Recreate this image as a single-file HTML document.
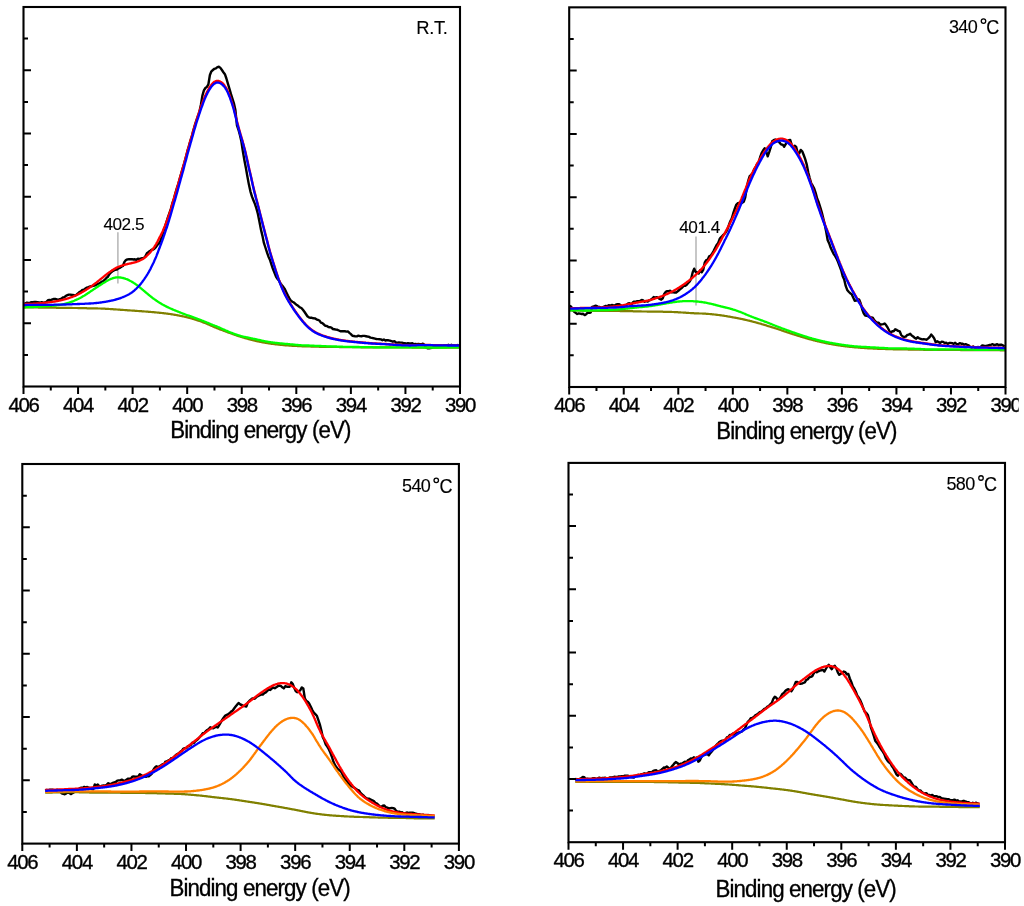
<!DOCTYPE html>
<html><head><meta charset="utf-8"><style>
html,body{margin:0;padding:0;background:#fff;}
svg{display:block;will-change:transform;}
text{font-family:"Liberation Sans", sans-serif;fill:#000;stroke:#000;stroke-width:0.35px;}
.tl{font-size:20.4px;text-anchor:middle;letter-spacing:-1.3px;}
.at{font-size:24px;letter-spacing:-0.95px;}
.lb{font-size:18px;letter-spacing:-0.6px;stroke-width:0.12px;}
.an{font-size:17.2px;letter-spacing:-0.5px;stroke-width:0.12px;}
.deg{font-size:15px;}
</style></head><body>
<svg width="1024" height="906" viewBox="0 0 1024 906">
<defs><clipPath id="clip390" clipPathUnits="userSpaceOnUse"><rect x="900" y="380" width="118.7" height="60"/></clipPath></defs>
<rect width="1024" height="906" fill="#fff"/>
<path d="M117.9,232.3V283.6M696.0,236.4V305.6" stroke="#b0b0b0" stroke-width="1.4" fill="none"/>
<path d="M23.9,303.9 25.4,303.5 26.9,302.6 28.4,302.9 29.9,302.9 31.4,302.2 32.9,302.2 34.4,302.0 35.9,302.0 37.4,302.1 38.9,302.4 40.4,302.7 41.9,302.1 43.4,302.8 44.9,302.5 46.4,301.8 47.9,300.3 49.4,300.0 50.9,300.3 52.4,299.4 53.9,299.0 55.4,299.0 56.9,299.4 58.4,299.8 59.9,299.1 61.4,298.7 62.9,297.5 64.4,297.2 65.9,295.8 67.4,295.2 68.9,294.6 70.4,294.6 71.9,295.0 73.4,295.0 74.9,295.6 76.4,294.7 77.9,293.5 79.4,292.0 80.9,291.4 82.4,290.0 83.9,289.6 85.4,288.5 86.9,287.6 88.4,287.2 89.9,286.5 91.4,286.3 92.9,285.8 94.4,285.5 95.9,285.0 97.4,284.2 98.9,283.5 100.4,282.8 101.9,281.6 103.4,281.0 104.9,279.7 106.4,277.9 107.9,276.7 109.4,274.2 110.9,272.5 112.4,271.3 113.9,270.4 115.4,269.7 116.9,269.6 118.4,268.4 119.9,267.9 121.4,266.8 122.9,266.0 124.4,261.9 125.9,260.1 127.4,259.4 128.9,259.3 130.4,259.3 131.9,259.1 133.4,259.5 134.9,259.3 136.4,259.9 137.9,258.7 139.4,259.2 140.9,258.5 142.4,258.2 143.9,258.0 145.4,256.2 146.9,253.2 148.4,252.1 149.9,251.1 151.4,249.8 152.9,249.6 154.4,248.7 155.9,247.2 157.4,244.8 158.9,243.6 160.4,240.7 161.9,236.6 163.4,231.6 164.9,226.9 166.4,222.3 167.9,217.4 169.4,213.1 170.9,208.8 172.4,203.2 173.9,198.9 175.4,193.1 176.9,188.2 178.4,183.5 179.9,178.1 181.4,172.8 182.9,167.5 184.4,162.6 185.9,157.1 187.4,151.2 188.9,146.1 190.4,140.6 191.9,136.2 193.4,130.1 194.9,125.2 196.4,120.4 197.9,116.2 199.4,111.8 200.9,104.8 202.4,95.6 203.9,90.4 205.4,88.0 206.9,86.9 208.4,84.3 209.9,75.0 211.4,71.3 212.9,70.0 214.4,68.8 215.9,68.4 217.4,67.1 218.9,66.8 220.4,67.9 221.9,70.0 223.4,72.2 224.9,74.2 226.4,78.5 227.9,83.7 229.4,88.5 230.9,93.9 232.4,98.6 233.9,103.3 235.4,110.0 236.9,125.0 238.4,129.5 239.9,135.0 241.4,141.5 242.9,151.6 244.4,160.2 245.9,168.0 247.4,176.5 248.9,184.6 250.4,191.3 251.9,196.4 253.4,200.2 254.9,203.9 256.4,208.4 257.9,213.9 259.4,221.5 260.9,229.4 262.4,235.6 263.9,242.9 265.4,247.5 266.9,252.1 268.4,256.4 269.9,259.7 271.4,264.4 272.9,268.8 274.4,272.6 275.9,276.3 277.4,278.8 278.9,280.6 280.4,283.2 281.9,285.2 283.4,287.1 284.9,289.3 286.4,292.4 287.9,295.6 289.4,298.4 290.9,300.6 292.4,301.7 293.9,302.5 295.4,303.8 296.9,305.1 298.4,306.1 299.9,307.4 301.4,308.0 302.9,309.8 304.4,311.8 305.9,314.0 307.4,316.2 308.9,317.4 310.4,317.8 311.9,317.8 313.4,318.3 314.9,318.4 316.4,319.3 317.9,319.9 319.4,320.5 320.9,322.6 322.4,323.2 323.9,324.5 325.4,325.8 326.9,326.0 328.4,327.0 329.9,327.2 331.4,327.6 332.9,329.0 334.4,329.3 335.9,329.6 337.4,329.8 338.9,330.5 340.4,331.3 341.9,331.2 343.4,331.2 344.9,331.3 346.4,331.6 347.9,331.4 349.4,332.9 350.9,334.1 352.4,335.8 353.9,336.0 355.4,336.4 356.9,336.4 358.4,335.7 359.9,336.1 361.4,336.2 362.9,335.9 364.4,335.9 365.9,336.2 367.4,336.5 368.9,336.7 370.4,337.6 371.9,337.9 373.4,338.2 374.9,338.6 376.4,339.0 377.9,339.1 379.4,339.2 380.9,339.4 382.4,340.2 383.9,339.5 385.4,340.5 386.9,340.1 388.4,340.3 389.9,340.7 391.4,341.2 392.9,341.7 394.4,341.2 395.9,342.5 397.4,342.6 398.9,342.4 400.4,342.6 401.9,342.6 403.4,343.2 404.9,343.2 406.4,343.6 407.9,343.1 409.4,343.5 410.9,343.4 412.4,343.3 413.9,344.2 415.4,343.9 416.9,344.2 418.4,343.9 419.9,344.1 421.4,344.3 422.9,343.7 424.4,344.8 425.9,347.5 427.4,348.3 428.9,348.4 430.4,348.0 431.9,347.7 433.4,347.2 434.9,347.0 436.4,347.1 437.9,347.1 439.4,346.3 440.9,346.7 442.4,346.1 443.9,345.4 445.4,345.5 446.9,345.3 448.4,344.8 449.9,345.3 451.4,344.8 452.9,345.3 454.4,345.3 455.9,345.8 457.4,345.0 458.9,345.7" stroke="#000" stroke-width="2.4" fill="none" stroke-linejoin="round"/>
<path d="M23.5,304.1 24.0,304.1 24.5,304.1 25.0,304.1 25.5,304.1 26.0,304.0 26.5,304.0 27.0,304.0 27.5,304.0 28.0,304.0 28.5,303.9 29.0,303.9 29.5,303.9 30.0,303.9 30.5,303.9 31.0,303.9 31.5,303.8 32.0,303.8 32.5,303.8 33.0,303.8 33.5,303.7 34.0,303.7 34.5,303.7 35.0,303.7 35.5,303.6 36.0,303.6 36.5,303.6 37.0,303.5 37.5,303.5 38.0,303.4 38.5,303.4 39.0,303.4 39.5,303.3 40.0,303.3 40.5,303.2 41.0,303.2 41.5,303.1 42.0,303.1 42.5,303.0 43.0,303.0 43.5,302.9 44.0,302.9 44.5,302.8 45.0,302.8 45.4,302.7 45.9,302.7 46.4,302.6 46.9,302.6 47.4,302.5 47.9,302.4 48.4,302.4 48.9,302.3 49.4,302.3 49.9,302.2 50.4,302.1 50.9,302.1 51.4,302.0 51.9,301.9 52.4,301.9 52.9,301.8 53.4,301.7 53.9,301.6 54.4,301.5 54.9,301.5 55.4,301.4 55.9,301.3 56.4,301.2 56.9,301.1 57.4,301.0 57.9,300.9 58.4,300.8 58.9,300.7 59.3,300.6 59.8,300.5 60.3,300.4 60.8,300.3 61.3,300.2 61.8,300.1 62.3,300.0 62.8,299.8 63.3,299.7 63.8,299.6 64.3,299.5 64.8,299.3 65.3,299.2 65.8,299.0 66.3,298.9 66.8,298.7 67.3,298.6 67.8,298.4 68.3,298.3 68.8,298.1 69.3,298.0 69.7,297.8 70.2,297.6 70.7,297.4 71.3,297.2 71.8,297.1 72.3,296.9 72.8,296.7 73.3,296.5 73.8,296.3 74.3,296.1 74.8,295.8 75.3,295.6 75.8,295.4 76.3,295.2 76.8,294.9 77.3,294.7 77.8,294.5 78.3,294.2 78.8,293.9 79.3,293.7 79.8,293.4 80.4,293.2 80.9,292.9 81.4,292.6 81.9,292.3 82.4,292.0 82.9,291.7 83.4,291.4 83.9,291.1 84.5,290.8 85.0,290.5 85.5,290.2 86.0,289.9 86.5,289.6 87.0,289.2 87.6,288.9 88.1,288.5 88.6,288.2 89.1,287.9 89.6,287.5 90.1,287.1 90.6,286.8 91.2,286.4 91.7,286.1 92.2,285.7 92.7,285.3 93.2,284.9 93.7,284.6 94.2,284.2 94.7,283.8 95.2,283.4 95.7,283.0 96.2,282.7 96.7,282.3 97.2,281.9 97.7,281.5 98.2,281.1 98.7,280.7 99.2,280.3 99.7,279.9 100.2,279.5 100.7,279.1 101.2,278.7 101.7,278.3 102.2,277.9 102.7,277.5 103.2,277.1 103.6,276.7 104.1,276.3 104.6,275.9 105.1,275.5 105.6,275.1 106.1,274.7 106.6,274.3 107.1,273.9 107.6,273.6 108.1,273.2 108.6,272.8 109.1,272.4 109.6,272.1 110.1,271.7 110.6,271.4 111.1,271.0 111.6,270.7 112.1,270.3 112.6,270.0 113.1,269.7 113.6,269.4 114.1,269.1 114.6,268.8 115.1,268.5 115.6,268.2 116.1,267.9 116.6,267.7 117.1,267.4 117.6,267.2 118.1,267.0 118.6,266.8 119.1,266.5 119.6,266.4 120.1,266.2 120.6,266.0 121.1,265.8 121.6,265.7 122.1,265.5 122.6,265.4 123.1,265.2 123.6,265.1 124.1,264.9 124.6,264.8 125.1,264.6 125.6,264.5 126.1,264.4 126.6,264.3 127.1,264.1 127.6,264.0 128.1,263.9 128.5,263.8 129.0,263.7 129.5,263.6 130.0,263.5 130.5,263.4 131.0,263.3 131.5,263.1 132.0,263.0 132.5,262.9 133.0,262.8 133.5,262.7 134.0,262.6 134.5,262.4 135.0,262.3 135.5,262.2 136.0,262.0 136.5,261.9 137.0,261.7 137.5,261.5 138.0,261.3 138.5,261.2 139.0,261.0 139.5,260.7 139.9,260.5 140.4,260.3 140.9,260.0 141.4,259.8 141.9,259.5 142.4,259.2 142.9,258.9 143.4,258.6 143.8,258.3 144.3,257.9 144.8,257.6 145.3,257.2 145.8,256.8 146.3,256.4 146.7,255.9 147.2,255.5 147.7,255.0 148.2,254.5 148.7,254.0 149.2,253.5 149.7,253.0 150.2,252.4 150.7,251.8 151.2,251.2 151.7,250.6 152.2,249.9 152.7,249.2 153.2,248.5 153.8,247.8 154.3,247.0 154.8,246.2 155.3,245.4 155.8,244.5 156.4,243.6 156.9,242.6 157.4,241.7 157.9,240.7 158.5,239.7 159.0,238.6 159.5,237.6 160.0,236.6 160.6,235.6 161.1,234.5 161.6,233.4 162.2,232.3 162.7,231.2 163.2,230.0 163.7,228.8 164.3,227.6 164.8,226.3 165.3,225.0 165.8,223.7 166.3,222.4 166.8,221.0 167.3,219.7 167.8,218.4 168.3,217.0 168.8,215.6 169.3,214.2 169.8,212.7 170.3,211.1 170.7,209.6 171.2,208.0 171.6,206.3 172.1,204.7 172.6,203.0 173.1,201.4 173.5,199.8 174.0,198.1 174.5,196.5 175.0,194.8 175.5,193.2 176.0,191.5 176.5,189.9 177.0,188.1 177.5,186.4 178.0,184.7 178.5,182.9 179.0,181.1 179.5,179.4 180.0,177.6 180.5,175.9 181.0,174.2 181.5,172.5 182.0,170.7 182.5,168.9 183.1,167.2 183.6,165.3 184.1,163.5 184.6,161.6 185.1,159.8 185.6,157.9 186.1,156.0 186.6,154.1 187.1,152.2 187.6,150.4 188.1,148.6 188.7,146.8 189.2,145.0 189.7,143.2 190.2,141.4 190.7,139.7 191.2,137.9 191.8,136.0 192.3,134.2 192.8,132.4 193.3,130.6 193.9,128.8 194.4,127.0 194.9,125.2 195.5,123.4 196.0,121.7 196.5,120.0 197.1,118.3 197.6,116.6 198.1,115.0 198.7,113.4 199.2,111.8 199.8,110.2 200.3,108.6 200.9,107.0 201.4,105.5 202.0,103.9 202.5,102.4 203.1,101.0 203.6,99.5 204.2,98.2 204.7,96.8 205.3,95.6 205.8,94.4 206.4,93.2 206.9,92.1 207.5,91.0 208.0,90.0 208.6,89.0 209.1,88.1 209.6,87.2 210.2,86.4 210.7,85.6 211.3,84.9 211.8,84.3 212.3,83.7 212.9,83.1 213.4,82.6 213.9,82.2 214.4,81.8 215.0,81.5 215.5,81.2 216.0,81.0 216.5,80.9 217.0,80.8 217.5,80.8 218.0,80.8 218.5,80.9 219.0,81.0 219.5,81.2 220.0,81.4 220.4,81.7 220.9,81.9 221.4,82.3 221.9,82.6 222.3,83.0 222.8,83.5 223.3,83.9 223.7,84.5 224.2,85.0 224.6,85.6 225.1,86.3 225.6,87.0 226.0,87.7 226.5,88.5 226.9,89.4 227.4,90.3 227.8,91.2 228.3,92.2 228.7,93.3 229.2,94.4 229.6,95.5 230.1,96.7 230.5,98.0 231.0,99.3 231.4,100.6 231.9,101.9 232.3,103.4 232.8,104.8 233.2,106.4 233.7,108.0 234.1,109.7 234.6,111.5 235.1,113.3 235.5,115.3 236.0,117.2 236.5,119.1 236.9,121.0 237.4,122.8 237.9,124.6 238.3,126.3 238.8,128.1 239.3,129.8 239.8,131.5 240.2,133.2 240.7,134.8 241.2,136.4 241.7,138.0 242.2,139.7 242.7,141.3 243.1,143.0 243.6,144.8 244.1,146.7 244.6,148.6 245.1,150.6 245.6,152.6 246.1,154.7 246.6,156.9 247.1,159.1 247.6,161.3 248.1,163.5 248.5,165.7 249.0,167.8 249.5,169.9 250.0,172.0 250.5,174.2 251.0,176.4 251.5,178.6 252.0,180.9 252.5,183.2 253.0,185.4 253.5,187.5 254.0,189.6 254.5,191.6 255.0,193.6 255.5,195.6 256.0,197.5 256.5,199.3 257.0,201.2 257.5,203.1 258.0,205.0 258.5,207.0 259.0,209.0 259.5,211.0 260.0,213.0 260.5,215.0 261.0,216.9 261.5,218.9 262.0,220.8 262.5,222.7 263.0,224.7 263.5,226.6 264.0,228.5 264.5,230.5 265.0,232.4 265.5,234.3 266.0,236.2 266.5,238.1 267.0,240.1 267.5,242.1 268.0,244.1 268.5,246.0 269.0,247.9 269.5,249.7 270.0,251.5 270.5,253.2 271.0,254.9 271.5,256.6 272.0,258.2 272.5,259.9 273.0,261.5 273.5,263.1 274.0,264.7 274.5,266.3 275.0,267.9 275.5,269.4 276.0,271.0 276.5,272.5 277.0,274.0 277.5,275.5 278.0,277.0 278.5,278.4 279.0,279.8 279.5,281.1 280.0,282.5 280.5,283.8 281.0,285.1 281.5,286.3 282.0,287.5 282.5,288.7 283.0,289.8 283.5,291.0 284.0,292.0 284.5,293.1 285.0,294.1 285.5,295.1 286.0,296.1 286.5,297.0 287.0,297.9 287.5,298.8 288.0,299.7 288.5,300.6 289.0,301.4 289.5,302.2 290.0,303.0 290.5,303.9 291.0,304.7 291.5,305.4 292.0,306.2 292.5,307.0 293.0,307.8 293.5,308.5 294.0,309.3 294.5,310.0 295.0,310.8 295.5,311.5 296.0,312.2 296.5,312.9 297.0,313.6 297.5,314.3 298.0,315.0 298.5,315.7 299.0,316.4 299.5,317.0 300.0,317.7 300.5,318.3 301.0,319.0 301.5,319.6 302.0,320.2 302.5,320.8 303.0,321.4 303.5,322.0 304.0,322.5 304.5,323.1 305.0,323.6 305.5,324.2 306.0,324.7 306.5,325.2 307.0,325.7 307.5,326.2 308.0,326.7 308.5,327.1 309.0,327.6 309.5,328.0 310.0,328.4 310.5,328.8 311.0,329.2 311.5,329.6 312.0,330.0 312.5,330.3 313.0,330.7 313.5,331.0 314.0,331.3 314.5,331.6 315.0,331.9 315.5,332.2 316.0,332.5 316.5,332.7 317.0,333.0 317.5,333.2 318.0,333.5 318.5,333.7 319.0,333.9 319.5,334.2 320.0,334.4 320.5,334.6 321.0,334.8 321.5,335.0 322.0,335.2 322.5,335.4 323.0,335.5 323.5,335.7 324.0,335.9 324.5,336.1 325.0,336.2 325.5,336.4 326.0,336.6 326.5,336.7 327.0,336.9 327.5,337.0 328.0,337.2 328.5,337.3 329.0,337.4 329.5,337.6 330.0,337.7 330.5,337.9 331.0,338.0 331.5,338.1 332.0,338.2 332.5,338.4 333.0,338.5 333.5,338.6 334.0,338.7 334.5,338.8 335.0,338.9 335.5,339.0 336.0,339.1 336.5,339.2 337.0,339.3 337.5,339.4 338.0,339.5 338.5,339.6 339.0,339.7 339.5,339.8 340.0,339.9 340.5,340.0 341.0,340.1 341.5,340.1 342.0,340.2 342.5,340.3 343.0,340.4 343.5,340.4 344.0,340.5 344.5,340.6 345.0,340.7 345.5,340.7 346.0,340.8 346.5,340.9 347.0,340.9 347.5,341.0 348.0,341.0 348.5,341.1 349.0,341.2 349.5,341.2 350.0,341.3 350.5,341.3 351.0,341.4 351.5,341.4 352.0,341.5 352.5,341.5 353.0,341.6 353.5,341.6 354.0,341.7 354.5,341.7 355.0,341.8 355.5,341.8 356.0,341.9 356.5,341.9 357.0,342.0 357.5,342.0 358.0,342.1 358.5,342.1 359.0,342.1 359.5,342.2 360.0,342.2 360.5,342.3 361.0,342.3 361.5,342.4 362.0,342.4 362.5,342.5 363.0,342.5 363.5,342.6 364.0,342.6 364.5,342.7 365.0,342.7 365.5,342.7 366.0,342.8 366.5,342.8 367.0,342.9 367.5,342.9 368.0,343.0 368.5,343.0 369.0,343.0 369.5,343.1 370.0,343.1 370.5,343.1 371.0,343.2 371.5,343.2 372.0,343.2 372.5,343.3 373.0,343.3 373.5,343.3 374.0,343.4 374.5,343.4 375.0,343.4 375.5,343.5 376.0,343.5 376.5,343.5 377.0,343.5 377.5,343.6 378.0,343.6 378.5,343.6 379.0,343.6 379.5,343.7 380.0,343.7 380.5,343.7 381.0,343.8 381.5,343.8 382.0,343.8 382.5,343.8 383.0,343.8 383.5,343.9 384.0,343.9 384.5,343.9 385.0,344.0 385.5,344.0 386.0,344.0 386.5,344.0 387.0,344.1 387.5,344.1 388.0,344.1 388.5,344.2 389.0,344.2 389.5,344.2 390.0,344.3 390.5,344.3 391.0,344.3 391.5,344.4 392.0,344.4 392.5,344.4 393.0,344.5 393.5,344.5 394.0,344.6 394.5,344.6 395.0,344.6 395.5,344.7 396.0,344.7 396.5,344.7 397.0,344.8 397.5,344.8 398.0,344.8 398.5,344.9 399.0,344.9 399.5,344.9 400.0,344.9 400.5,345.0 401.0,345.0 401.5,345.0 402.0,345.0 402.5,345.0 403.0,345.1 403.5,345.1 404.0,345.1 404.5,345.1 405.0,345.1 405.5,345.1 406.0,345.1 406.5,345.2 407.0,345.2 407.5,345.2 408.0,345.2 408.5,345.2 409.0,345.2 409.5,345.2 410.0,345.2 410.5,345.2 411.0,345.2 411.5,345.2 412.0,345.2 412.5,345.2 413.0,345.2 413.5,345.2 414.0,345.1 414.5,345.1 415.0,345.1 415.5,345.1 416.0,345.1 416.5,345.0 417.0,345.0 417.5,345.0 418.0,345.0 418.5,345.0 419.0,345.0 419.5,344.9 420.0,344.9 420.5,344.9 421.0,344.9 421.5,344.9 422.0,344.9 422.5,344.9 423.0,344.9 423.5,344.9 424.0,344.9 424.5,344.9 425.0,344.9 425.5,345.0 426.0,345.0 426.5,345.0 427.0,345.0 427.5,345.0 428.0,345.0 428.5,345.0 429.0,345.0 429.5,345.0 430.0,345.0 430.5,345.0 431.0,345.1 431.5,345.1 432.0,345.1 432.5,345.1 433.0,345.1 433.5,345.1 434.0,345.1 434.5,345.1 435.0,345.1 435.5,345.1 436.0,345.1 436.5,345.2 437.0,345.2 437.5,345.2 438.0,345.2 438.5,345.2 439.0,345.2 439.5,345.2 440.0,345.2 440.5,345.2 441.0,345.2 441.5,345.2 442.0,345.2 442.5,345.3 443.0,345.3 443.5,345.3 444.0,345.3 444.5,345.3 445.0,345.3 445.5,345.3 446.0,345.3 446.5,345.3 447.0,345.3 447.5,345.3 448.0,345.3 448.5,345.3 449.0,345.3 449.5,345.3 450.0,345.3 450.5,345.3 451.0,345.3 451.5,345.3 452.0,345.3 452.5,345.3 453.0,345.3 453.5,345.3 454.0,345.3 454.5,345.3 455.0,345.3 455.5,345.3 456.0,345.4 456.5,345.4 457.0,345.4 457.5,345.4 458.0,345.4 458.5,345.4 459.0,345.4" stroke="#ff0000" stroke-width="2.3" fill="none"/>
<path d="M23.5,307.4 24.0,307.4 24.5,307.4 25.0,307.4 25.5,307.4 26.0,307.4 26.5,307.4 27.0,307.4 27.5,307.4 28.0,307.4 28.5,307.5 29.0,307.5 29.5,307.5 30.0,307.5 30.5,307.5 31.0,307.5 31.5,307.5 32.0,307.5 32.5,307.5 33.0,307.5 33.5,307.5 34.0,307.5 34.5,307.5 35.0,307.5 35.5,307.5 36.0,307.5 36.5,307.5 37.0,307.5 37.5,307.5 38.0,307.5 38.5,307.6 39.0,307.6 39.5,307.6 40.0,307.6 40.5,307.6 41.0,307.6 41.5,307.6 42.0,307.6 42.5,307.6 43.0,307.6 43.5,307.6 44.0,307.6 44.5,307.6 45.0,307.6 45.5,307.6 46.0,307.6 46.5,307.7 47.0,307.7 47.5,307.7 48.0,307.7 48.5,307.7 49.0,307.7 49.5,307.7 50.0,307.7 50.5,307.7 51.0,307.7 51.5,307.7 52.0,307.7 52.5,307.7 53.0,307.7 53.5,307.7 54.0,307.7 54.5,307.7 55.0,307.7 55.5,307.7 56.0,307.7 56.5,307.8 57.0,307.8 57.5,307.8 58.0,307.8 58.5,307.8 59.0,307.8 59.5,307.8 60.0,307.8 60.5,307.8 61.0,307.8 61.5,307.8 62.0,307.8 62.5,307.8 63.0,307.8 63.5,307.8 64.0,307.8 64.5,307.8 65.0,307.8 65.5,307.9 66.0,307.9 66.5,307.9 67.0,307.9 67.5,307.9 68.0,307.9 68.5,307.9 69.0,307.9 69.5,307.9 70.0,307.9 70.5,307.9 71.0,307.9 71.5,307.9 72.0,307.9 72.5,308.0 73.0,308.0 73.5,308.0 74.0,308.0 74.5,308.0 75.0,308.0 75.5,308.0 76.0,308.0 76.5,308.0 77.0,308.0 77.5,308.0 78.0,308.1 78.5,308.1 79.0,308.1 79.5,308.1 80.0,308.1 80.5,308.1 81.0,308.1 81.5,308.1 82.0,308.1 82.5,308.2 83.0,308.2 83.5,308.2 84.0,308.2 84.5,308.2 85.0,308.2 85.5,308.2 86.0,308.2 86.5,308.2 87.0,308.3 87.5,308.3 88.0,308.3 88.5,308.3 89.0,308.3 89.5,308.3 90.0,308.3 90.5,308.3 91.0,308.3 91.5,308.3 92.0,308.3 92.5,308.4 93.0,308.4 93.5,308.4 94.0,308.4 94.5,308.4 95.0,308.4 95.5,308.4 96.0,308.4 96.5,308.4 97.0,308.4 97.5,308.4 98.0,308.5 98.5,308.5 99.0,308.5 99.5,308.5 100.0,308.5 100.5,308.5 101.0,308.6 101.5,308.6 102.0,308.6 102.5,308.6 103.0,308.6 103.5,308.7 104.0,308.7 104.5,308.7 105.0,308.7 105.5,308.8 106.0,308.8 106.5,308.8 107.0,308.8 107.5,308.9 108.0,308.9 108.5,308.9 109.0,309.0 109.5,309.0 110.0,309.0 110.5,309.1 111.0,309.1 111.5,309.1 112.0,309.2 112.5,309.2 113.0,309.2 113.5,309.3 114.0,309.3 114.5,309.3 115.0,309.4 115.5,309.4 116.0,309.4 116.5,309.5 117.0,309.5 117.5,309.5 118.0,309.6 118.5,309.6 119.0,309.7 119.5,309.7 120.0,309.7 120.5,309.8 121.0,309.8 121.5,309.8 122.0,309.9 122.5,309.9 123.0,309.9 123.5,310.0 124.0,310.0 124.5,310.0 125.0,310.1 125.5,310.1 126.0,310.1 126.5,310.2 127.0,310.2 127.5,310.3 128.0,310.3 128.5,310.3 129.0,310.4 129.5,310.4 130.0,310.4 130.5,310.5 131.0,310.5 131.5,310.5 132.0,310.6 132.5,310.6 133.0,310.6 133.5,310.7 134.0,310.7 134.5,310.7 135.0,310.8 135.5,310.8 136.0,310.9 136.5,310.9 137.0,310.9 137.5,311.0 138.0,311.0 138.5,311.0 139.0,311.1 139.5,311.1 140.0,311.1 140.5,311.2 141.0,311.2 141.5,311.2 142.0,311.3 142.5,311.3 143.0,311.4 143.5,311.4 144.0,311.4 144.5,311.5 145.0,311.5 145.5,311.5 146.0,311.6 146.5,311.6 147.0,311.6 147.5,311.7 148.0,311.7 148.5,311.8 149.0,311.8 149.5,311.8 150.0,311.9 150.5,311.9 151.0,312.0 151.5,312.0 152.0,312.1 152.5,312.1 153.0,312.1 153.5,312.2 154.0,312.2 154.5,312.3 155.0,312.3 155.5,312.4 156.0,312.4 156.5,312.5 157.0,312.5 157.5,312.6 158.0,312.6 158.5,312.7 159.0,312.7 159.5,312.8 160.0,312.8 160.6,312.9 161.1,312.9 161.6,313.0 162.1,313.0 162.6,313.1 163.1,313.1 163.6,313.2 164.1,313.3 164.6,313.3 165.1,313.4 165.6,313.4 166.1,313.5 166.6,313.6 167.1,313.6 167.6,313.7 168.1,313.8 168.6,313.8 169.1,313.9 169.6,314.0 170.1,314.0 170.6,314.1 171.1,314.2 171.6,314.3 172.1,314.4 172.6,314.4 173.1,314.5 173.6,314.6 174.1,314.7 174.6,314.8 175.1,314.9 175.6,314.9 176.1,315.0 176.6,315.1 177.1,315.2 177.6,315.3 178.1,315.4 178.6,315.5 179.1,315.6 179.6,315.7 180.1,315.8 180.6,315.9 181.2,316.0 181.7,316.1 182.2,316.2 182.7,316.3 183.2,316.4 183.7,316.5 184.2,316.6 184.7,316.7 185.2,316.9 185.7,317.0 186.2,317.1 186.7,317.2 187.2,317.3 187.7,317.5 188.2,317.6 188.7,317.7 189.2,317.9 189.7,318.0 190.2,318.1 190.7,318.3 191.2,318.4 191.7,318.5 192.2,318.7 192.7,318.8 193.2,319.0 193.7,319.1 194.2,319.3 194.7,319.4 195.2,319.6 195.7,319.7 196.2,319.9 196.7,320.1 197.2,320.2 197.7,320.4 198.2,320.6 198.7,320.7 199.2,320.9 199.7,321.1 200.2,321.3 200.7,321.4 201.2,321.6 201.7,321.8 202.2,322.0 202.7,322.2 203.2,322.4 203.7,322.6 204.2,322.7 204.7,322.9 205.2,323.1 205.7,323.3 206.2,323.6 206.7,323.8 207.2,324.0 207.7,324.2 208.2,324.4 208.6,324.6 209.1,324.8 209.6,325.1 210.1,325.3 210.6,325.5 211.1,325.7 211.6,325.9 212.1,326.1 212.6,326.3 213.0,326.6 213.5,326.8 214.0,327.0 214.5,327.2 215.0,327.4 215.5,327.6 216.0,327.8 216.5,328.0 217.0,328.2 217.5,328.4 218.0,328.6 218.5,328.8 219.0,329.0 219.5,329.2 220.0,329.4 220.5,329.6 221.0,329.7 221.5,329.9 222.0,330.1 222.5,330.3 223.0,330.5 223.5,330.7 224.0,330.9 224.5,331.1 225.0,331.3 225.5,331.5 226.0,331.6 226.5,331.8 227.0,332.0 227.5,332.2 228.0,332.4 228.5,332.6 229.0,332.7 229.5,332.9 230.0,333.1 230.5,333.3 231.0,333.5 231.5,333.6 232.0,333.8 232.5,334.0 233.0,334.2 233.5,334.4 234.0,334.5 234.5,334.7 235.0,334.9 235.5,335.0 236.0,335.2 236.5,335.4 237.0,335.6 237.5,335.7 238.0,335.9 238.5,336.1 239.0,336.2 239.5,336.4 240.0,336.5 240.5,336.7 241.0,336.9 241.5,337.0 242.0,337.2 242.5,337.3 243.0,337.5 243.5,337.6 244.0,337.8 244.5,337.9 245.0,338.1 245.5,338.2 246.0,338.4 246.5,338.5 247.0,338.6 247.5,338.8 248.0,338.9 248.5,339.1 249.0,339.2 249.5,339.3 250.0,339.5 250.5,339.6 251.0,339.7 251.5,339.9 252.0,340.0 252.5,340.1 253.0,340.2 253.5,340.4 254.0,340.5 254.5,340.6 255.0,340.7 255.5,340.8 256.0,340.9 256.5,341.1 257.0,341.2 257.5,341.3 258.0,341.4 258.5,341.5 259.0,341.6 259.5,341.7 260.0,341.8 260.5,341.9 261.0,342.0 261.5,342.1 262.0,342.2 262.5,342.3 263.0,342.4 263.5,342.5 264.0,342.6 264.5,342.7 265.0,342.7 265.5,342.8 266.0,342.9 266.5,343.0 267.0,343.1 267.5,343.2 268.0,343.2 268.5,343.3 269.0,343.4 269.5,343.5 270.0,343.6 270.5,343.6 271.0,343.7 271.5,343.8 272.0,343.8 272.5,343.9 273.0,344.0 273.5,344.0 274.0,344.1 274.5,344.2 275.0,344.2 275.5,344.3 276.0,344.4 276.5,344.4 277.0,344.5 277.5,344.5 278.0,344.6 278.5,344.6 279.0,344.7 279.5,344.7 280.0,344.8 280.5,344.8 281.0,344.9 281.5,344.9 282.0,345.0 282.5,345.0 283.0,345.1 283.5,345.1 284.0,345.2 284.5,345.2 285.0,345.3 285.5,345.3 286.0,345.3 286.5,345.4 287.0,345.4 287.5,345.5 288.0,345.5 288.5,345.5 289.0,345.6 289.5,345.6 290.0,345.6 290.5,345.7 291.0,345.7 291.5,345.7 292.0,345.8 292.5,345.8 293.0,345.8 293.5,345.9 294.0,345.9 294.5,345.9 295.0,345.9 295.5,346.0 296.0,346.0 296.5,346.0 297.0,346.0 297.5,346.1 298.0,346.1 298.5,346.1 299.0,346.1 299.5,346.2 300.0,346.2 300.5,346.2 301.0,346.2 301.5,346.2 302.0,346.3 302.5,346.3 303.0,346.3 303.5,346.3 304.0,346.3 304.5,346.4 305.0,346.4 305.5,346.4 306.0,346.4 306.5,346.4 307.0,346.4 307.5,346.5 308.0,346.5 308.5,346.5 309.0,346.5 309.5,346.5 310.0,346.5 310.5,346.5 311.0,346.6 311.5,346.6 312.0,346.6 312.5,346.6 313.0,346.6 313.5,346.6 314.0,346.6 314.5,346.7 315.0,346.7 315.5,346.7 316.0,346.7 316.5,346.7 317.0,346.7 317.5,346.7 318.0,346.7 318.5,346.7 319.0,346.7 319.5,346.8 320.0,346.8 320.5,346.8 321.0,346.8 321.5,346.8 322.0,346.8 322.5,346.8 323.0,346.8 323.5,346.8 324.0,346.8 324.5,346.9 325.0,346.9 325.5,346.9 326.0,346.9 326.5,346.9 327.0,346.9 327.5,346.9 328.0,346.9 328.5,346.9 329.0,346.9 329.5,346.9 330.0,346.9 330.5,346.9 331.0,346.9 331.5,347.0 332.0,347.0 332.5,347.0 333.0,347.0 333.5,347.0 334.0,347.0 334.5,347.0 335.0,347.0 335.5,347.0 336.0,347.0 336.5,347.0 337.0,347.0 337.5,347.0 338.0,347.0 338.5,347.0 339.0,347.0 339.5,347.1 340.0,347.1 340.5,347.1 341.0,347.1 341.5,347.1 342.0,347.1 342.5,347.1 343.0,347.1 343.5,347.1 344.0,347.1 344.5,347.1 345.0,347.1 345.5,347.1 346.0,347.1 346.5,347.1 347.0,347.1 347.5,347.1 348.0,347.1 348.5,347.1 349.0,347.2 349.5,347.2 350.0,347.2 350.5,347.2 351.0,347.2 351.5,347.2 352.0,347.2 352.5,347.2 353.0,347.2 353.5,347.2 354.0,347.2 354.5,347.2 355.0,347.2 355.5,347.2 356.0,347.2 356.5,347.2 357.0,347.2 357.5,347.2 358.0,347.2 358.5,347.2 359.0,347.2 359.5,347.2 360.0,347.2 360.5,347.2 361.0,347.3 361.5,347.3 362.0,347.3 362.5,347.3 363.0,347.3 363.5,347.3 364.0,347.3 364.5,347.3 365.0,347.3 365.5,347.3 366.0,347.3 366.5,347.3 367.0,347.3 367.5,347.3 368.0,347.3 368.5,347.3 369.0,347.3 369.5,347.3 370.0,347.3 370.5,347.3 371.0,347.3 371.5,347.3 372.0,347.3 372.5,347.3 373.0,347.3 373.5,347.3 374.0,347.3 374.5,347.3 375.0,347.4 375.5,347.4 376.0,347.4 376.5,347.4 377.0,347.4 377.5,347.4 378.0,347.4 378.5,347.4 379.0,347.4 379.5,347.4 380.0,347.4 380.5,347.4 381.0,347.4 381.5,347.4 382.0,347.4 382.5,347.4 383.0,347.4 383.5,347.4 384.0,347.4 384.5,347.4 385.0,347.4 385.5,347.4 386.0,347.4 386.5,347.4 387.0,347.4 387.5,347.4 388.0,347.4 388.5,347.4 389.0,347.4 389.5,347.4 390.0,347.4 390.5,347.4 391.0,347.4 391.5,347.5 392.0,347.5 392.5,347.5 393.0,347.5 393.5,347.5 394.0,347.5 394.5,347.5 395.0,347.5 395.5,347.5 396.0,347.5 396.5,347.5 397.0,347.5 397.5,347.5 398.0,347.5 398.5,347.5 399.0,347.5 399.5,347.5 400.0,347.5 400.5,347.5 401.0,347.5 401.5,347.5 402.0,347.5 402.5,347.5 403.0,347.5 403.5,347.5 404.0,347.5 404.5,347.5 405.0,347.5 405.5,347.5 406.0,347.5 406.5,347.5 407.0,347.5 407.5,347.5 408.0,347.5 408.5,347.5 409.0,347.5 409.5,347.5 410.0,347.5 410.5,347.5 411.0,347.5 411.5,347.5 412.0,347.6 412.5,347.6 413.0,347.6 413.5,347.6 414.0,347.6 414.5,347.6 415.0,347.6 415.5,347.6 416.0,347.6 416.5,347.6 417.0,347.6 417.5,347.6 418.0,347.6 418.5,347.6 419.0,347.6 419.5,347.6 420.0,347.6 420.5,347.6 421.0,347.6 421.5,347.6 422.0,347.6 422.5,347.6 423.0,347.6 423.5,347.6 424.0,347.6 424.5,347.6 425.0,347.6 425.5,347.6 426.0,347.6 426.5,347.6 427.0,347.6 427.5,347.6 428.0,347.6 428.5,347.6 429.0,347.6 429.5,347.6 430.0,347.6 430.5,347.6 431.0,347.6 431.5,347.6 432.0,347.6 432.5,347.6 433.0,347.6 433.5,347.6 434.0,347.6 434.5,347.6 435.0,347.6 435.5,347.6 436.0,347.6 436.5,347.6 437.0,347.7 437.5,347.7 438.0,347.7 438.5,347.7 439.0,347.7 439.5,347.7 440.0,347.7 440.5,347.7 441.0,347.7 441.5,347.7 442.0,347.7 442.5,347.7 443.0,347.7 443.5,347.7 444.0,347.7 444.5,347.7 445.0,347.7 445.5,347.7 446.0,347.7 446.5,347.7 447.0,347.7 447.5,347.7 448.0,347.7 448.5,347.7 449.0,347.7 449.5,347.7 450.0,347.7 450.5,347.7 451.0,347.7 451.5,347.7 452.0,347.7 452.5,347.7 453.0,347.7 453.5,347.7 454.0,347.7 454.5,347.7 455.0,347.7 455.5,347.7 456.0,347.7 456.5,347.7 457.0,347.7 457.5,347.7 458.0,347.7 458.5,347.7 459.0,347.7" stroke="#808000" stroke-width="2.2" fill="none"/>
<path d="M23.5,307.3 24.0,307.3 24.5,307.3 25.0,307.3 25.5,307.3 26.0,307.2 26.5,307.2 27.0,307.2 27.5,307.2 28.0,307.2 28.5,307.2 29.0,307.2 29.5,307.1 30.0,307.1 30.5,307.1 31.0,307.1 31.5,307.1 32.0,307.0 32.5,307.0 33.0,307.0 33.5,307.0 34.0,306.9 34.5,306.9 35.0,306.9 35.5,306.8 36.0,306.8 36.5,306.8 37.0,306.7 37.5,306.7 38.0,306.7 38.5,306.7 39.0,306.6 39.5,306.6 40.0,306.6 40.5,306.5 41.0,306.5 41.5,306.5 42.0,306.4 42.5,306.4 43.0,306.4 43.5,306.3 44.0,306.3 44.5,306.3 45.0,306.3 45.5,306.2 46.0,306.2 46.5,306.2 47.0,306.1 47.5,306.1 48.0,306.1 48.5,306.0 49.0,306.0 49.5,305.9 50.0,305.9 50.5,305.9 51.0,305.8 51.5,305.8 52.0,305.7 52.5,305.7 53.0,305.7 53.5,305.6 54.1,305.6 54.6,305.5 55.1,305.5 55.6,305.4 56.1,305.4 56.6,305.3 57.1,305.2 57.6,305.2 58.1,305.1 58.6,305.0 59.1,305.0 59.6,304.9 60.1,304.8 60.6,304.7 61.1,304.6 61.6,304.5 62.1,304.4 62.6,304.3 63.1,304.2 63.6,304.1 64.2,304.0 64.7,303.9 65.2,303.8 65.7,303.6 66.2,303.5 66.7,303.4 67.2,303.2 67.7,303.1 68.2,302.9 68.7,302.8 69.2,302.6 69.7,302.4 70.2,302.3 70.7,302.1 71.2,301.9 71.7,301.7 72.2,301.6 72.7,301.4 73.2,301.2 73.7,301.0 74.2,300.8 74.6,300.6 75.1,300.3 75.6,300.1 76.1,299.9 76.6,299.7 77.1,299.4 77.6,299.2 78.1,299.0 78.6,298.7 79.1,298.5 79.6,298.2 80.1,298.0 80.6,297.7 81.0,297.4 81.5,297.2 82.0,296.9 82.5,296.6 83.0,296.3 83.5,296.0 84.0,295.8 84.5,295.5 84.9,295.2 85.4,294.9 85.9,294.6 86.4,294.2 86.9,293.9 87.4,293.6 87.8,293.3 88.3,293.0 88.8,292.7 89.3,292.3 89.8,292.0 90.2,291.7 90.7,291.3 91.2,291.0 91.7,290.7 92.2,290.4 92.7,290.0 93.1,289.7 93.6,289.4 94.1,289.0 94.6,288.7 95.1,288.4 95.6,288.1 96.1,287.7 96.6,287.4 97.1,287.1 97.6,286.8 98.0,286.5 98.5,286.1 99.0,285.8 99.5,285.5 100.0,285.2 100.5,284.9 101.0,284.6 101.5,284.3 101.9,284.0 102.4,283.6 102.9,283.3 103.4,283.0 103.9,282.8 104.3,282.5 104.8,282.2 105.3,281.9 105.8,281.6 106.3,281.3 106.7,281.1 107.2,280.8 107.7,280.5 108.1,280.3 108.6,280.0 109.1,279.8 109.6,279.6 110.0,279.3 110.5,279.1 111.0,278.9 111.5,278.7 111.9,278.5 112.4,278.4 112.9,278.2 113.4,278.1 113.8,277.9 114.3,277.8 114.8,277.7 115.3,277.6 115.8,277.5 116.3,277.4 116.8,277.4 117.3,277.4 117.8,277.3 118.3,277.4 118.8,277.4 119.3,277.4 119.8,277.5 120.4,277.5 120.9,277.6 121.4,277.7 121.9,277.8 122.4,277.9 123.0,278.0 123.5,278.1 124.0,278.3 124.6,278.4 125.1,278.6 125.6,278.8 126.2,279.0 126.7,279.2 127.3,279.4 127.8,279.6 128.3,279.9 128.9,280.1 129.4,280.4 129.9,280.7 130.5,281.0 131.0,281.2 131.6,281.6 132.1,281.9 132.6,282.2 133.1,282.5 133.7,282.9 134.2,283.2 134.7,283.6 135.3,283.9 135.8,284.3 136.3,284.7 136.8,285.1 137.3,285.4 137.8,285.8 138.4,286.2 138.9,286.6 139.4,287.0 139.9,287.5 140.4,287.9 140.9,288.3 141.4,288.7 141.9,289.1 142.4,289.5 142.9,290.0 143.4,290.4 143.9,290.8 144.4,291.2 144.9,291.7 145.4,292.1 145.9,292.5 146.4,292.9 146.9,293.3 147.4,293.7 147.9,294.2 148.4,294.6 148.9,295.0 149.4,295.4 149.9,295.8 150.4,296.2 150.9,296.6 151.4,297.0 151.9,297.4 152.4,297.8 152.9,298.2 153.4,298.5 153.9,298.9 154.5,299.3 155.0,299.6 155.5,300.0 156.0,300.3 156.5,300.7 157.0,301.0 157.5,301.4 158.0,301.7 158.5,302.0 159.0,302.4 159.5,302.7 160.0,303.0 160.5,303.3 161.0,303.6 161.5,303.9 162.0,304.2 162.5,304.5 163.0,304.8 163.5,305.0 164.0,305.3 164.5,305.6 165.0,305.8 165.5,306.1 166.0,306.4 166.5,306.6 167.0,306.9 167.5,307.1 168.0,307.3 168.5,307.6 169.0,307.8 169.5,308.0 170.0,308.3 170.5,308.5 171.0,308.7 171.5,308.9 172.0,309.1 172.5,309.4 173.0,309.6 173.5,309.8 174.0,310.0 174.5,310.2 175.0,310.4 175.5,310.6 176.0,310.8 176.5,311.0 177.0,311.2 177.5,311.4 178.0,311.6 178.5,311.8 179.0,312.0 179.5,312.2 180.0,312.4 180.4,312.6 180.9,312.8 181.4,313.0 181.9,313.2 182.4,313.4 182.9,313.6 183.4,313.8 183.9,314.0 184.4,314.1 184.9,314.3 185.4,314.5 185.9,314.7 186.4,314.9 186.9,315.0 187.4,315.2 187.9,315.4 188.4,315.6 188.9,315.7 189.4,315.9 189.9,316.1 190.4,316.2 190.9,316.4 191.4,316.6 191.9,316.8 192.4,316.9 192.9,317.1 193.4,317.3 193.9,317.5 194.4,317.7 194.9,317.8 195.4,318.0 195.9,318.2 196.4,318.4 196.9,318.6 197.4,318.8 197.9,319.0 198.4,319.2 198.9,319.3 199.4,319.5 199.9,319.7 200.4,319.9 200.9,320.1 201.4,320.3 201.9,320.5 202.4,320.7 202.9,320.9 203.4,321.1 203.9,321.3 204.4,321.5 204.9,321.7 205.4,321.9 205.9,322.1 206.4,322.3 206.9,322.5 207.4,322.7 207.9,322.9 208.4,323.1 208.9,323.3 209.4,323.5 209.9,323.7 210.4,324.0 210.9,324.2 211.4,324.4 211.9,324.6 212.4,324.8 212.9,325.0 213.4,325.2 213.9,325.4 214.4,325.6 214.9,325.8 215.4,326.0 216.0,326.2 216.5,326.4 217.0,326.6 217.5,326.8 218.0,327.0 218.5,327.2 219.0,327.4 219.4,327.6 219.9,327.9 220.4,328.1 220.9,328.3 221.4,328.5 221.9,328.7 222.4,329.0 222.9,329.2 223.4,329.4 223.9,329.6 224.4,329.8 224.9,330.1 225.4,330.3 225.9,330.5 226.4,330.7 226.9,330.9 227.4,331.1 227.8,331.3 228.3,331.6 228.8,331.8 229.3,332.0 229.8,332.2 230.3,332.4 230.8,332.6 231.3,332.8 231.8,333.0 232.3,333.1 232.8,333.3 233.3,333.5 233.8,333.7 234.3,333.9 234.8,334.1 235.3,334.3 235.8,334.4 236.3,334.6 236.8,334.8 237.3,334.9 237.9,335.1 238.4,335.3 238.9,335.4 239.4,335.6 239.9,335.7 240.4,335.9 240.9,336.0 241.4,336.2 241.9,336.3 242.4,336.4 242.9,336.5 243.5,336.7 244.0,336.8 244.5,336.9 245.0,337.0 245.5,337.1 246.0,337.2 246.5,337.3 247.0,337.4 247.6,337.5 248.1,337.6 248.6,337.7 249.1,337.8 249.6,337.9 250.1,338.1 250.6,338.2 251.1,338.3 251.6,338.4 252.1,338.5 252.6,338.6 253.1,338.7 253.7,338.8 254.2,338.9 254.7,339.0 255.2,339.1 255.7,339.2 256.2,339.4 256.7,339.5 257.2,339.6 257.7,339.7 258.2,339.8 258.7,339.9 259.2,340.0 259.7,340.1 260.1,340.2 260.6,340.4 261.1,340.5 261.6,340.6 262.1,340.7 262.6,340.8 263.1,340.9 263.6,341.0 264.1,341.1 264.6,341.2 265.1,341.3 265.6,341.4 266.1,341.5 266.6,341.6 267.1,341.7 267.6,341.7 268.1,341.8 268.6,341.9 269.1,342.0 269.6,342.1 270.1,342.1 270.6,342.2 271.1,342.3 271.6,342.4 272.1,342.4 272.6,342.5 273.1,342.6 273.6,342.6 274.1,342.7 274.6,342.7 275.1,342.8 275.6,342.9 276.1,342.9 276.6,343.0 277.1,343.0 277.6,343.1 278.1,343.1 278.6,343.2 279.1,343.2 279.6,343.3 280.1,343.3 280.6,343.4 281.1,343.4 281.6,343.5 282.1,343.5 282.6,343.6 283.1,343.6 283.6,343.7 284.1,343.7 284.6,343.8 285.1,343.8 285.6,343.9 286.1,343.9 286.6,343.9 287.1,344.0 287.6,344.0 288.1,344.1 288.6,344.1 289.1,344.2 289.6,344.2 290.1,344.3 290.6,344.3 291.1,344.3 291.6,344.4 292.1,344.4 292.5,344.5 293.0,344.5 293.5,344.6 294.0,344.6 294.5,344.7 295.0,344.7 295.5,344.8 296.0,344.8 296.5,344.9 297.0,344.9 297.5,345.0 298.0,345.0 298.5,345.1 299.0,345.1 299.5,345.1 300.0,345.2 300.5,345.2 301.0,345.2 301.5,345.3 302.0,345.3 302.5,345.3 303.0,345.3 303.5,345.3 304.0,345.4 304.5,345.4 305.0,345.4 305.5,345.4 306.0,345.4 306.5,345.5 307.0,345.5 307.5,345.5 308.0,345.5 308.5,345.5 309.0,345.5 309.5,345.6 310.0,345.6 310.5,345.6 311.0,345.6 311.5,345.6 312.0,345.7 312.5,345.7 313.0,345.7 313.5,345.7 314.0,345.7 314.5,345.8 315.0,345.8 315.5,345.8 316.0,345.8 316.5,345.8 317.0,345.9 317.5,345.9 318.0,345.9 318.5,345.9 319.0,346.0 319.5,346.0 320.0,346.0 320.5,346.0 321.0,346.0 321.5,346.1 322.0,346.1 322.5,346.1 323.0,346.1 323.5,346.1 324.0,346.2 324.5,346.2 325.0,346.2 325.5,346.2 326.0,346.2 326.5,346.3 327.0,346.3 327.5,346.3 328.0,346.3 328.5,346.3 329.0,346.3 329.5,346.3 330.0,346.4 330.5,346.4 331.0,346.4 331.5,346.4 332.0,346.4 332.5,346.4 333.0,346.4 333.5,346.5 334.0,346.5 334.5,346.5 335.0,346.5 335.5,346.5 336.0,346.5 336.5,346.5 337.0,346.6 337.5,346.6 338.0,346.6 338.5,346.6 339.0,346.6 339.5,346.6 340.0,346.7 340.5,346.7 341.0,346.7 341.5,346.7 342.0,346.7 342.5,346.7 343.0,346.8 343.5,346.8 344.0,346.8 344.5,346.8 345.0,346.8 345.5,346.8 346.0,346.8 346.5,346.8 347.0,346.9 347.5,346.9 348.0,346.9 348.5,346.9 349.0,346.9 349.5,346.9 350.0,346.9 350.5,346.9 351.0,346.9 351.5,346.9 352.0,346.9 352.5,347.0 353.0,347.0 353.5,347.0 354.0,347.0 354.5,347.0 355.0,347.0 355.5,347.0 356.0,347.0 356.5,347.0 357.0,347.0 357.5,347.0 358.0,347.0 358.5,347.0 359.0,347.0 359.5,347.1 360.0,347.1 360.5,347.1 361.0,347.1 361.5,347.1 362.0,347.1 362.5,347.1 363.0,347.1 363.5,347.1 364.0,347.1 364.5,347.1 365.0,347.1 365.5,347.2 366.0,347.2 366.5,347.2 367.0,347.2 367.5,347.2 368.0,347.2 368.5,347.2 369.0,347.2 369.5,347.2 370.0,347.2 370.5,347.2 371.0,347.2 371.5,347.2 372.0,347.2 372.5,347.2 373.0,347.3 373.5,347.3 374.0,347.3 374.5,347.3 375.0,347.3 375.5,347.3 376.0,347.3 376.5,347.3 377.0,347.3 377.5,347.3 378.0,347.3 378.5,347.3 379.0,347.3 379.5,347.3 380.0,347.3 380.5,347.3 381.0,347.3 381.5,347.3 382.0,347.3 382.5,347.3 383.0,347.3 383.5,347.3 384.0,347.3 384.5,347.3 385.0,347.3 385.5,347.3 386.0,347.3 386.5,347.3 387.0,347.3 387.5,347.3 388.0,347.3 388.5,347.3 389.0,347.3 389.5,347.3 390.0,347.3 390.5,347.3 391.0,347.3 391.5,347.3 392.0,347.3 392.5,347.3 393.0,347.3 393.5,347.3 394.0,347.3 394.5,347.3 395.0,347.3 395.5,347.3 396.0,347.3 396.5,347.3 397.0,347.4 397.5,347.4 398.0,347.4 398.5,347.4 399.0,347.4 399.5,347.4 400.0,347.4 400.5,347.4 401.0,347.4 401.5,347.4 402.0,347.4 402.5,347.4 403.0,347.4 403.5,347.4 404.0,347.4 404.5,347.4 405.0,347.4 405.5,347.4 406.0,347.4 406.5,347.4 407.0,347.4 407.5,347.4 408.0,347.4 408.5,347.4 409.0,347.4 409.5,347.4 410.0,347.4 410.5,347.4 411.0,347.4 411.5,347.4 412.0,347.4 412.5,347.4 413.0,347.4 413.5,347.4 414.0,347.4 414.5,347.4 415.0,347.4 415.5,347.4 416.0,347.4 416.5,347.4 417.0,347.4 417.5,347.4 418.0,347.4 418.5,347.4 419.0,347.4 419.5,347.4 420.0,347.4 420.5,347.4 421.0,347.4 421.5,347.4 422.0,347.4 422.5,347.4 423.0,347.4 423.5,347.5 424.0,347.5 424.5,347.5 425.0,347.5 425.5,347.5 426.0,347.5 426.5,347.5 427.0,347.5 427.5,347.5 428.0,347.5 428.5,347.5 429.0,347.5 429.5,347.5 430.0,347.5 430.5,347.5 431.0,347.5 431.5,347.5 432.0,347.5 432.5,347.5 433.0,347.5 433.5,347.5 434.0,347.5 434.5,347.5 435.0,347.5 435.5,347.5 436.0,347.5 436.5,347.5 437.0,347.5 437.5,347.5 438.0,347.5 438.5,347.5 439.0,347.5 439.5,347.5 440.0,347.5 440.5,347.5 441.0,347.5 441.5,347.5 442.0,347.5 442.5,347.5 443.0,347.5 443.5,347.5 444.0,347.5 444.5,347.5 445.0,347.5 445.5,347.5 446.0,347.5 446.5,347.5 447.0,347.4 447.5,347.4 448.0,347.4 448.5,347.4 449.0,347.4 449.5,347.4 450.0,347.4 450.5,347.4 451.0,347.4 451.5,347.4 452.0,347.4 452.5,347.4 453.0,347.4 453.5,347.4 454.0,347.4 454.5,347.4 455.0,347.4 455.5,347.4 456.0,347.4 456.5,347.4 457.0,347.4 457.5,347.4 458.0,347.4 458.5,347.4 459.0,347.4" stroke="#00ff00" stroke-width="2.3" fill="none"/>
<path d="M23.5,305.0 24.0,305.0 24.5,305.0 25.0,305.0 25.5,305.0 26.0,305.0 26.5,304.9 27.0,304.9 27.5,304.9 28.0,304.9 28.5,304.9 29.0,304.9 29.5,304.9 30.0,304.9 30.5,304.9 31.0,304.9 31.5,304.9 32.0,304.9 32.5,304.9 33.0,304.9 33.5,304.9 34.0,304.9 34.5,304.9 35.0,304.9 35.5,304.9 36.0,304.9 36.5,304.9 37.0,304.9 37.5,304.9 38.0,304.9 38.5,304.9 39.0,304.9 39.5,304.9 40.0,304.9 40.5,304.9 41.0,304.9 41.5,304.9 42.0,304.9 42.5,304.9 43.0,304.9 43.5,304.9 44.0,304.9 44.5,304.9 45.0,304.9 45.5,304.9 46.0,304.9 46.5,304.9 47.0,304.8 47.5,304.8 48.0,304.8 48.5,304.8 49.0,304.8 49.5,304.8 50.0,304.8 50.5,304.8 51.0,304.8 51.5,304.8 52.0,304.8 52.5,304.8 53.0,304.8 53.5,304.8 54.0,304.7 54.5,304.7 55.0,304.7 55.5,304.7 56.0,304.7 56.5,304.7 57.0,304.7 57.5,304.7 58.0,304.7 58.5,304.7 59.0,304.6 59.5,304.6 60.0,304.6 60.5,304.6 61.0,304.6 61.5,304.6 62.0,304.6 62.5,304.6 63.0,304.5 63.5,304.5 64.0,304.5 64.5,304.5 65.0,304.5 65.5,304.5 66.0,304.5 66.5,304.4 67.0,304.4 67.5,304.4 68.0,304.4 68.5,304.4 69.0,304.4 69.5,304.3 70.0,304.3 70.5,304.3 71.0,304.3 71.5,304.3 72.0,304.3 72.5,304.2 73.0,304.2 73.5,304.2 74.0,304.2 74.5,304.2 75.0,304.1 75.5,304.1 76.0,304.1 76.5,304.1 77.0,304.1 77.5,304.0 78.0,304.0 78.5,304.0 79.0,304.0 79.5,304.0 80.0,303.9 80.5,303.9 81.0,303.9 81.5,303.9 82.0,303.8 82.5,303.8 83.0,303.8 83.5,303.8 84.0,303.8 84.5,303.8 85.0,303.7 85.5,303.7 86.0,303.7 86.5,303.7 87.0,303.6 87.5,303.6 88.0,303.6 88.5,303.6 89.0,303.5 89.5,303.5 90.0,303.5 90.5,303.5 91.0,303.4 91.5,303.4 92.0,303.4 92.5,303.3 93.0,303.3 93.5,303.3 94.0,303.2 94.5,303.2 95.0,303.1 95.5,303.1 96.0,303.0 96.5,303.0 97.0,302.9 97.5,302.9 98.0,302.8 98.5,302.8 99.0,302.7 99.5,302.6 100.0,302.6 100.5,302.5 101.0,302.5 101.5,302.4 102.0,302.3 102.5,302.2 103.0,302.2 103.5,302.1 104.0,302.0 104.5,301.9 105.0,301.9 105.5,301.8 106.0,301.7 106.5,301.6 107.0,301.5 107.5,301.4 108.0,301.3 108.5,301.2 109.0,301.1 109.5,301.0 110.0,300.9 110.5,300.8 111.0,300.7 111.5,300.6 112.0,300.5 112.5,300.4 113.0,300.3 113.5,300.2 114.0,300.0 114.5,299.9 115.0,299.8 115.4,299.6 115.9,299.5 116.4,299.4 116.9,299.2 117.4,299.1 117.9,298.9 118.4,298.8 118.9,298.6 119.4,298.4 120.0,298.3 120.5,298.1 121.0,297.9 121.5,297.7 122.0,297.5 122.5,297.3 123.0,297.1 123.5,296.9 124.0,296.7 124.5,296.5 125.0,296.3 125.5,296.0 126.0,295.8 126.5,295.5 127.1,295.3 127.6,295.0 128.1,294.7 128.6,294.5 129.1,294.2 129.6,293.9 130.2,293.5 130.7,293.2 131.2,292.9 131.7,292.5 132.2,292.2 132.7,291.8 133.2,291.4 133.7,291.0 134.2,290.6 134.7,290.1 135.2,289.7 135.7,289.2 136.2,288.8 136.7,288.3 137.2,287.8 137.7,287.3 138.2,286.7 138.7,286.2 139.2,285.6 139.7,285.1 140.2,284.5 140.7,283.9 141.2,283.3 141.7,282.6 142.2,282.0 142.7,281.3 143.2,280.7 143.6,280.0 144.1,279.3 144.6,278.6 145.1,277.8 145.6,277.1 146.1,276.3 146.6,275.6 147.1,274.8 147.6,274.0 148.1,273.1 148.6,272.3 149.1,271.4 149.6,270.5 150.1,269.6 150.6,268.7 151.0,267.8 151.5,266.8 152.0,265.8 152.5,264.8 153.0,263.8 153.5,262.8 154.0,261.7 154.4,260.6 154.9,259.5 155.4,258.4 155.9,257.3 156.4,256.1 156.8,254.9 157.3,253.8 157.8,252.5 158.2,251.3 158.7,250.0 159.2,248.8 159.7,247.5 160.2,246.2 160.7,244.9 161.2,243.5 161.7,242.2 162.2,240.8 162.7,239.4 163.2,238.0 163.7,236.5 164.2,235.1 164.7,233.6 165.2,232.1 165.7,230.6 166.2,229.0 166.8,227.5 167.3,225.9 167.8,224.3 168.3,222.7 168.8,221.1 169.3,219.5 169.8,217.8 170.3,216.1 170.8,214.4 171.3,212.7 171.8,211.0 172.3,209.3 172.8,207.5 173.3,205.7 173.8,204.0 174.3,202.2 174.9,200.4 175.4,198.5 175.9,196.7 176.4,194.9 177.0,193.0 177.5,191.1 178.0,189.3 178.5,187.4 179.0,185.5 179.5,183.6 180.1,181.7 180.6,179.8 181.1,177.8 181.7,175.9 182.2,174.0 182.8,172.0 183.3,170.1 183.8,168.2 184.3,166.2 184.8,164.3 185.3,162.3 185.9,160.4 186.4,158.4 186.9,156.5 187.4,154.5 187.9,152.6 188.5,150.7 189.0,148.7 189.6,146.8 190.1,144.9 190.6,143.0 191.2,141.1 191.7,139.2 192.2,137.4 192.8,135.5 193.3,133.7 193.8,131.8 194.3,130.0 194.9,128.2 195.4,126.4 195.9,124.7 196.4,122.9 197.0,121.2 197.5,119.5 198.1,117.9 198.6,116.2 199.1,114.6 199.7,113.0 200.2,111.4 200.7,109.9 201.2,108.4 201.8,106.9 202.3,105.5 202.8,104.1 203.3,102.7 203.8,101.3 204.3,100.0 204.8,98.8 205.4,97.6 205.9,96.4 206.4,95.2 207.0,94.2 207.5,93.1 208.0,92.1 208.5,91.2 209.1,90.2 209.6,89.4 210.1,88.6 210.6,87.8 211.1,87.1 211.6,86.4 212.2,85.8 212.7,85.2 213.2,84.7 213.7,84.2 214.2,83.8 214.8,83.5 215.3,83.2 215.8,82.9 216.4,82.7 216.9,82.6 217.5,82.6 218.1,82.6 218.6,82.7 219.2,82.8 219.7,83.0 220.3,83.2 220.8,83.5 221.3,83.9 221.8,84.2 222.3,84.6 222.8,85.1 223.3,85.6 223.8,86.1 224.3,86.7 224.8,87.4 225.3,88.0 225.7,88.8 226.2,89.5 226.6,90.3 227.1,91.2 227.5,92.1 228.0,93.0 228.4,94.0 228.8,95.0 229.2,96.0 229.7,97.1 230.1,98.2 230.5,99.4 230.9,100.6 231.4,101.8 231.8,103.1 232.2,104.3 232.6,105.7 233.0,107.0 233.5,108.5 233.9,109.9 234.2,111.4 234.6,112.9 235.0,114.4 235.4,116.0 235.8,117.6 236.2,119.2 236.6,120.8 237.0,122.5 237.4,124.2 237.9,125.9 238.4,127.6 238.8,129.3 239.3,131.1 239.8,132.9 240.3,134.6 240.9,136.5 241.4,138.3 242.0,140.1 242.5,142.0 243.1,143.9 243.6,145.8 244.1,147.7 244.6,149.6 245.1,151.6 245.6,153.6 246.0,155.6 246.5,157.6 246.9,159.6 247.4,161.6 247.8,163.6 248.3,165.6 248.8,167.7 249.2,169.7 249.7,171.8 250.2,173.8 250.7,175.9 251.2,177.9 251.6,180.0 252.1,182.1 252.5,184.1 253.0,186.2 253.5,188.2 253.9,190.3 254.4,192.3 255.0,194.4 255.5,196.4 256.0,198.5 256.6,200.5 257.1,202.5 257.6,204.5 258.2,206.5 258.7,208.5 259.2,210.5 259.7,212.5 260.2,214.5 260.7,216.5 261.2,218.5 261.7,220.4 262.2,222.4 262.7,224.3 263.2,226.2 263.7,228.1 264.2,230.0 264.7,231.9 265.1,233.8 265.6,235.6 266.1,237.5 266.6,239.3 267.1,241.1 267.5,242.9 268.0,244.7 268.4,246.5 268.9,248.3 269.4,250.0 269.8,251.7 270.3,253.4 270.8,255.1 271.3,256.8 271.8,258.4 272.3,260.0 272.8,261.6 273.3,263.2 273.8,264.8 274.3,266.4 274.8,267.9 275.2,269.4 275.7,270.9 276.2,272.4 276.7,273.8 277.2,275.3 277.7,276.7 278.1,278.1 278.6,279.5 279.1,280.8 279.6,282.2 280.1,283.5 280.6,284.8 281.1,286.1 281.6,287.3 282.1,288.6 282.7,289.8 283.2,291.0 283.7,292.1 284.2,293.3 284.8,294.4 285.3,295.5 285.9,296.5 286.5,297.6 287.0,298.6 287.6,299.6 288.2,300.6 288.7,301.6 289.3,302.5 289.9,303.5 290.4,304.4 291.0,305.3 291.6,306.1 292.1,307.0 292.7,307.8 293.2,308.7 293.7,309.5 294.3,310.3 294.8,311.1 295.3,311.8 295.9,312.6 296.4,313.3 296.9,314.0 297.4,314.7 297.9,315.4 298.4,316.1 298.9,316.8 299.4,317.4 299.9,318.1 300.4,318.7 300.9,319.3 301.4,319.9 301.9,320.5 302.3,321.1 302.8,321.7 303.3,322.2 303.8,322.8 304.3,323.3 304.7,323.9 305.2,324.4 305.7,324.9 306.2,325.4 306.6,325.9 307.1,326.3 307.6,326.8 308.1,327.2 308.5,327.7 309.0,328.1 309.5,328.5 310.0,328.9 310.5,329.3 311.0,329.7 311.5,330.1 312.0,330.4 312.4,330.8 312.9,331.1 313.4,331.5 313.9,331.8 314.4,332.1 314.9,332.4 315.5,332.7 316.0,332.9 316.5,333.2 317.0,333.4 317.5,333.7 318.0,333.9 318.5,334.2 319.0,334.4 319.5,334.6 320.0,334.8 320.5,335.0 321.0,335.2 321.5,335.4 322.0,335.6 322.5,335.8 323.0,336.0 323.5,336.2 324.0,336.3 324.5,336.5 325.0,336.7 325.5,336.8 326.0,337.0 326.5,337.1 327.0,337.3 327.5,337.4 328.0,337.6 328.5,337.7 329.0,337.9 329.5,338.0 330.0,338.1 330.5,338.3 331.0,338.4 331.5,338.5 332.0,338.6 332.5,338.8 333.0,338.9 333.5,339.0 334.0,339.1 334.5,339.2 335.0,339.3 335.5,339.4 336.0,339.5 336.5,339.6 337.0,339.7 337.5,339.8 338.0,339.9 338.5,340.0 339.0,340.1 339.5,340.2 340.0,340.3 340.5,340.3 341.0,340.4 341.5,340.5 342.0,340.6 342.5,340.7 343.0,340.7 343.5,340.8 344.0,340.9 344.5,340.9 345.0,341.0 345.5,341.1 346.0,341.1 346.5,341.2 347.0,341.3 347.5,341.3 348.0,341.4 348.5,341.4 349.0,341.5 349.5,341.5 350.0,341.6 350.5,341.6 351.0,341.7 351.5,341.7 352.0,341.8 352.5,341.8 353.0,341.9 353.5,341.9 354.0,342.0 354.5,342.0 355.0,342.1 355.5,342.1 356.0,342.2 356.5,342.2 357.0,342.3 357.5,342.3 358.0,342.4 358.5,342.4 359.0,342.5 359.5,342.5 360.0,342.5 360.5,342.6 361.0,342.6 361.5,342.7 362.0,342.7 362.5,342.8 363.0,342.8 363.5,342.9 364.0,342.9 364.5,343.0 365.0,343.0 365.5,343.0 366.0,343.1 366.5,343.1 367.0,343.2 367.5,343.2 368.0,343.2 368.5,343.3 369.0,343.3 369.5,343.4 370.0,343.4 370.5,343.4 371.0,343.5 371.5,343.5 372.0,343.5 372.5,343.6 373.0,343.6 373.5,343.6 374.0,343.7 374.5,343.7 375.0,343.7 375.5,343.7 376.0,343.8 376.5,343.8 377.0,343.8 377.5,343.8 378.0,343.9 378.5,343.9 379.0,343.9 379.5,343.9 380.0,344.0 380.5,344.0 381.0,344.0 381.5,344.0 382.0,344.1 382.5,344.1 383.0,344.1 383.5,344.1 384.0,344.2 384.5,344.2 385.0,344.2 385.5,344.2 386.0,344.3 386.5,344.3 387.0,344.3 387.5,344.4 388.0,344.4 388.5,344.4 389.0,344.5 389.5,344.5 390.0,344.5 390.5,344.6 391.0,344.6 391.5,344.6 392.0,344.7 392.5,344.7 393.0,344.8 393.5,344.8 394.0,344.8 394.5,344.9 395.0,344.9 395.5,344.9 396.0,345.0 396.5,345.0 397.0,345.0 397.5,345.1 398.0,345.1 398.5,345.1 399.0,345.1 399.5,345.2 400.0,345.2 400.5,345.2 401.0,345.2 401.5,345.3 402.0,345.3 402.5,345.3 403.0,345.3 403.5,345.3 404.0,345.4 404.5,345.4 405.0,345.4 405.5,345.4 406.0,345.4 406.5,345.4 407.0,345.4 407.5,345.4 408.0,345.4 408.5,345.4 409.0,345.5 409.5,345.5 410.0,345.5 410.5,345.5 411.0,345.4 411.5,345.4 412.0,345.4 412.5,345.4 413.0,345.4 413.5,345.4 414.0,345.4 414.5,345.4 415.0,345.3 415.5,345.3 416.0,345.3 416.5,345.3 417.0,345.2 417.5,345.2 418.0,345.2 418.5,345.2 419.0,345.2 419.5,345.1 420.0,345.1 420.5,345.1 421.0,345.1 421.5,345.1 422.0,345.1 422.5,345.1 423.0,345.1 423.5,345.1 424.0,345.1 424.5,345.1 425.0,345.1 425.5,345.1 426.0,345.1 426.5,345.1 427.0,345.1 427.5,345.2 428.0,345.2 428.5,345.2 429.0,345.2 429.5,345.2 430.0,345.2 430.5,345.2 431.0,345.2 431.5,345.2 432.0,345.2 432.5,345.2 433.0,345.3 433.5,345.3 434.0,345.3 434.5,345.3 435.0,345.3 435.5,345.3 436.0,345.3 436.5,345.3 437.0,345.3 437.5,345.3 438.0,345.3 438.5,345.3 439.0,345.4 439.5,345.4 440.0,345.4 440.5,345.4 441.0,345.4 441.5,345.4 442.0,345.4 442.5,345.4 443.0,345.4 443.5,345.4 444.0,345.4 444.5,345.4 445.0,345.4 445.5,345.4 446.0,345.4 446.5,345.4 447.0,345.4 447.5,345.5 448.0,345.5 448.5,345.5 449.0,345.5 449.5,345.5 450.0,345.5 450.5,345.5 451.0,345.5 451.5,345.5 452.0,345.5 452.5,345.5 453.0,345.5 453.5,345.5 454.0,345.5 454.5,345.5 455.0,345.5 455.5,345.5 456.0,345.5 456.5,345.5 457.0,345.5 457.5,345.5 458.0,345.5 458.5,345.5 459.0,345.5" stroke="#0000ff" stroke-width="2.3" fill="none"/>
<path d="M569.7,305.8 571.2,306.8 572.7,310.0 574.2,311.8 575.7,312.9 577.2,314.0 578.7,313.4 580.2,313.6 581.7,314.0 583.2,313.8 584.7,315.1 586.2,314.3 587.7,312.4 589.2,312.8 590.7,312.5 592.2,306.8 593.7,306.4 595.2,305.8 596.7,306.0 598.2,307.0 599.7,306.9 601.2,308.0 602.7,307.4 604.2,306.5 605.7,305.9 607.2,306.2 608.7,305.2 610.2,305.7 611.7,305.0 613.2,305.3 614.7,305.4 616.2,304.4 617.7,304.2 619.2,304.2 620.7,305.3 622.2,306.3 623.7,306.6 625.2,306.2 626.7,304.7 628.2,303.4 629.7,303.2 631.2,305.0 632.7,302.6 634.2,301.6 635.7,301.8 637.2,301.2 638.7,301.1 640.2,300.9 641.7,300.0 643.2,300.4 644.7,301.8 646.2,301.0 647.7,301.6 649.2,300.4 650.7,299.8 652.2,298.7 653.7,297.0 655.2,297.6 656.7,297.1 658.2,297.9 659.7,299.0 661.2,299.7 662.7,298.3 664.2,294.0 665.7,291.9 667.2,291.2 668.7,291.1 670.2,290.8 671.7,292.4 673.2,292.4 674.7,292.5 676.2,292.5 677.7,291.4 679.2,290.0 680.7,288.7 682.2,287.5 683.7,285.9 685.2,285.9 686.7,284.7 688.2,283.0 689.7,281.4 691.2,278.6 692.7,272.2 694.2,268.7 695.7,271.9 697.2,272.4 698.7,273.6 700.2,270.2 701.7,272.3 703.2,269.9 704.7,262.7 706.2,260.1 707.7,259.8 709.2,256.3 710.7,255.6 712.2,253.5 713.7,250.8 715.2,247.7 716.7,244.9 718.2,242.9 719.7,238.8 721.2,237.0 722.7,235.5 724.2,234.1 725.7,232.5 727.2,229.8 728.7,225.6 730.2,221.5 731.7,218.5 733.2,213.5 734.7,209.0 736.2,204.9 737.7,203.3 739.2,203.0 740.7,203.2 742.2,202.8 743.7,201.8 745.2,197.5 746.7,188.2 748.2,180.8 749.7,176.2 751.2,174.8 752.7,172.9 754.2,169.3 755.7,167.2 757.2,163.8 758.7,162.2 760.2,157.0 761.7,152.9 763.2,150.3 764.7,148.3 766.2,151.5 767.7,156.3 769.2,152.2 770.7,147.5 772.2,141.3 773.7,140.2 775.2,139.5 776.7,141.6 778.2,140.6 779.7,142.9 781.2,144.5 782.7,144.6 784.2,146.7 785.7,144.1 787.2,141.8 788.7,140.1 790.2,139.9 791.7,144.8 793.2,148.1 794.7,145.8 796.2,147.0 797.7,153.0 799.2,153.6 800.7,149.9 802.2,151.3 803.7,155.0 805.2,159.1 806.7,164.3 808.2,172.2 809.7,178.1 811.2,183.4 812.7,185.7 814.2,188.5 815.7,193.1 817.2,198.8 818.7,202.3 820.2,207.0 821.7,212.1 823.2,218.0 824.7,224.3 826.2,231.8 827.7,240.2 829.2,243.4 830.7,247.8 832.2,251.0 833.7,254.1 835.2,256.1 836.7,258.8 838.2,262.3 839.7,266.4 841.2,270.3 842.7,276.2 844.2,279.4 845.7,285.9 847.2,289.9 848.7,291.7 850.2,293.3 851.7,294.3 853.2,297.6 854.7,300.8 856.2,300.6 857.7,299.0 859.2,299.6 860.7,303.5 862.2,309.3 863.7,313.3 865.2,315.6 866.7,315.8 868.2,316.2 869.7,317.4 871.2,317.4 872.7,317.6 874.2,320.1 875.7,321.6 877.2,322.8 878.7,322.6 880.2,324.7 881.7,324.4 883.2,324.1 884.7,323.5 886.2,325.3 887.7,327.7 889.2,330.5 890.7,333.0 892.2,331.2 893.7,331.2 895.2,329.3 896.7,329.9 898.2,330.9 899.7,331.3 901.2,335.0 902.7,336.5 904.2,336.9 905.7,336.6 907.2,335.0 908.7,334.6 910.2,333.8 911.7,335.5 913.2,336.5 914.7,337.9 916.2,338.7 917.7,337.2 919.2,338.4 920.7,338.9 922.2,339.4 923.7,339.2 925.2,339.4 926.7,339.7 928.2,338.4 929.7,337.0 931.2,334.5 932.7,336.2 934.2,338.4 935.7,342.2 937.2,341.3 938.7,342.1 940.2,342.9 941.7,341.7 943.2,341.9 944.7,343.1 946.2,342.6 947.7,343.9 949.2,342.9 950.7,342.9 952.2,343.1 953.7,343.9 955.2,342.8 956.7,344.1 958.2,344.2 959.7,343.1 961.2,343.7 962.7,343.7 964.2,344.7 965.7,344.2 967.2,344.8 968.7,345.4 970.2,347.1 971.7,347.6 973.2,346.5 974.7,347.6 976.2,347.6 977.7,347.0 979.2,347.2 980.7,346.8 982.2,345.5 983.7,345.8 985.2,346.1 986.7,345.8 988.2,345.3 989.7,344.9 991.2,344.7 992.7,344.2 994.2,345.1 995.7,344.8 997.2,344.1 998.7,345.2 1000.2,344.6 1001.7,344.8 1003.2,345.6 1004.7,346.6" stroke="#000" stroke-width="2.4" fill="none" stroke-linejoin="round"/>
<path d="M569.2,308.3 569.7,308.3 570.2,308.2 570.7,308.2 571.2,308.2 571.7,308.2 572.2,308.2 572.7,308.2 573.2,308.2 573.7,308.2 574.2,308.2 574.7,308.2 575.2,308.1 575.7,308.1 576.2,308.1 576.7,308.1 577.2,308.1 577.7,308.1 578.2,308.1 578.7,308.1 579.2,308.1 579.7,308.1 580.2,308.0 580.7,308.0 581.2,308.0 581.7,308.0 582.2,308.0 582.7,308.0 583.2,308.0 583.7,308.0 584.2,308.0 584.7,307.9 585.2,307.9 585.7,307.9 586.2,307.9 586.7,307.9 587.2,307.9 587.7,307.9 588.2,307.8 588.7,307.8 589.2,307.8 589.7,307.8 590.2,307.8 590.7,307.8 591.2,307.8 591.7,307.7 592.2,307.7 592.7,307.7 593.2,307.7 593.7,307.7 594.2,307.7 594.7,307.6 595.2,307.6 595.7,307.6 596.2,307.6 596.7,307.6 597.2,307.6 597.7,307.5 598.2,307.5 598.7,307.5 599.2,307.5 599.7,307.5 600.2,307.4 600.7,307.4 601.2,307.4 601.7,307.4 602.2,307.3 602.7,307.3 603.2,307.3 603.7,307.2 604.2,307.2 604.7,307.2 605.2,307.1 605.7,307.1 606.2,307.1 606.7,307.0 607.2,307.0 607.7,307.0 608.2,306.9 608.7,306.9 609.2,306.9 609.7,306.8 610.2,306.8 610.7,306.7 611.2,306.7 611.7,306.7 612.2,306.6 612.7,306.6 613.2,306.5 613.7,306.5 614.2,306.4 614.7,306.4 615.2,306.3 615.7,306.3 616.2,306.2 616.7,306.2 617.2,306.1 617.7,306.0 618.2,306.0 618.7,305.9 619.2,305.8 619.7,305.8 620.2,305.7 620.7,305.6 621.2,305.5 621.7,305.4 622.2,305.3 622.7,305.3 623.2,305.2 623.7,305.1 624.2,305.0 624.7,304.9 625.2,304.8 625.7,304.7 626.2,304.6 626.7,304.5 627.2,304.4 627.7,304.3 628.2,304.2 628.7,304.1 629.2,304.0 629.7,303.9 630.2,303.8 630.7,303.8 631.2,303.7 631.7,303.6 632.2,303.5 632.7,303.4 633.2,303.3 633.7,303.2 634.2,303.1 634.7,303.0 635.2,302.9 635.7,302.8 636.2,302.7 636.7,302.6 637.2,302.6 637.7,302.5 638.2,302.4 638.7,302.3 639.2,302.2 639.7,302.1 640.2,302.0 640.7,301.9 641.2,301.8 641.7,301.7 642.2,301.7 642.7,301.6 643.2,301.5 643.7,301.4 644.2,301.3 644.7,301.2 645.2,301.1 645.7,301.0 646.3,300.9 646.8,300.8 647.3,300.7 647.8,300.5 648.3,300.4 648.8,300.3 649.3,300.2 649.8,300.1 650.3,299.9 650.8,299.8 651.3,299.7 651.8,299.5 652.3,299.4 652.8,299.2 653.3,299.1 653.8,298.9 654.3,298.8 654.8,298.6 655.3,298.5 655.8,298.3 656.3,298.1 656.8,298.0 657.3,297.8 657.8,297.6 658.3,297.5 658.9,297.3 659.4,297.1 659.9,296.9 660.4,296.7 660.9,296.6 661.4,296.4 661.9,296.2 662.4,296.0 662.9,295.8 663.4,295.6 663.9,295.4 664.4,295.2 664.9,295.0 665.4,294.7 665.9,294.5 666.4,294.3 666.9,294.1 667.4,293.9 667.9,293.6 668.4,293.4 668.9,293.2 669.4,292.9 669.9,292.7 670.4,292.4 670.9,292.2 671.4,291.9 671.9,291.7 672.4,291.4 672.9,291.2 673.4,290.9 673.9,290.6 674.4,290.4 674.9,290.1 675.4,289.8 675.9,289.5 676.4,289.2 676.9,288.9 677.4,288.6 677.8,288.3 678.3,288.0 678.8,287.7 679.3,287.4 679.8,287.1 680.3,286.7 680.8,286.4 681.3,286.1 681.8,285.8 682.3,285.4 682.8,285.1 683.3,284.7 683.8,284.4 684.3,284.0 684.8,283.7 685.3,283.3 685.8,283.0 686.3,282.6 686.8,282.2 687.3,281.8 687.8,281.5 688.3,281.1 688.8,280.7 689.3,280.3 689.8,279.9 690.3,279.5 690.9,279.1 691.4,278.7 691.9,278.2 692.4,277.8 692.9,277.4 693.4,276.9 693.9,276.5 694.4,276.0 694.9,275.6 695.4,275.1 695.9,274.6 696.4,274.2 696.9,273.7 697.5,273.2 698.0,272.7 698.5,272.2 699.0,271.6 699.5,271.1 700.0,270.6 700.5,270.0 701.1,269.5 701.6,268.9 702.1,268.3 702.6,267.8 703.1,267.2 703.6,266.6 704.1,266.0 704.6,265.4 705.1,264.7 705.6,264.1 706.1,263.5 706.6,262.8 707.1,262.2 707.6,261.5 708.1,260.8 708.6,260.2 709.1,259.5 709.6,258.8 710.1,258.1 710.6,257.4 711.1,256.7 711.6,255.9 712.1,255.2 712.6,254.5 713.1,253.7 713.6,252.9 714.1,252.2 714.6,251.4 715.1,250.6 715.6,249.8 716.1,249.0 716.6,248.2 717.0,247.3 717.5,246.5 718.0,245.6 718.5,244.7 719.0,243.9 719.5,243.0 720.0,242.0 720.5,241.1 721.0,240.2 721.5,239.2 722.0,238.3 722.5,237.3 723.0,236.4 723.5,235.4 724.0,234.5 724.5,233.6 725.0,232.7 725.5,231.7 726.0,230.8 726.5,229.9 727.0,229.0 727.5,228.1 728.0,227.1 728.5,226.2 729.0,225.2 729.5,224.3 730.0,223.3 730.5,222.3 731.0,221.3 731.5,220.2 732.0,219.2 732.5,218.2 733.0,217.1 733.5,216.1 734.0,215.0 734.5,214.0 735.0,212.9 735.5,211.9 736.0,210.8 736.6,209.8 737.1,208.7 737.6,207.6 738.0,206.5 738.5,205.4 739.0,204.3 739.5,203.2 740.0,202.1 740.5,200.9 741.0,199.8 741.5,198.6 741.9,197.4 742.4,196.3 742.9,195.1 743.4,193.9 743.9,192.8 744.3,191.6 744.8,190.4 745.3,189.3 745.8,188.1 746.2,186.9 746.7,185.7 747.2,184.5 747.7,183.3 748.2,182.2 748.6,181.0 749.1,179.8 749.6,178.7 750.1,177.6 750.6,176.5 751.2,175.4 751.7,174.3 752.2,173.3 752.7,172.2 753.2,171.2 753.7,170.2 754.2,169.2 754.7,168.2 755.2,167.2 755.8,166.3 756.3,165.3 756.8,164.4 757.3,163.4 757.8,162.5 758.4,161.6 758.9,160.7 759.4,159.8 759.9,158.9 760.5,158.1 761.0,157.2 761.5,156.3 762.0,155.5 762.6,154.7 763.1,153.8 763.6,153.0 764.1,152.2 764.6,151.5 765.1,150.7 765.7,150.0 766.2,149.3 766.7,148.6 767.2,147.9 767.7,147.3 768.2,146.6 768.7,146.0 769.2,145.5 769.7,144.9 770.2,144.4 770.7,143.9 771.2,143.4 771.7,142.9 772.2,142.5 772.7,142.1 773.2,141.7 773.7,141.3 774.2,141.0 774.7,140.7 775.2,140.4 775.6,140.1 776.1,139.9 776.6,139.6 777.1,139.4 777.6,139.3 778.1,139.1 778.6,139.0 779.1,138.9 779.5,138.8 780.0,138.7 780.5,138.7 781.0,138.7 781.5,138.7 782.0,138.7 782.5,138.7 782.9,138.8 783.4,138.9 783.9,139.0 784.4,139.2 784.9,139.3 785.4,139.5 785.9,139.7 786.3,140.0 786.8,140.2 787.3,140.5 787.8,140.9 788.3,141.3 788.8,141.7 789.3,142.1 789.8,142.6 790.3,143.1 790.8,143.6 791.3,144.1 791.8,144.7 792.3,145.3 792.8,146.0 793.3,146.6 793.8,147.3 794.3,148.0 794.8,148.8 795.3,149.5 795.8,150.3 796.3,151.1 796.8,151.9 797.3,152.7 797.8,153.5 798.3,154.4 798.8,155.2 799.3,156.1 799.8,157.1 800.3,158.0 800.8,158.9 801.3,159.9 801.8,160.9 802.3,161.9 802.8,163.0 803.3,164.0 803.7,165.1 804.2,166.2 804.7,167.4 805.2,168.6 805.7,169.7 806.2,171.0 806.7,172.2 807.2,173.5 807.7,174.8 808.2,176.1 808.7,177.4 809.2,178.7 809.7,180.1 810.2,181.5 810.7,182.8 811.2,184.3 811.7,185.7 812.2,187.1 812.7,188.6 813.2,190.2 813.7,191.7 814.2,193.3 814.7,194.9 815.2,196.5 815.7,198.1 816.2,199.7 816.7,201.3 817.2,202.8 817.7,204.3 818.2,205.8 818.7,207.2 819.2,208.7 819.7,210.1 820.2,211.6 820.7,213.0 821.2,214.4 821.7,215.8 822.2,217.2 822.7,218.5 823.2,219.9 823.7,221.2 824.2,222.5 824.7,223.8 825.2,225.1 825.7,226.4 826.2,227.7 826.7,228.9 827.2,230.2 827.7,231.5 828.2,232.7 828.7,234.0 829.2,235.3 829.7,236.6 830.2,237.9 830.7,239.1 831.2,240.4 831.7,241.7 832.2,243.1 832.7,244.4 833.2,245.7 833.7,247.0 834.2,248.3 834.7,249.7 835.2,251.0 835.7,252.3 836.2,253.6 836.7,254.9 837.2,256.2 837.7,257.5 838.2,258.8 838.7,260.1 839.2,261.3 839.7,262.6 840.2,263.8 840.7,265.1 841.2,266.3 841.7,267.6 842.2,268.8 842.7,270.0 843.2,271.2 843.7,272.3 844.2,273.4 844.7,274.6 845.2,275.7 845.7,276.8 846.2,277.8 846.7,278.9 847.2,279.9 847.7,280.9 848.2,282.0 848.7,283.0 849.2,284.0 849.7,284.9 850.2,285.9 850.7,286.9 851.2,287.8 851.7,288.7 852.2,289.7 852.7,290.6 853.2,291.5 853.7,292.4 854.2,293.3 854.7,294.2 855.2,295.1 855.7,295.9 856.2,296.8 856.7,297.7 857.2,298.6 857.7,299.4 858.2,300.3 858.7,301.2 859.2,302.0 859.7,302.9 860.2,303.7 860.7,304.5 861.2,305.3 861.7,306.1 862.2,306.9 862.7,307.6 863.2,308.3 863.7,309.1 864.2,309.8 864.7,310.4 865.2,311.1 865.7,311.8 866.2,312.4 866.7,313.1 867.2,313.7 867.7,314.3 868.2,314.9 868.7,315.5 869.2,316.1 869.7,316.6 870.2,317.2 870.7,317.7 871.2,318.3 871.7,318.8 872.2,319.4 872.7,319.9 873.2,320.4 873.7,320.9 874.2,321.4 874.7,321.9 875.2,322.4 875.7,322.9 876.2,323.4 876.7,323.9 877.2,324.3 877.7,324.8 878.2,325.2 878.7,325.7 879.2,326.1 879.7,326.5 880.2,326.9 880.7,327.3 881.2,327.7 881.7,328.1 882.2,328.5 882.7,328.9 883.2,329.3 883.7,329.6 884.2,330.0 884.7,330.3 885.2,330.7 885.7,331.0 886.2,331.3 886.7,331.7 887.2,332.0 887.7,332.3 888.2,332.6 888.7,332.9 889.2,333.2 889.7,333.5 890.2,333.7 890.7,334.0 891.2,334.3 891.7,334.5 892.2,334.8 892.7,335.0 893.2,335.3 893.7,335.5 894.2,335.7 894.7,336.0 895.2,336.2 895.7,336.4 896.2,336.6 896.7,336.8 897.2,337.0 897.7,337.2 898.2,337.4 898.7,337.6 899.2,337.8 899.7,338.0 900.2,338.2 900.7,338.3 901.2,338.5 901.7,338.7 902.2,338.8 902.7,339.0 903.2,339.1 903.7,339.3 904.2,339.4 904.7,339.6 905.2,339.7 905.7,339.9 906.2,340.0 906.7,340.1 907.2,340.2 907.7,340.4 908.2,340.5 908.7,340.6 909.2,340.7 909.7,340.8 910.2,340.9 910.7,341.0 911.2,341.1 911.7,341.2 912.2,341.3 912.7,341.4 913.2,341.5 913.7,341.6 914.2,341.7 914.7,341.8 915.2,341.9 915.7,341.9 916.2,342.0 916.7,342.1 917.2,342.2 917.7,342.3 918.2,342.3 918.7,342.4 919.2,342.5 919.7,342.5 920.2,342.6 920.7,342.7 921.2,342.8 921.7,342.8 922.2,342.9 922.7,343.0 923.2,343.0 923.7,343.1 924.2,343.2 924.7,343.2 925.2,343.3 925.7,343.4 926.2,343.5 926.7,343.5 927.2,343.6 927.7,343.7 928.2,343.7 928.7,343.8 929.2,343.9 929.7,344.0 930.2,344.0 930.7,344.1 931.2,344.2 931.7,344.3 932.2,344.3 932.7,344.4 933.2,344.5 933.7,344.5 934.2,344.6 934.7,344.7 935.2,344.7 935.7,344.8 936.2,344.8 936.7,344.9 937.2,344.9 937.7,345.0 938.2,345.0 938.7,345.1 939.2,345.1 939.7,345.2 940.2,345.2 940.7,345.3 941.2,345.3 941.7,345.4 942.2,345.4 942.7,345.4 943.2,345.5 943.7,345.5 944.2,345.5 944.7,345.6 945.2,345.6 945.7,345.7 946.2,345.7 946.7,345.7 947.2,345.8 947.7,345.8 948.2,345.8 948.7,345.8 949.2,345.9 949.7,345.9 950.2,345.9 950.7,346.0 951.2,346.0 951.7,346.0 952.2,346.0 952.7,346.1 953.2,346.1 953.7,346.1 954.2,346.2 954.7,346.2 955.2,346.2 955.7,346.2 956.2,346.3 956.7,346.3 957.2,346.3 957.7,346.3 958.2,346.4 958.7,346.4 959.2,346.4 959.7,346.4 960.2,346.5 960.7,346.5 961.2,346.5 961.7,346.5 962.2,346.6 962.7,346.6 963.2,346.6 963.7,346.6 964.2,346.6 964.7,346.7 965.2,346.7 965.7,346.7 966.2,346.7 966.7,346.8 967.2,346.8 967.7,346.8 968.2,346.8 968.7,346.8 969.2,346.9 969.7,346.9 970.2,346.9 970.7,346.9 971.2,346.9 971.7,347.0 972.2,347.0 972.7,347.0 973.2,347.0 973.7,347.0 974.2,347.1 974.7,347.1 975.2,347.1 975.7,347.1 976.2,347.1 976.7,347.2 977.2,347.2 977.7,347.2 978.2,347.2 978.7,347.2 979.2,347.2 979.7,347.3 980.2,347.3 980.7,347.3 981.2,347.3 981.7,347.3 982.2,347.3 982.7,347.3 983.2,347.4 983.7,347.4 984.2,347.4 984.7,347.4 985.2,347.4 985.7,347.4 986.2,347.4 986.7,347.4 987.2,347.5 987.7,347.5 988.2,347.5 988.7,347.5 989.2,347.5 989.7,347.5 990.2,347.5 990.7,347.5 991.2,347.5 991.7,347.5 992.2,347.6 992.7,347.6 993.2,347.6 993.7,347.6 994.2,347.6 994.7,347.6 995.2,347.6 995.7,347.6 996.2,347.6 996.7,347.7 997.2,347.7 997.7,347.7 998.2,347.7 998.7,347.7 999.2,347.7 999.7,347.7 1000.2,347.7 1000.7,347.7 1001.2,347.8 1001.7,347.8 1002.2,347.8 1002.7,347.8 1003.2,347.8 1003.7,347.8 1004.2,347.8 1004.7,347.8 1005.2,347.9" stroke="#ff0000" stroke-width="2.3" fill="none"/>
<path d="M569.2,310.5 569.7,310.5 570.2,310.5 570.7,310.5 571.2,310.5 571.7,310.5 572.2,310.5 572.7,310.5 573.2,310.5 573.7,310.5 574.2,310.5 574.7,310.5 575.2,310.5 575.7,310.5 576.2,310.5 576.7,310.5 577.2,310.5 577.7,310.5 578.2,310.5 578.7,310.5 579.2,310.5 579.7,310.5 580.2,310.6 580.7,310.6 581.2,310.6 581.7,310.6 582.2,310.6 582.7,310.6 583.2,310.6 583.7,310.6 584.2,310.6 584.7,310.6 585.2,310.7 585.7,310.7 586.2,310.7 586.7,310.7 587.2,310.7 587.7,310.7 588.2,310.7 588.7,310.7 589.2,310.7 589.7,310.8 590.2,310.8 590.7,310.8 591.2,310.8 591.7,310.8 592.2,310.8 592.7,310.8 593.2,310.8 593.7,310.8 594.2,310.8 594.7,310.8 595.2,310.8 595.7,310.8 596.2,310.8 596.7,310.9 597.2,310.9 597.7,310.9 598.2,310.9 598.7,310.9 599.2,310.9 599.7,310.9 600.2,310.9 600.7,310.9 601.2,310.9 601.7,310.9 602.2,310.9 602.7,310.9 603.2,310.9 603.7,310.9 604.2,310.9 604.7,310.9 605.2,310.9 605.7,310.9 606.2,310.9 606.7,310.9 607.2,310.9 607.7,311.0 608.2,311.0 608.7,311.0 609.2,311.0 609.7,311.0 610.2,311.0 610.7,311.0 611.2,311.0 611.7,311.0 612.2,311.0 612.7,311.0 613.2,311.0 613.7,311.0 614.2,311.0 614.7,311.0 615.2,311.0 615.7,311.0 616.2,311.0 616.7,311.0 617.2,311.0 617.7,311.0 618.2,311.0 618.7,311.0 619.2,311.0 619.7,311.0 620.2,311.1 620.7,311.1 621.2,311.1 621.7,311.1 622.2,311.1 622.7,311.1 623.2,311.1 623.7,311.1 624.2,311.1 624.7,311.1 625.2,311.1 625.7,311.1 626.2,311.1 626.7,311.1 627.2,311.1 627.7,311.1 628.2,311.1 628.7,311.1 629.2,311.2 629.7,311.2 630.2,311.2 630.7,311.2 631.2,311.2 631.7,311.2 632.2,311.2 632.7,311.2 633.2,311.3 633.7,311.3 634.2,311.3 634.7,311.3 635.2,311.3 635.7,311.3 636.2,311.3 636.7,311.3 637.2,311.4 637.7,311.4 638.2,311.4 638.7,311.4 639.2,311.4 639.7,311.4 640.2,311.4 640.7,311.4 641.2,311.4 641.7,311.5 642.2,311.5 642.7,311.5 643.2,311.5 643.7,311.5 644.2,311.5 644.7,311.5 645.2,311.5 645.7,311.5 646.2,311.5 646.7,311.5 647.2,311.6 647.7,311.6 648.2,311.6 648.7,311.6 649.2,311.6 649.7,311.6 650.2,311.6 650.7,311.6 651.2,311.6 651.7,311.6 652.2,311.6 652.7,311.7 653.2,311.7 653.7,311.7 654.2,311.7 654.7,311.7 655.2,311.7 655.7,311.7 656.2,311.7 656.7,311.7 657.2,311.7 657.7,311.7 658.2,311.7 658.7,311.7 659.2,311.7 659.7,311.7 660.2,311.7 660.7,311.7 661.2,311.7 661.7,311.7 662.2,311.7 662.7,311.7 663.2,311.8 663.7,311.8 664.2,311.8 664.7,311.8 665.2,311.8 665.7,311.8 666.2,311.8 666.7,311.8 667.2,311.8 667.7,311.8 668.2,311.8 668.7,311.8 669.2,311.9 669.7,311.9 670.2,311.9 670.7,311.9 671.2,311.9 671.7,311.9 672.2,312.0 672.7,312.0 673.2,312.0 673.7,312.0 674.2,312.1 674.7,312.1 675.2,312.1 675.7,312.1 676.2,312.2 676.7,312.2 677.2,312.2 677.7,312.2 678.2,312.3 678.7,312.3 679.2,312.3 679.7,312.4 680.2,312.4 680.7,312.4 681.2,312.5 681.7,312.5 682.2,312.5 682.7,312.5 683.2,312.6 683.7,312.6 684.2,312.6 684.7,312.7 685.2,312.7 685.7,312.7 686.2,312.8 686.7,312.8 687.2,312.8 687.7,312.9 688.2,312.9 688.7,312.9 689.2,313.0 689.7,313.0 690.2,313.0 690.7,313.1 691.2,313.1 691.7,313.1 692.2,313.1 692.7,313.2 693.2,313.2 693.7,313.2 694.2,313.3 694.7,313.3 695.2,313.3 695.7,313.3 696.2,313.4 696.7,313.4 697.2,313.4 697.7,313.4 698.2,313.4 698.7,313.4 699.2,313.5 699.7,313.5 700.2,313.5 700.7,313.5 701.2,313.5 701.7,313.5 702.2,313.5 702.7,313.6 703.2,313.6 703.7,313.6 704.2,313.6 704.7,313.7 705.2,313.7 705.7,313.7 706.2,313.8 706.7,313.8 707.2,313.8 707.7,313.9 708.2,313.9 708.7,314.0 709.2,314.0 709.7,314.0 710.2,314.1 710.7,314.1 711.2,314.2 711.7,314.2 712.2,314.3 712.7,314.3 713.2,314.4 713.7,314.4 714.2,314.5 714.7,314.5 715.2,314.6 715.7,314.7 716.2,314.7 716.7,314.8 717.2,314.8 717.7,314.9 718.2,315.0 718.7,315.0 719.2,315.1 719.7,315.1 720.2,315.2 720.7,315.3 721.2,315.4 721.7,315.4 722.2,315.5 722.7,315.6 723.2,315.6 723.7,315.7 724.2,315.8 724.7,315.9 725.2,316.0 725.7,316.0 726.2,316.1 726.7,316.2 727.2,316.3 727.7,316.4 728.2,316.5 728.7,316.6 729.2,316.6 729.7,316.7 730.2,316.8 730.7,316.9 731.2,317.0 731.7,317.1 732.2,317.2 732.7,317.3 733.2,317.4 733.7,317.5 734.2,317.6 734.7,317.6 735.2,317.7 735.7,317.8 736.2,317.9 736.7,318.0 737.2,318.1 737.7,318.2 738.2,318.3 738.7,318.4 739.2,318.5 739.7,318.6 740.2,318.7 740.7,318.8 741.2,318.9 741.7,319.0 742.2,319.1 742.7,319.2 743.2,319.3 743.7,319.4 744.2,319.6 744.7,319.7 745.2,319.8 745.7,319.9 746.2,320.0 746.7,320.1 747.2,320.2 747.7,320.4 748.2,320.5 748.7,320.6 749.2,320.7 749.7,320.8 750.2,321.0 750.7,321.1 751.2,321.2 751.7,321.3 752.2,321.5 752.7,321.6 753.2,321.7 753.7,321.9 754.2,322.0 754.7,322.1 755.2,322.3 755.7,322.4 756.2,322.5 756.7,322.7 757.2,322.8 757.7,322.9 758.2,323.1 758.7,323.2 759.2,323.4 759.7,323.5 760.2,323.6 760.7,323.8 761.2,323.9 761.7,324.1 762.2,324.2 762.7,324.4 763.2,324.5 763.7,324.7 764.2,324.8 764.7,325.0 765.2,325.1 765.7,325.3 766.2,325.4 766.7,325.6 767.2,325.7 767.7,325.9 768.2,326.1 768.7,326.2 769.2,326.4 769.7,326.5 770.2,326.7 770.7,326.8 771.2,327.0 771.7,327.2 772.2,327.3 772.7,327.5 773.2,327.6 773.7,327.8 774.2,328.0 774.7,328.1 775.2,328.3 775.7,328.4 776.2,328.6 776.7,328.8 777.2,328.9 777.7,329.1 778.2,329.3 778.7,329.4 779.2,329.6 779.7,329.8 780.2,329.9 780.7,330.1 781.2,330.3 781.7,330.4 782.2,330.6 782.7,330.7 783.2,330.9 783.7,331.1 784.2,331.2 784.7,331.4 785.2,331.6 785.7,331.7 786.2,331.9 786.7,332.1 787.2,332.2 787.7,332.4 788.2,332.6 788.7,332.7 789.2,332.9 789.7,333.1 790.2,333.2 790.7,333.4 791.2,333.6 791.7,333.7 792.2,333.9 792.7,334.1 793.2,334.2 793.7,334.4 794.2,334.5 794.7,334.7 795.2,334.9 795.7,335.0 796.2,335.2 796.7,335.3 797.2,335.5 797.7,335.7 798.2,335.8 798.7,336.0 799.2,336.1 799.7,336.3 800.2,336.4 800.7,336.6 801.2,336.7 801.7,336.9 802.2,337.0 802.7,337.2 803.2,337.3 803.7,337.5 804.2,337.6 804.7,337.8 805.2,337.9 805.7,338.1 806.2,338.2 806.7,338.4 807.2,338.5 807.7,338.7 808.2,338.8 808.7,338.9 809.2,339.1 809.7,339.2 810.2,339.4 810.7,339.5 811.2,339.6 811.7,339.8 812.2,339.9 812.7,340.0 813.2,340.2 813.7,340.3 814.2,340.4 814.7,340.5 815.2,340.7 815.7,340.8 816.2,340.9 816.7,341.0 817.2,341.2 817.7,341.3 818.2,341.4 818.7,341.5 819.2,341.6 819.7,341.8 820.2,341.9 820.7,342.0 821.2,342.1 821.7,342.2 822.2,342.3 822.7,342.4 823.2,342.5 823.7,342.6 824.2,342.8 824.7,342.9 825.2,343.0 825.7,343.1 826.2,343.2 826.7,343.3 827.2,343.4 827.7,343.5 828.2,343.6 828.7,343.7 829.2,343.8 829.7,343.9 830.2,343.9 830.7,344.0 831.2,344.1 831.7,344.2 832.2,344.3 832.7,344.4 833.2,344.5 833.7,344.6 834.2,344.7 834.7,344.7 835.2,344.8 835.7,344.9 836.2,345.0 836.7,345.1 837.2,345.1 837.7,345.2 838.2,345.3 838.7,345.4 839.2,345.4 839.7,345.5 840.2,345.6 840.7,345.7 841.2,345.7 841.7,345.8 842.2,345.9 842.7,345.9 843.2,346.0 843.7,346.1 844.2,346.1 844.7,346.2 845.2,346.3 845.7,346.3 846.2,346.4 846.7,346.4 847.2,346.5 847.7,346.6 848.2,346.6 848.7,346.7 849.2,346.7 849.7,346.8 850.2,346.8 850.7,346.9 851.2,346.9 851.7,347.0 852.2,347.0 852.7,347.1 853.2,347.1 853.7,347.2 854.2,347.2 854.7,347.3 855.2,347.3 855.7,347.4 856.2,347.4 856.7,347.5 857.2,347.5 857.7,347.5 858.2,347.6 858.7,347.6 859.2,347.7 859.7,347.7 860.2,347.7 860.7,347.8 861.2,347.8 861.7,347.9 862.2,347.9 862.7,347.9 863.2,348.0 863.7,348.0 864.2,348.0 864.7,348.1 865.2,348.1 865.7,348.1 866.2,348.2 866.7,348.2 867.2,348.2 867.7,348.3 868.2,348.3 868.7,348.3 869.2,348.3 869.7,348.4 870.2,348.4 870.7,348.4 871.2,348.4 871.7,348.5 872.2,348.5 872.7,348.5 873.2,348.6 873.7,348.6 874.2,348.6 874.7,348.6 875.2,348.6 875.7,348.7 876.2,348.7 876.7,348.7 877.2,348.7 877.7,348.8 878.2,348.8 878.7,348.8 879.2,348.8 879.7,348.8 880.2,348.9 880.7,348.9 881.2,348.9 881.7,348.9 882.2,348.9 882.7,348.9 883.2,349.0 883.7,349.0 884.2,349.0 884.7,349.0 885.2,349.0 885.7,349.1 886.2,349.1 886.7,349.1 887.2,349.1 887.7,349.1 888.2,349.1 888.7,349.1 889.2,349.2 889.7,349.2 890.2,349.2 890.7,349.2 891.2,349.2 891.7,349.2 892.2,349.2 892.7,349.2 893.2,349.3 893.7,349.3 894.2,349.3 894.7,349.3 895.2,349.3 895.7,349.3 896.2,349.3 896.7,349.3 897.2,349.4 897.7,349.4 898.2,349.4 898.7,349.4 899.2,349.4 899.7,349.4 900.2,349.4 900.7,349.4 901.2,349.4 901.7,349.4 902.2,349.5 902.7,349.5 903.2,349.5 903.7,349.5 904.2,349.5 904.7,349.5 905.2,349.5 905.7,349.5 906.2,349.5 906.7,349.5 907.2,349.5 907.7,349.5 908.2,349.6 908.7,349.6 909.2,349.6 909.7,349.6 910.2,349.6 910.7,349.6 911.2,349.6 911.7,349.6 912.2,349.6 912.7,349.6 913.2,349.6 913.7,349.6 914.2,349.6 914.7,349.6 915.2,349.7 915.7,349.7 916.2,349.7 916.7,349.7 917.2,349.7 917.7,349.7 918.2,349.7 918.7,349.7 919.2,349.7 919.7,349.7 920.2,349.7 920.7,349.7 921.2,349.7 921.7,349.7 922.2,349.7 922.7,349.7 923.2,349.7 923.7,349.8 924.2,349.8 924.7,349.8 925.2,349.8 925.7,349.8 926.2,349.8 926.7,349.8 927.2,349.8 927.7,349.8 928.2,349.8 928.7,349.8 929.2,349.8 929.7,349.8 930.2,349.8 930.7,349.8 931.2,349.8 931.7,349.8 932.2,349.8 932.7,349.8 933.2,349.8 933.7,349.9 934.2,349.9 934.7,349.9 935.2,349.9 935.7,349.9 936.2,349.9 936.7,349.9 937.2,349.9 937.7,349.9 938.2,349.9 938.7,349.9 939.2,349.9 939.7,349.9 940.2,349.9 940.7,349.9 941.2,349.9 941.7,349.9 942.2,349.9 942.7,349.9 943.2,349.9 943.7,349.9 944.2,349.9 944.7,349.9 945.2,349.9 945.7,349.9 946.2,350.0 946.7,350.0 947.2,350.0 947.7,350.0 948.2,350.0 948.7,350.0 949.2,350.0 949.7,350.0 950.2,350.0 950.7,350.0 951.2,350.0 951.7,350.0 952.2,350.0 952.7,350.0 953.2,350.0 953.7,350.0 954.2,350.0 954.7,350.0 955.2,350.0 955.7,350.0 956.2,350.0 956.7,350.0 957.2,350.0 957.7,350.0 958.2,350.0 958.7,350.0 959.2,350.0 959.7,350.0 960.2,350.0 960.7,350.1 961.2,350.1 961.7,350.1 962.2,350.1 962.7,350.1 963.2,350.1 963.7,350.1 964.2,350.1 964.7,350.1 965.2,350.1 965.7,350.1 966.2,350.1 966.7,350.1 967.2,350.1 967.7,350.1 968.2,350.1 968.7,350.1 969.2,350.1 969.7,350.1 970.2,350.1 970.7,350.1 971.2,350.1 971.7,350.1 972.2,350.1 972.7,350.1 973.2,350.1 973.7,350.1 974.2,350.1 974.7,350.1 975.2,350.1 975.7,350.1 976.2,350.1 976.7,350.1 977.2,350.1 977.7,350.1 978.2,350.1 978.7,350.2 979.2,350.2 979.7,350.2 980.2,350.2 980.7,350.2 981.2,350.2 981.7,350.2 982.2,350.2 982.7,350.2 983.2,350.2 983.7,350.2 984.2,350.2 984.7,350.2 985.2,350.2 985.7,350.2 986.2,350.2 986.7,350.2 987.2,350.2 987.7,350.2 988.2,350.2 988.7,350.2 989.2,350.2 989.7,350.2 990.2,350.2 990.7,350.2 991.2,350.2 991.7,350.2 992.2,350.2 992.7,350.2 993.2,350.2 993.7,350.2 994.2,350.2 994.7,350.2 995.2,350.2 995.7,350.2 996.2,350.2 996.7,350.2 997.2,350.2 997.7,350.2 998.2,350.2 998.7,350.2 999.2,350.2 999.7,350.2 1000.2,350.3 1000.7,350.3 1001.2,350.3 1001.7,350.3 1002.2,350.3 1002.7,350.3 1003.2,350.3 1003.7,350.3 1004.2,350.3 1004.7,350.3 1005.2,350.3" stroke="#808000" stroke-width="2.2" fill="none"/>
<path d="M569.2,310.4 569.7,310.4 570.2,310.4 570.7,310.4 571.2,310.4 571.7,310.4 572.2,310.4 572.7,310.4 573.2,310.4 573.7,310.4 574.2,310.4 574.7,310.4 575.2,310.4 575.7,310.4 576.2,310.4 576.7,310.4 577.2,310.4 577.7,310.4 578.2,310.4 578.7,310.4 579.2,310.4 579.7,310.4 580.2,310.4 580.7,310.4 581.2,310.4 581.7,310.4 582.2,310.4 582.7,310.5 583.2,310.5 583.7,310.5 584.2,310.5 584.7,310.5 585.2,310.5 585.7,310.5 586.2,310.5 586.7,310.5 587.2,310.5 587.7,310.5 588.2,310.5 588.7,310.5 589.2,310.5 589.7,310.5 590.2,310.5 590.7,310.4 591.2,310.4 591.7,310.4 592.2,310.4 592.7,310.4 593.2,310.4 593.7,310.4 594.2,310.4 594.7,310.4 595.2,310.4 595.7,310.4 596.2,310.4 596.7,310.3 597.2,310.3 597.7,310.3 598.2,310.3 598.7,310.3 599.2,310.3 599.7,310.3 600.2,310.2 600.7,310.2 601.2,310.2 601.7,310.2 602.2,310.2 602.7,310.2 603.2,310.2 603.7,310.1 604.2,310.1 604.7,310.1 605.2,310.1 605.7,310.1 606.2,310.1 606.7,310.0 607.2,310.0 607.7,310.0 608.2,310.0 608.7,310.0 609.2,309.9 609.7,309.9 610.2,309.9 610.7,309.9 611.2,309.8 611.7,309.8 612.2,309.8 612.7,309.8 613.2,309.7 613.7,309.7 614.2,309.7 614.7,309.7 615.2,309.6 615.7,309.6 616.2,309.6 616.7,309.5 617.2,309.5 617.7,309.5 618.2,309.4 618.7,309.4 619.2,309.4 619.7,309.3 620.2,309.3 620.7,309.2 621.2,309.2 621.7,309.1 622.2,309.1 622.7,309.0 623.2,309.0 623.7,308.9 624.2,308.9 624.7,308.8 625.2,308.8 625.7,308.7 626.2,308.6 626.7,308.6 627.2,308.5 627.7,308.5 628.2,308.4 628.7,308.4 629.2,308.3 629.7,308.3 630.2,308.2 630.7,308.1 631.2,308.1 631.7,308.0 632.2,308.0 632.7,307.9 633.2,307.9 633.7,307.8 634.2,307.8 634.7,307.7 635.2,307.7 635.7,307.6 636.2,307.6 636.7,307.5 637.2,307.4 637.7,307.4 638.2,307.3 638.7,307.3 639.2,307.2 639.7,307.2 640.2,307.2 640.7,307.1 641.2,307.1 641.7,307.0 642.2,307.0 642.7,306.9 643.2,306.9 643.7,306.8 644.2,306.8 644.7,306.7 645.2,306.7 645.7,306.6 646.2,306.6 646.7,306.5 647.2,306.5 647.7,306.4 648.2,306.4 648.7,306.3 649.2,306.2 649.7,306.2 650.2,306.1 650.7,306.0 651.2,306.0 651.7,305.9 652.2,305.8 652.7,305.7 653.2,305.6 653.7,305.6 654.2,305.5 654.7,305.4 655.2,305.3 655.7,305.2 656.2,305.1 656.7,305.1 657.2,305.0 657.7,304.9 658.2,304.8 658.7,304.7 659.2,304.6 659.7,304.5 660.1,304.5 660.6,304.4 661.1,304.3 661.6,304.2 662.1,304.1 662.6,304.0 663.1,303.9 663.6,303.8 664.1,303.8 664.6,303.7 665.0,303.6 665.5,303.5 666.0,303.4 666.5,303.3 667.0,303.2 667.5,303.2 667.9,303.1 668.4,303.0 668.9,302.9 669.4,302.8 669.8,302.8 670.3,302.7 670.8,302.6 671.3,302.5 671.7,302.5 672.2,302.4 672.7,302.3 673.2,302.2 673.6,302.2 674.1,302.1 674.6,302.0 675.0,302.0 675.5,301.9 676.0,301.9 676.5,301.8 676.9,301.7 677.4,301.7 677.9,301.6 678.3,301.6 678.8,301.5 679.3,301.5 679.8,301.4 680.2,301.4 680.7,301.4 681.2,301.3 681.7,301.3 682.1,301.3 682.6,301.2 683.1,301.2 683.6,301.2 684.1,301.2 684.5,301.1 685.0,301.1 685.5,301.1 686.0,301.1 686.5,301.1 687.0,301.1 687.5,301.1 688.0,301.1 688.5,301.1 689.0,301.1 689.5,301.1 690.0,301.1 690.5,301.1 691.0,301.1 691.6,301.1 692.1,301.2 692.6,301.2 693.1,301.2 693.6,301.3 694.2,301.3 694.7,301.3 695.2,301.4 695.7,301.4 696.3,301.5 696.8,301.5 697.3,301.5 697.9,301.6 698.4,301.7 698.9,301.7 699.5,301.8 700.0,301.8 700.5,301.9 701.1,302.0 701.6,302.0 702.1,302.1 702.7,302.2 703.2,302.3 703.7,302.4 704.3,302.5 704.8,302.5 705.3,302.6 705.9,302.7 706.4,302.8 706.9,302.9 707.4,303.0 708.0,303.2 708.5,303.3 709.0,303.4 709.5,303.5 710.1,303.6 710.6,303.7 711.1,303.8 711.6,304.0 712.1,304.1 712.7,304.2 713.2,304.4 713.7,304.5 714.2,304.6 714.7,304.7 715.2,304.9 715.7,305.0 716.2,305.1 716.8,305.3 717.3,305.4 717.8,305.6 718.3,305.7 718.8,305.8 719.3,306.0 719.8,306.1 720.3,306.2 720.8,306.4 721.3,306.5 721.9,306.6 722.4,306.7 722.9,306.9 723.4,307.0 723.9,307.1 724.4,307.2 724.9,307.4 725.5,307.5 726.0,307.6 726.5,307.7 727.0,307.8 727.5,308.0 728.0,308.1 728.5,308.2 729.0,308.3 729.5,308.5 730.1,308.6 730.6,308.8 731.1,308.9 731.6,309.1 732.1,309.2 732.6,309.4 733.1,309.5 733.6,309.7 734.1,309.8 734.6,310.0 735.1,310.1 735.6,310.3 736.1,310.5 736.6,310.7 737.1,310.8 737.6,311.0 738.1,311.2 738.6,311.4 739.1,311.5 739.6,311.7 740.1,311.9 740.6,312.1 741.1,312.3 741.6,312.5 742.1,312.7 742.6,312.9 743.0,313.1 743.5,313.3 744.0,313.5 744.5,313.7 745.0,313.9 745.5,314.2 746.0,314.4 746.4,314.6 746.9,314.8 747.4,315.0 747.9,315.2 748.4,315.4 748.9,315.6 749.4,315.8 749.9,316.0 750.4,316.2 750.9,316.4 751.4,316.6 751.9,316.8 752.3,317.0 752.8,317.2 753.3,317.3 753.8,317.5 754.3,317.7 754.8,317.9 755.3,318.1 755.8,318.3 756.3,318.4 756.8,318.6 757.3,318.8 757.8,319.0 758.3,319.2 758.8,319.3 759.3,319.5 759.8,319.7 760.3,319.9 760.8,320.1 761.3,320.3 761.8,320.4 762.3,320.6 762.8,320.8 763.3,321.0 763.8,321.2 764.3,321.4 764.8,321.6 765.3,321.8 765.8,321.9 766.3,322.1 766.8,322.3 767.3,322.5 767.8,322.7 768.3,322.9 768.8,323.1 769.3,323.3 769.8,323.5 770.3,323.7 770.8,323.9 771.3,324.1 771.8,324.3 772.3,324.5 772.8,324.7 773.2,324.9 773.7,325.1 774.2,325.3 774.7,325.5 775.2,325.7 775.7,325.9 776.2,326.1 776.7,326.3 777.2,326.5 777.7,326.7 778.2,326.8 778.7,327.0 779.2,327.2 779.7,327.4 780.2,327.6 780.7,327.8 781.2,328.0 781.7,328.2 782.2,328.4 782.7,328.5 783.2,328.7 783.7,328.9 784.2,329.1 784.7,329.3 785.2,329.5 785.7,329.7 786.2,329.8 786.7,330.0 787.2,330.2 787.7,330.4 788.2,330.6 788.7,330.8 789.2,330.9 789.7,331.1 790.2,331.3 790.7,331.5 791.2,331.7 791.7,331.8 792.2,332.0 792.7,332.2 793.2,332.4 793.7,332.6 794.2,332.7 794.7,332.9 795.2,333.1 795.7,333.3 796.2,333.4 796.7,333.6 797.2,333.8 797.7,334.0 798.2,334.1 798.7,334.3 799.2,334.5 799.7,334.6 800.2,334.8 800.7,335.0 801.2,335.1 801.7,335.3 802.2,335.5 802.7,335.6 803.2,335.8 803.7,336.0 804.2,336.1 804.7,336.3 805.2,336.4 805.7,336.6 806.2,336.7 806.7,336.9 807.2,337.1 807.7,337.2 808.2,337.4 808.7,337.5 809.2,337.7 809.7,337.8 810.2,338.0 810.7,338.1 811.2,338.2 811.7,338.4 812.2,338.5 812.7,338.7 813.2,338.8 813.7,339.0 814.2,339.1 814.7,339.2 815.2,339.4 815.7,339.5 816.2,339.6 816.7,339.8 817.2,339.9 817.7,340.0 818.2,340.1 818.7,340.3 819.2,340.4 819.7,340.5 820.2,340.6 820.7,340.8 821.2,340.9 821.7,341.0 822.2,341.1 822.7,341.2 823.2,341.3 823.7,341.4 824.2,341.5 824.7,341.6 825.2,341.8 825.7,341.9 826.2,342.0 826.7,342.1 827.2,342.2 827.7,342.3 828.2,342.4 828.7,342.5 829.2,342.6 829.7,342.7 830.2,342.8 830.7,342.8 831.2,342.9 831.7,343.0 832.2,343.1 832.7,343.2 833.2,343.3 833.7,343.4 834.2,343.5 834.7,343.6 835.2,343.7 835.7,343.7 836.2,343.8 836.7,343.9 837.2,344.0 837.7,344.1 838.2,344.2 838.7,344.2 839.2,344.3 839.7,344.4 840.2,344.5 840.7,344.6 841.2,344.6 841.7,344.7 842.2,344.8 842.7,344.9 843.2,344.9 843.7,345.0 844.2,345.1 844.7,345.1 845.2,345.2 845.7,345.3 846.2,345.3 846.7,345.4 847.2,345.5 847.7,345.5 848.2,345.6 848.7,345.7 849.2,345.7 849.7,345.8 850.2,345.9 850.7,345.9 851.2,346.0 851.7,346.0 852.2,346.1 852.7,346.1 853.2,346.2 853.7,346.2 854.2,346.3 854.7,346.3 855.2,346.4 855.7,346.4 856.2,346.5 856.7,346.5 857.2,346.5 857.7,346.6 858.2,346.6 858.7,346.6 859.2,346.6 859.7,346.7 860.2,346.7 860.7,346.7 861.2,346.8 861.7,346.8 862.2,346.8 862.7,346.8 863.2,346.9 863.7,346.9 864.2,346.9 864.7,346.9 865.2,347.0 865.7,347.0 866.2,347.0 866.7,347.1 867.2,347.1 867.7,347.1 868.2,347.1 868.7,347.2 869.2,347.2 869.7,347.2 870.2,347.3 870.7,347.3 871.2,347.3 871.7,347.3 872.2,347.4 872.7,347.4 873.2,347.4 873.7,347.5 874.2,347.5 874.7,347.5 875.2,347.5 875.7,347.6 876.2,347.6 876.7,347.6 877.2,347.6 877.7,347.7 878.2,347.7 878.7,347.7 879.2,347.8 879.7,347.8 880.2,347.8 880.7,347.8 881.2,347.9 881.7,347.9 882.2,347.9 882.7,348.0 883.2,348.0 883.7,348.0 884.2,348.0 884.7,348.1 885.2,348.1 885.7,348.1 886.2,348.2 886.7,348.2 887.2,348.2 887.7,348.2 888.2,348.3 888.7,348.3 889.2,348.3 889.7,348.3 890.2,348.3 890.7,348.3 891.2,348.4 891.7,348.4 892.2,348.4 892.7,348.4 893.2,348.4 893.7,348.4 894.2,348.4 894.7,348.4 895.2,348.4 895.7,348.4 896.2,348.4 896.7,348.4 897.2,348.4 897.7,348.4 898.2,348.4 898.7,348.4 899.2,348.4 899.7,348.4 900.2,348.4 900.7,348.4 901.2,348.4 901.7,348.4 902.2,348.5 902.7,348.5 903.2,348.5 903.7,348.5 904.2,348.5 904.7,348.5 905.2,348.5 905.7,348.5 906.2,348.5 906.7,348.5 907.2,348.6 907.7,348.6 908.2,348.6 908.7,348.6 909.2,348.6 909.7,348.6 910.2,348.6 910.7,348.6 911.2,348.6 911.7,348.7 912.2,348.7 912.7,348.7 913.2,348.7 913.7,348.7 914.2,348.7 914.7,348.8 915.2,348.8 915.7,348.8 916.2,348.8 916.7,348.8 917.2,348.9 917.7,348.9 918.2,348.9 918.7,348.9 919.2,348.9 919.7,349.0 920.2,349.0 920.7,349.0 921.2,349.1 921.7,349.1 922.2,349.1 922.7,349.1 923.2,349.2 923.7,349.2 924.2,349.2 924.7,349.2 925.2,349.3 925.7,349.3 926.2,349.3 926.7,349.3 927.2,349.3 927.7,349.3 928.2,349.4 928.7,349.4 929.2,349.4 929.7,349.4 930.2,349.4 930.7,349.4 931.2,349.4 931.7,349.4 932.2,349.4 932.7,349.4 933.2,349.4 933.7,349.5 934.2,349.5 934.7,349.5 935.2,349.5 935.7,349.5 936.2,349.5 936.7,349.5 937.2,349.4 937.7,349.4 938.2,349.4 938.7,349.4 939.2,349.4 939.7,349.4 940.2,349.4 940.7,349.4 941.2,349.4 941.7,349.4 942.2,349.4 942.7,349.4 943.2,349.4 943.7,349.4 944.2,349.4 944.7,349.4 945.2,349.4 945.7,349.4 946.2,349.4 946.7,349.4 947.2,349.4 947.7,349.3 948.2,349.3 948.7,349.3 949.2,349.3 949.7,349.3 950.2,349.3 950.7,349.4 951.2,349.4 951.7,349.4 952.2,349.4 952.7,349.4 953.2,349.4 953.7,349.4 954.2,349.4 954.7,349.4 955.2,349.4 955.7,349.4 956.2,349.4 956.7,349.4 957.2,349.4 957.7,349.4 958.2,349.4 958.7,349.4 959.2,349.4 959.7,349.4 960.2,349.4 960.7,349.4 961.2,349.4 961.7,349.4 962.2,349.5 962.7,349.5 963.2,349.5 963.7,349.5 964.2,349.5 964.7,349.5 965.2,349.5 965.7,349.5 966.2,349.5 966.7,349.5 967.2,349.6 967.7,349.6 968.2,349.6 968.7,349.6 969.2,349.6 969.7,349.6 970.2,349.6 970.7,349.7 971.2,349.7 971.7,349.7 972.2,349.7 972.7,349.7 973.2,349.7 973.7,349.7 974.2,349.8 974.7,349.8 975.2,349.8 975.7,349.8 976.2,349.8 976.7,349.8 977.2,349.8 977.7,349.8 978.2,349.8 978.7,349.9 979.2,349.9 979.7,349.9 980.2,349.9 980.7,349.9 981.2,349.9 981.7,349.9 982.2,349.9 982.7,349.9 983.2,349.9 983.7,349.9 984.2,349.9 984.7,349.8 985.2,349.8 985.7,349.8 986.2,349.8 986.7,349.8 987.2,349.8 987.7,349.8 988.2,349.8 988.7,349.7 989.2,349.7 989.7,349.7 990.2,349.7 990.7,349.7 991.2,349.7 991.7,349.7 992.2,349.6 992.7,349.6 993.2,349.6 993.7,349.6 994.2,349.6 994.7,349.6 995.2,349.6 995.7,349.6 996.2,349.6 996.7,349.6 997.2,349.5 997.7,349.5 998.2,349.5 998.7,349.5 999.2,349.5 999.7,349.5 1000.2,349.5 1000.7,349.5 1001.2,349.5 1001.7,349.5 1002.2,349.5 1002.7,349.5 1003.2,349.5 1003.7,349.5 1004.2,349.5 1004.7,349.5 1005.2,349.5" stroke="#00ff00" stroke-width="2.3" fill="none"/>
<path d="M569.2,308.6 569.7,308.6 570.2,308.6 570.7,308.6 571.2,308.6 571.7,308.6 572.2,308.6 572.7,308.6 573.2,308.6 573.7,308.6 574.2,308.6 574.7,308.5 575.2,308.5 575.7,308.5 576.2,308.5 576.7,308.5 577.2,308.5 577.7,308.5 578.2,308.5 578.7,308.4 579.2,308.4 579.7,308.4 580.2,308.4 580.7,308.4 581.2,308.4 581.7,308.3 582.2,308.3 582.7,308.3 583.2,308.3 583.7,308.3 584.2,308.3 584.7,308.2 585.2,308.2 585.7,308.2 586.2,308.2 586.7,308.2 587.2,308.1 587.7,308.1 588.2,308.1 588.7,308.1 589.2,308.1 589.7,308.1 590.2,308.1 590.7,308.0 591.2,308.0 591.7,308.0 592.2,308.0 592.7,308.0 593.2,308.0 593.7,308.0 594.2,308.0 594.7,308.0 595.2,308.0 595.7,308.0 596.2,308.0 596.7,308.0 597.2,307.9 597.7,307.9 598.2,307.9 598.7,307.9 599.2,307.9 599.7,307.9 600.2,307.9 600.7,307.9 601.2,307.9 601.7,307.9 602.2,307.9 602.7,307.9 603.2,307.9 603.7,307.9 604.2,307.8 604.7,307.8 605.2,307.8 605.7,307.8 606.2,307.8 606.7,307.8 607.2,307.8 607.7,307.8 608.2,307.7 608.7,307.7 609.2,307.7 609.7,307.7 610.2,307.7 610.7,307.7 611.2,307.7 611.7,307.6 612.2,307.6 612.7,307.6 613.2,307.6 613.7,307.6 614.2,307.5 614.7,307.5 615.2,307.5 615.7,307.5 616.2,307.5 616.7,307.4 617.2,307.4 617.7,307.4 618.2,307.3 618.7,307.3 619.2,307.3 619.7,307.2 620.2,307.2 620.7,307.1 621.2,307.1 621.7,307.0 622.2,307.0 622.7,306.9 623.2,306.9 623.7,306.8 624.2,306.8 624.7,306.7 625.2,306.7 625.7,306.6 626.2,306.6 626.7,306.5 627.2,306.5 627.7,306.4 628.2,306.4 628.7,306.3 629.2,306.3 629.7,306.2 630.2,306.2 630.7,306.2 631.2,306.1 631.7,306.1 632.2,306.1 632.7,306.0 633.2,306.0 633.7,306.0 634.2,305.9 634.7,305.9 635.2,305.9 635.7,305.9 636.2,305.8 636.7,305.8 637.2,305.8 637.7,305.7 638.2,305.7 638.7,305.7 639.2,305.7 639.7,305.6 640.2,305.6 640.7,305.6 641.2,305.6 641.7,305.5 642.2,305.5 642.7,305.5 643.2,305.4 643.7,305.4 644.2,305.4 644.7,305.3 645.2,305.3 645.7,305.3 646.2,305.2 646.7,305.2 647.2,305.1 647.7,305.1 648.2,305.0 648.7,305.0 649.2,304.9 649.7,304.9 650.2,304.8 650.7,304.8 651.1,304.7 651.6,304.6 652.1,304.6 652.6,304.5 653.1,304.4 653.6,304.4 654.1,304.3 654.6,304.2 655.1,304.1 655.6,304.1 656.1,304.0 656.6,303.9 657.1,303.8 657.6,303.8 658.1,303.7 658.6,303.6 659.1,303.5 659.6,303.4 660.1,303.3 660.6,303.3 661.1,303.2 661.6,303.1 662.1,303.0 662.6,302.9 663.1,302.8 663.6,302.7 664.1,302.6 664.6,302.5 665.1,302.4 665.6,302.3 666.1,302.2 666.6,302.0 667.1,301.9 667.6,301.8 668.1,301.7 668.6,301.5 669.1,301.4 669.6,301.3 670.1,301.1 670.6,301.0 671.1,300.8 671.6,300.7 672.1,300.5 672.6,300.4 673.1,300.2 673.6,300.0 674.1,299.8 674.6,299.6 675.1,299.5 675.6,299.3 676.1,299.1 676.6,298.8 677.1,298.6 677.6,298.4 678.1,298.2 678.6,297.9 679.1,297.7 679.6,297.5 680.1,297.2 680.6,297.0 681.1,296.7 681.6,296.4 682.1,296.2 682.6,295.9 683.1,295.6 683.6,295.3 684.1,295.0 684.6,294.7 685.1,294.4 685.6,294.1 686.1,293.8 686.6,293.4 687.1,293.1 687.6,292.7 688.1,292.4 688.6,292.0 689.1,291.7 689.6,291.3 690.2,290.9 690.7,290.5 691.2,290.1 691.7,289.7 692.2,289.3 692.7,288.9 693.2,288.4 693.7,288.0 694.2,287.5 694.7,287.1 695.2,286.6 695.7,286.1 696.2,285.6 696.6,285.1 697.1,284.6 697.6,284.1 698.1,283.5 698.6,283.0 699.1,282.4 699.6,281.9 700.1,281.3 700.6,280.7 701.1,280.1 701.6,279.5 702.0,278.9 702.5,278.2 703.0,277.6 703.5,277.0 704.0,276.3 704.5,275.6 705.0,275.0 705.5,274.3 706.0,273.6 706.5,272.9 707.0,272.2 707.5,271.5 708.0,270.7 708.5,270.0 709.0,269.2 709.5,268.5 710.0,267.7 710.5,266.9 711.0,266.1 711.5,265.3 712.0,264.5 712.5,263.7 713.0,262.9 713.5,262.0 714.0,261.2 714.5,260.3 715.0,259.4 715.5,258.5 716.0,257.6 716.5,256.7 717.0,255.8 717.5,254.9 718.0,253.9 718.5,253.0 719.0,252.0 719.5,251.0 720.0,250.0 720.5,249.1 721.0,248.1 721.5,247.0 722.0,246.0 722.5,245.0 723.0,244.0 723.5,242.9 724.0,241.9 724.5,240.8 725.0,239.8 725.6,238.7 726.1,237.7 726.6,236.6 727.2,235.5 727.7,234.4 728.3,233.3 728.8,232.2 729.3,231.1 729.9,230.0 730.4,228.9 730.9,227.7 731.4,226.6 731.9,225.4 732.5,224.3 733.0,223.1 733.5,222.0 734.0,220.8 734.5,219.6 735.0,218.5 735.5,217.3 736.1,216.1 736.6,214.9 737.1,213.7 737.6,212.6 738.1,211.4 738.6,210.2 739.1,209.0 739.6,207.8 740.1,206.6 740.6,205.4 741.1,204.2 741.6,202.9 742.1,201.7 742.6,200.5 743.1,199.3 743.6,198.1 744.1,196.9 744.6,195.7 745.0,194.5 745.5,193.4 746.0,192.2 746.5,191.0 747.0,189.8 747.4,188.6 747.9,187.4 748.4,186.3 748.9,185.1 749.3,184.0 749.8,182.8 750.3,181.7 750.8,180.5 751.3,179.4 751.8,178.3 752.3,177.2 752.8,176.1 753.3,175.0 753.8,174.0 754.3,172.9 754.8,171.9 755.3,170.8 755.8,169.8 756.3,168.8 756.8,167.8 757.3,166.8 757.8,165.8 758.3,164.9 758.8,163.9 759.3,163.0 759.8,162.0 760.3,161.1 760.8,160.2 761.3,159.4 761.7,158.5 762.2,157.6 762.7,156.8 763.2,156.0 763.7,155.2 764.1,154.4 764.6,153.6 765.1,152.9 765.6,152.1 766.1,151.4 766.5,150.7 767.0,150.1 767.5,149.4 768.0,148.8 768.5,148.2 769.0,147.6 769.5,147.0 770.0,146.5 770.5,146.0 770.9,145.5 771.4,145.0 771.9,144.6 772.4,144.1 772.9,143.7 773.4,143.3 773.9,143.0 774.4,142.7 774.9,142.4 775.4,142.1 775.9,141.8 776.4,141.6 776.9,141.4 777.5,141.2 778.0,141.0 778.5,140.9 779.0,140.8 779.5,140.7 780.0,140.6 780.5,140.6 781.0,140.6 781.5,140.6 782.0,140.6 782.5,140.7 783.0,140.8 783.5,140.9 784.0,141.0 784.5,141.2 785.0,141.4 785.5,141.6 786.0,141.8 786.5,142.1 787.0,142.4 787.5,142.7 788.0,143.0 788.5,143.4 789.0,143.9 789.5,144.3 790.0,144.8 790.5,145.3 791.0,145.8 791.5,146.4 792.0,147.0 792.5,147.6 793.0,148.3 793.5,148.9 794.0,149.6 794.5,150.3 795.0,151.1 795.5,151.8 796.0,152.6 796.5,153.4 797.1,154.3 797.6,155.1 798.1,156.0 798.6,156.9 799.2,157.9 799.7,158.8 800.2,159.8 800.8,160.8 801.3,161.8 801.8,162.8 802.3,163.9 802.9,164.9 803.4,166.0 803.9,167.1 804.4,168.3 804.9,169.4 805.4,170.6 805.9,171.8 806.4,173.0 806.9,174.2 807.4,175.4 807.9,176.7 808.3,177.9 808.8,179.2 809.3,180.5 809.8,181.8 810.3,183.1 810.7,184.4 811.2,185.7 811.7,187.0 812.2,188.4 812.6,189.7 813.1,191.1 813.5,192.5 814.0,193.9 814.4,195.3 814.8,196.7 815.3,198.1 815.7,199.5 816.2,200.9 816.6,202.3 817.1,203.7 817.5,205.1 818.0,206.5 818.5,207.9 819.0,209.3 819.5,210.7 820.0,212.2 820.5,213.6 821.0,215.0 821.5,216.4 822.0,217.8 822.5,219.2 823.0,220.6 823.5,222.0 824.1,223.4 824.6,224.8 825.2,226.2 825.7,227.5 826.3,228.9 826.8,230.3 827.3,231.7 827.9,233.0 828.4,234.4 829.0,235.8 829.5,237.1 830.0,238.5 830.5,239.8 831.1,241.2 831.6,242.5 832.1,243.8 832.6,245.2 833.1,246.5 833.6,247.8 834.1,249.1 834.6,250.4 835.1,251.7 835.6,253.0 836.1,254.3 836.6,255.6 837.1,256.8 837.6,258.1 838.1,259.4 838.5,260.6 839.0,261.8 839.5,263.1 840.0,264.3 840.5,265.5 841.0,266.7 841.5,267.9 841.9,269.1 842.4,270.2 842.9,271.4 843.4,272.5 843.9,273.7 844.4,274.8 844.9,275.9 845.4,277.0 845.9,278.1 846.4,279.2 846.9,280.2 847.5,281.3 848.0,282.3 848.5,283.4 849.0,284.4 849.5,285.4 850.0,286.4 850.5,287.4 851.1,288.4 851.6,289.3 852.1,290.3 852.6,291.2 853.1,292.1 853.6,293.1 854.1,294.0 854.7,294.9 855.2,295.8 855.7,296.7 856.2,297.5 856.7,298.4 857.2,299.2 857.6,300.1 858.1,300.9 858.6,301.8 859.1,302.6 859.6,303.4 860.1,304.2 860.5,305.0 861.0,305.7 861.5,306.5 862.0,307.3 862.5,308.0 863.0,308.7 863.5,309.4 864.0,310.2 864.5,310.8 865.0,311.5 865.5,312.2 866.0,312.8 866.5,313.5 867.0,314.1 867.5,314.7 868.0,315.4 868.5,316.0 869.0,316.6 869.6,317.1 870.1,317.7 870.6,318.3 871.1,318.8 871.6,319.4 872.1,319.9 872.6,320.4 873.1,321.0 873.6,321.5 874.1,322.0 874.6,322.5 875.1,323.0 875.6,323.5 876.1,323.9 876.6,324.4 877.1,324.9 877.6,325.3 878.1,325.8 878.6,326.2 879.1,326.6 879.6,327.0 880.1,327.5 880.6,327.9 881.1,328.3 881.6,328.7 882.1,329.0 882.6,329.4 883.1,329.8 883.6,330.1 884.1,330.5 884.6,330.9 885.1,331.2 885.6,331.5 886.1,331.9 886.6,332.2 887.1,332.5 887.6,332.8 888.1,333.1 888.6,333.4 889.1,333.7 889.6,334.0 890.1,334.2 890.6,334.5 891.1,334.8 891.6,335.0 892.1,335.3 892.6,335.5 893.1,335.8 893.6,336.0 894.1,336.2 894.6,336.5 895.1,336.7 895.6,336.9 896.1,337.1 896.7,337.3 897.2,337.5 897.7,337.7 898.2,337.9 898.7,338.1 899.2,338.3 899.7,338.5 900.2,338.7 900.7,338.8 901.2,339.0 901.7,339.2 902.2,339.3 902.7,339.5 903.2,339.6 903.7,339.8 904.2,339.9 904.7,340.1 905.2,340.2 905.7,340.3 906.2,340.5 906.7,340.6 907.2,340.7 907.7,340.8 908.2,341.0 908.7,341.1 909.2,341.2 909.7,341.3 910.2,341.4 910.7,341.5 911.2,341.6 911.7,341.7 912.2,341.8 912.7,341.9 913.2,342.0 913.7,342.1 914.3,342.1 914.8,342.2 915.3,342.3 915.8,342.4 916.3,342.5 916.8,342.5 917.3,342.6 917.8,342.7 918.3,342.7 918.8,342.8 919.3,342.9 919.8,343.0 920.3,343.0 920.8,343.1 921.3,343.2 921.8,343.2 922.3,343.3 922.8,343.4 923.3,343.4 923.8,343.5 924.3,343.6 924.8,343.6 925.3,343.7 925.8,343.8 926.3,343.8 926.8,343.9 927.3,344.0 927.7,344.0 928.2,344.1 928.7,344.2 929.2,344.3 929.7,344.3 930.2,344.4 930.7,344.5 931.2,344.5 931.7,344.6 932.2,344.7 932.7,344.8 933.2,344.8 933.7,344.9 934.2,344.9 934.7,345.0 935.2,345.1 935.7,345.1 936.2,345.2 936.7,345.2 937.2,345.3 937.7,345.4 938.2,345.4 938.7,345.5 939.2,345.5 939.7,345.5 940.2,345.6 940.7,345.6 941.2,345.7 941.7,345.7 942.2,345.8 942.7,345.8 943.2,345.8 943.7,345.9 944.2,345.9 944.7,345.9 945.2,346.0 945.7,346.0 946.2,346.0 946.7,346.1 947.2,346.1 947.7,346.1 948.2,346.2 948.7,346.2 949.2,346.2 949.7,346.3 950.2,346.3 950.7,346.3 951.2,346.3 951.7,346.4 952.2,346.4 952.7,346.4 953.2,346.4 953.7,346.5 954.2,346.5 954.7,346.5 955.2,346.5 955.7,346.6 956.2,346.6 956.7,346.6 957.2,346.6 957.7,346.7 958.2,346.7 958.7,346.7 959.2,346.7 959.7,346.8 960.2,346.8 960.7,346.8 961.2,346.8 961.7,346.9 962.2,346.9 962.7,346.9 963.2,346.9 963.7,346.9 964.2,347.0 964.7,347.0 965.2,347.0 965.7,347.0 966.2,347.0 966.7,347.1 967.2,347.1 967.7,347.1 968.2,347.1 968.7,347.1 969.2,347.2 969.7,347.2 970.2,347.2 970.7,347.2 971.2,347.2 971.7,347.3 972.2,347.3 972.7,347.3 973.2,347.3 973.7,347.3 974.2,347.3 974.7,347.4 975.2,347.4 975.7,347.4 976.2,347.4 976.7,347.4 977.2,347.4 977.7,347.5 978.2,347.5 978.7,347.5 979.2,347.5 979.7,347.5 980.2,347.5 980.7,347.5 981.2,347.6 981.7,347.6 982.2,347.6 982.7,347.6 983.2,347.6 983.7,347.6 984.2,347.6 984.7,347.7 985.2,347.7 985.7,347.7 986.2,347.7 986.7,347.7 987.2,347.7 987.7,347.7 988.2,347.7 988.7,347.8 989.2,347.8 989.7,347.8 990.2,347.8 990.7,347.8 991.2,347.8 991.7,347.8 992.2,347.8 992.7,347.8 993.2,347.8 993.7,347.9 994.2,347.9 994.7,347.9 995.2,347.9 995.7,347.9 996.2,347.9 996.7,347.9 997.2,347.9 997.7,347.9 998.2,348.0 998.7,348.0 999.2,348.0 999.7,348.0 1000.2,348.0 1000.7,348.0 1001.2,348.0 1001.7,348.0 1002.2,348.0 1002.7,348.1 1003.2,348.1 1003.7,348.1 1004.2,348.1 1004.7,348.1 1005.2,348.1" stroke="#0000ff" stroke-width="2.3" fill="none"/>
<path d="M45.3,790.8 46.8,789.9 48.3,790.1 49.8,789.8 51.3,789.8 52.8,789.7 54.3,790.6 55.8,790.5 57.3,789.6 58.8,790.8 60.3,791.8 61.8,793.4 63.3,793.9 64.8,794.2 66.3,793.4 67.8,792.0 69.3,793.1 70.8,794.1 72.3,793.3 73.8,792.4 75.3,790.3 76.8,789.9 78.3,789.3 79.8,788.1 81.3,787.7 82.8,787.8 84.3,786.9 85.8,787.5 87.3,787.0 88.8,787.9 90.3,788.0 91.8,789.0 93.3,789.2 94.8,784.4 96.3,785.4 97.8,784.5 99.3,786.2 100.8,786.5 102.3,785.6 103.8,785.5 105.3,785.6 106.8,784.7 108.3,783.2 109.8,784.1 111.3,783.8 112.8,782.9 114.3,782.4 115.8,782.0 117.3,780.6 118.8,780.4 120.3,780.4 121.8,779.7 123.3,780.3 124.8,780.7 126.3,779.9 127.8,778.7 129.3,778.6 130.8,778.7 132.3,776.7 133.8,776.4 135.3,776.8 136.8,776.7 138.3,776.4 139.8,774.2 141.3,775.3 142.8,776.1 144.3,776.6 145.8,776.9 147.3,776.2 148.8,776.2 150.3,775.1 151.8,773.7 153.3,770.0 154.8,767.7 156.3,766.3 157.8,766.8 159.3,766.4 160.8,765.6 162.3,764.3 163.8,764.5 165.3,761.7 166.8,761.4 168.3,760.5 169.8,760.0 171.3,758.1 172.8,758.3 174.3,756.5 175.8,755.0 177.3,754.1 178.8,753.3 180.3,751.8 181.8,750.9 183.3,748.6 184.8,748.3 186.3,748.1 187.8,746.4 189.3,745.8 190.8,744.9 192.3,742.7 193.8,743.1 195.3,741.2 196.8,740.1 198.3,738.8 199.8,737.0 201.3,735.4 202.8,733.3 204.3,733.0 205.8,731.2 207.3,730.0 208.8,729.1 210.3,727.3 211.8,728.1 213.3,728.3 214.8,727.4 216.3,726.7 217.8,727.5 219.3,724.8 220.8,722.3 222.3,719.7 223.8,717.5 225.3,715.6 226.8,714.9 228.3,714.0 229.8,713.0 231.3,711.4 232.8,710.4 234.3,708.2 235.8,706.3 237.3,704.4 238.8,703.0 240.3,704.5 241.8,705.0 243.3,706.0 244.8,706.0 246.3,706.5 247.8,702.5 249.3,701.0 250.8,699.7 252.3,698.5 253.8,698.8 255.3,698.3 256.8,696.7 258.3,695.9 259.8,695.2 261.3,694.4 262.8,694.5 264.3,693.1 265.8,692.4 267.3,690.9 268.8,689.4 270.3,690.0 271.8,688.4 273.3,687.6 274.8,688.2 276.3,687.2 277.8,686.2 279.3,685.6 280.8,685.9 282.3,687.3 283.8,688.4 285.3,686.2 286.8,686.7 288.3,686.6 289.8,686.7 291.3,682.3 292.8,684.1 294.3,687.9 295.8,691.3 297.3,692.2 298.8,691.4 300.3,690.2 301.8,687.4 303.3,688.4 304.8,698.3 306.3,700.9 307.8,701.7 309.3,703.8 310.8,706.7 312.3,710.1 313.8,712.6 315.3,714.1 316.8,715.7 318.3,719.9 319.8,724.3 321.3,730.2 322.8,737.3 324.3,740.3 325.8,744.5 327.3,746.6 328.8,749.2 330.3,752.6 331.8,756.5 333.3,761.2 334.8,764.7 336.3,767.1 337.8,768.9 339.3,770.0 340.8,771.2 342.3,773.8 343.8,777.6 345.3,779.5 346.8,781.1 348.3,783.5 349.8,784.7 351.3,786.0 352.8,787.1 354.3,787.6 355.8,788.9 357.3,789.8 358.8,790.3 360.3,792.4 361.8,794.2 363.3,795.4 364.8,797.0 366.3,798.1 367.8,798.8 369.3,798.7 370.8,799.7 372.3,800.3 373.8,801.1 375.3,802.8 376.8,803.5 378.3,804.9 379.8,806.3 381.3,806.9 382.8,805.8 384.3,805.5 385.8,807.3 387.3,807.6 388.8,808.5 390.3,808.1 391.8,807.9 393.3,808.1 394.8,808.9 396.3,811.1 397.8,811.4 399.3,811.6 400.8,812.5 402.3,812.3 403.8,813.8 405.3,813.1 406.8,812.5 408.3,812.9 409.8,812.7 411.3,812.6 412.8,812.7 414.3,813.1 415.8,813.8 417.3,814.0 418.8,814.1 420.3,814.7 421.8,815.2 423.3,814.6 424.8,815.7 426.3,815.9 427.8,814.9 429.3,815.6 430.8,815.6 432.3,816.1" stroke="#000" stroke-width="2.4" fill="none" stroke-linejoin="round"/>
<path d="M45.2,789.9 45.7,789.9 46.2,789.9 46.7,789.9 47.2,789.9 47.7,789.9 48.2,789.9 48.7,789.9 49.2,789.8 49.7,789.8 50.2,789.8 50.7,789.8 51.2,789.8 51.7,789.8 52.2,789.8 52.7,789.8 53.2,789.7 53.7,789.7 54.2,789.7 54.7,789.7 55.2,789.7 55.7,789.7 56.2,789.6 56.7,789.6 57.2,789.6 57.7,789.6 58.2,789.6 58.7,789.5 59.2,789.5 59.7,789.5 60.2,789.5 60.7,789.4 61.2,789.4 61.7,789.4 62.2,789.4 62.7,789.3 63.2,789.3 63.7,789.3 64.2,789.3 64.7,789.2 65.2,789.2 65.7,789.2 66.2,789.2 66.7,789.1 67.2,789.1 67.7,789.1 68.2,789.1 68.7,789.0 69.2,789.0 69.7,789.0 70.2,789.0 70.7,789.0 71.2,788.9 71.7,788.9 72.2,788.9 72.7,788.9 73.2,788.8 73.7,788.8 74.2,788.8 74.7,788.8 75.2,788.7 75.7,788.7 76.2,788.7 76.7,788.7 77.2,788.7 77.7,788.6 78.2,788.6 78.7,788.6 79.2,788.6 79.7,788.5 80.2,788.5 80.7,788.5 81.2,788.4 81.7,788.4 82.2,788.4 82.7,788.3 83.2,788.3 83.7,788.3 84.2,788.2 84.7,788.2 85.2,788.2 85.7,788.1 86.2,788.1 86.7,788.0 87.2,788.0 87.7,787.9 88.2,787.9 88.7,787.8 89.2,787.8 89.7,787.7 90.2,787.7 90.7,787.6 91.2,787.6 91.7,787.5 92.2,787.5 92.7,787.4 93.2,787.4 93.7,787.3 94.2,787.3 94.7,787.2 95.2,787.1 95.7,787.1 96.2,787.0 96.7,787.0 97.2,786.9 97.7,786.9 98.2,786.8 98.7,786.7 99.2,786.7 99.7,786.6 100.2,786.6 100.7,786.5 101.2,786.4 101.7,786.4 102.2,786.3 102.7,786.2 103.2,786.2 103.7,786.1 104.2,786.0 104.7,786.0 105.2,785.9 105.7,785.8 106.2,785.8 106.7,785.7 107.2,785.6 107.7,785.5 108.2,785.5 108.7,785.4 109.2,785.3 109.7,785.2 110.2,785.1 110.7,785.0 111.2,784.9 111.6,784.8 112.1,784.8 112.6,784.7 113.1,784.6 113.6,784.5 114.1,784.4 114.6,784.3 115.1,784.1 115.6,784.0 116.1,783.9 116.6,783.8 117.1,783.7 117.6,783.6 118.1,783.5 118.6,783.4 119.1,783.2 119.6,783.1 120.1,783.0 120.6,782.9 121.1,782.8 121.6,782.6 122.1,782.5 122.6,782.4 123.1,782.3 123.6,782.1 124.1,782.0 124.6,781.9 125.1,781.7 125.6,781.6 126.1,781.5 126.6,781.3 127.1,781.2 127.6,781.1 128.1,780.9 128.6,780.8 129.1,780.6 129.6,780.5 130.1,780.3 130.6,780.2 131.1,780.0 131.6,779.9 132.1,779.7 132.6,779.6 133.1,779.4 133.6,779.3 134.1,779.1 134.6,778.9 135.2,778.8 135.7,778.6 136.2,778.4 136.7,778.2 137.2,778.0 137.7,777.9 138.2,777.7 138.7,777.5 139.2,777.3 139.7,777.1 140.2,776.9 140.7,776.7 141.2,776.5 141.7,776.3 142.2,776.1 142.7,775.8 143.2,775.6 143.7,775.4 144.2,775.2 144.7,774.9 145.2,774.7 145.7,774.5 146.2,774.2 146.7,774.0 147.2,773.7 147.7,773.5 148.2,773.2 148.7,773.0 149.2,772.7 149.7,772.4 150.2,772.2 150.7,771.9 151.2,771.6 151.7,771.4 152.3,771.1 152.8,770.8 153.3,770.6 153.8,770.3 154.3,770.0 154.8,769.7 155.3,769.4 155.8,769.1 156.3,768.8 156.8,768.5 157.3,768.2 157.8,767.9 158.3,767.6 158.8,767.3 159.3,767.0 159.8,766.7 160.3,766.4 160.8,766.1 161.3,765.7 161.8,765.4 162.3,765.1 162.8,764.8 163.3,764.4 163.8,764.1 164.3,763.8 164.8,763.4 165.3,763.1 165.8,762.7 166.3,762.4 166.8,762.1 167.3,761.7 167.8,761.4 168.3,761.0 168.8,760.7 169.3,760.3 169.8,759.9 170.3,759.6 170.8,759.2 171.3,758.9 171.8,758.5 172.3,758.1 172.8,757.8 173.3,757.4 173.8,757.0 174.3,756.6 174.8,756.3 175.3,755.9 175.8,755.5 176.3,755.1 176.8,754.8 177.3,754.4 177.8,754.0 178.3,753.6 178.8,753.3 179.3,752.9 179.8,752.5 180.3,752.1 180.8,751.7 181.3,751.4 181.8,751.0 182.3,750.6 182.8,750.2 183.3,749.8 183.8,749.4 184.3,749.1 184.8,748.7 185.3,748.3 185.8,747.9 186.3,747.5 186.8,747.1 187.3,746.8 187.8,746.4 188.3,746.0 188.8,745.6 189.3,745.2 189.8,744.8 190.3,744.5 190.8,744.1 191.3,743.7 191.8,743.3 192.3,742.9 192.8,742.5 193.3,742.1 193.8,741.7 194.3,741.3 194.8,740.9 195.3,740.6 195.8,740.2 196.3,739.8 196.8,739.4 197.3,739.0 197.8,738.6 198.3,738.2 198.8,737.8 199.3,737.4 199.8,737.0 200.3,736.6 200.8,736.2 201.3,735.8 201.8,735.4 202.3,735.0 202.7,734.6 203.2,734.3 203.7,733.9 204.2,733.5 204.7,733.1 205.2,732.7 205.7,732.4 206.2,732.0 206.7,731.6 207.2,731.2 207.7,730.9 208.2,730.5 208.7,730.1 209.2,729.8 209.7,729.4 210.2,729.1 210.7,728.7 211.2,728.4 211.7,728.0 212.2,727.7 212.7,727.3 213.2,727.0 213.7,726.6 214.2,726.3 214.7,725.9 215.2,725.6 215.7,725.2 216.2,724.9 216.7,724.5 217.2,724.2 217.7,723.8 218.2,723.5 218.7,723.1 219.2,722.8 219.7,722.4 220.2,722.1 220.7,721.7 221.2,721.4 221.7,721.0 222.2,720.7 222.7,720.3 223.2,720.0 223.7,719.7 224.2,719.3 224.7,719.0 225.2,718.6 225.7,718.3 226.2,717.9 226.7,717.6 227.3,717.2 227.8,716.9 228.3,716.5 228.8,716.2 229.3,715.8 229.8,715.4 230.3,715.1 230.8,714.7 231.3,714.4 231.8,714.0 232.3,713.7 232.8,713.3 233.3,713.0 233.8,712.6 234.3,712.3 234.8,711.9 235.3,711.6 235.9,711.2 236.4,710.9 236.9,710.5 237.4,710.2 237.9,709.8 238.4,709.5 238.9,709.1 239.4,708.8 239.9,708.4 240.5,708.1 241.0,707.7 241.5,707.4 242.0,707.0 242.5,706.6 243.0,706.3 243.5,705.9 244.0,705.6 244.5,705.2 245.0,704.8 245.5,704.4 246.0,704.1 246.5,703.7 247.1,703.3 247.6,703.0 248.1,702.6 248.6,702.2 249.1,701.8 249.6,701.4 250.1,701.1 250.6,700.7 251.1,700.3 251.6,699.9 252.1,699.5 252.6,699.1 253.1,698.7 253.7,698.3 254.2,697.9 254.7,697.5 255.2,697.1 255.7,696.7 256.2,696.3 256.7,695.9 257.2,695.5 257.7,695.2 258.2,694.8 258.8,694.4 259.3,694.0 259.8,693.6 260.3,693.3 260.8,692.9 261.3,692.5 261.8,692.2 262.4,691.8 262.9,691.5 263.4,691.1 263.9,690.8 264.4,690.4 264.9,690.1 265.5,689.7 266.0,689.4 266.5,689.1 267.0,688.8 267.5,688.4 268.0,688.1 268.6,687.8 269.1,687.5 269.6,687.2 270.1,686.9 270.6,686.7 271.1,686.4 271.7,686.1 272.2,685.9 272.7,685.6 273.2,685.4 273.7,685.1 274.2,684.9 274.7,684.7 275.2,684.5 275.8,684.3 276.3,684.2 276.8,684.0 277.3,683.9 277.8,683.7 278.3,683.6 278.8,683.5 279.3,683.4 279.8,683.3 280.3,683.2 280.7,683.2 281.2,683.1 281.7,683.1 282.2,683.1 282.7,683.1 283.2,683.1 283.7,683.1 284.2,683.1 284.6,683.2 285.1,683.3 285.6,683.3 286.1,683.4 286.5,683.6 287.0,683.7 287.5,683.8 288.0,684.0 288.5,684.2 288.9,684.4 289.4,684.6 289.9,684.8 290.4,685.0 290.8,685.3 291.3,685.6 291.8,685.9 292.3,686.2 292.7,686.5 293.2,686.9 293.7,687.2 294.2,687.6 294.6,688.0 295.1,688.4 295.6,688.8 296.1,689.2 296.6,689.6 297.0,690.1 297.5,690.6 298.0,691.1 298.5,691.7 299.0,692.2 299.4,692.8 299.9,693.4 300.4,694.0 300.9,694.7 301.4,695.3 301.9,696.0 302.4,696.7 302.9,697.4 303.4,698.1 303.9,698.9 304.4,699.7 304.9,700.4 305.4,701.2 305.9,702.0 306.4,702.9 306.9,703.7 307.4,704.6 307.9,705.4 308.4,706.3 308.9,707.2 309.4,708.1 309.9,709.0 310.4,709.9 310.9,710.8 311.4,711.8 311.9,712.7 312.4,713.7 312.8,714.7 313.3,715.8 313.8,716.8 314.3,717.9 314.8,718.9 315.2,720.0 315.7,721.1 316.1,722.2 316.6,723.3 317.0,724.4 317.5,725.4 318.0,726.5 318.4,727.5 318.9,728.6 319.4,729.6 319.9,730.6 320.3,731.6 320.8,732.6 321.3,733.5 321.8,734.5 322.4,735.4 322.9,736.4 323.4,737.3 323.9,738.2 324.4,739.1 324.9,740.0 325.5,740.9 326.0,741.8 326.5,742.6 327.0,743.5 327.5,744.4 328.0,745.3 328.5,746.2 329.1,747.1 329.6,748.0 330.1,748.9 330.5,749.9 331.0,750.8 331.5,751.7 332.0,752.6 332.5,753.6 333.0,754.5 333.5,755.4 334.0,756.3 334.5,757.2 335.0,758.1 335.5,759.0 335.9,759.9 336.4,760.8 336.9,761.7 337.4,762.6 337.9,763.5 338.4,764.3 338.9,765.2 339.3,766.0 339.8,766.9 340.3,767.7 340.8,768.6 341.3,769.4 341.8,770.2 342.3,771.0 342.7,771.8 343.2,772.6 343.7,773.4 344.2,774.2 344.7,775.0 345.2,775.7 345.7,776.5 346.2,777.2 346.7,778.0 347.3,778.7 347.8,779.4 348.3,780.1 348.8,780.8 349.3,781.5 349.8,782.2 350.4,782.8 350.9,783.5 351.4,784.2 351.9,784.8 352.5,785.5 353.0,786.1 353.5,786.8 354.0,787.4 354.5,788.0 355.1,788.6 355.6,789.2 356.1,789.8 356.6,790.4 357.1,790.9 357.6,791.5 358.2,792.0 358.7,792.5 359.2,793.0 359.7,793.5 360.2,793.9 360.7,794.4 361.3,794.8 361.8,795.3 362.3,795.7 362.8,796.1 363.3,796.5 363.8,796.9 364.3,797.3 364.9,797.7 365.4,798.1 365.9,798.5 366.4,798.8 366.9,799.2 367.4,799.5 367.9,799.9 368.4,800.2 368.9,800.5 369.4,800.9 369.9,801.2 370.4,801.5 370.9,801.8 371.4,802.1 371.9,802.5 372.4,802.8 372.9,803.1 373.4,803.3 373.9,803.6 374.4,803.9 374.9,804.2 375.4,804.5 375.9,804.8 376.4,805.0 376.8,805.3 377.3,805.6 377.8,805.8 378.3,806.1 378.8,806.3 379.3,806.6 379.8,806.8 380.3,807.0 380.8,807.3 381.3,807.5 381.8,807.7 382.3,807.9 382.7,808.1 383.2,808.3 383.7,808.6 384.2,808.7 384.7,808.9 385.2,809.1 385.7,809.3 386.2,809.5 386.7,809.7 387.2,809.9 387.7,810.0 388.2,810.2 388.7,810.3 389.2,810.5 389.7,810.6 390.2,810.8 390.7,810.9 391.2,811.1 391.7,811.2 392.2,811.3 392.7,811.5 393.2,811.6 393.7,811.7 394.2,811.8 394.7,811.9 395.2,812.0 395.7,812.1 396.2,812.2 396.7,812.3 397.2,812.4 397.7,812.5 398.2,812.6 398.7,812.7 399.2,812.8 399.7,812.8 400.2,812.9 400.7,813.0 401.2,813.1 401.7,813.1 402.2,813.2 402.7,813.3 403.2,813.3 403.7,813.4 404.2,813.4 404.7,813.5 405.2,813.5 405.7,813.6 406.2,813.6 406.7,813.7 407.2,813.7 407.7,813.8 408.2,813.8 408.7,813.8 409.2,813.9 409.7,813.9 410.2,813.9 410.7,814.0 411.2,814.0 411.7,814.0 412.2,814.1 412.7,814.1 413.2,814.1 413.7,814.1 414.2,814.2 414.7,814.2 415.2,814.2 415.7,814.3 416.2,814.3 416.7,814.3 417.2,814.4 417.7,814.4 418.2,814.4 418.7,814.5 419.2,814.5 419.7,814.5 420.2,814.6 420.7,814.6 421.2,814.6 421.7,814.7 422.2,814.7 422.7,814.7 423.2,814.8 423.7,814.8 424.2,814.9 424.7,814.9 425.2,814.9 425.7,815.0 426.2,815.0 426.7,815.0 427.2,815.1 427.7,815.1 428.2,815.2 428.7,815.2 429.2,815.2 429.7,815.3 430.2,815.3 430.7,815.3 431.2,815.3 431.7,815.4 432.2,815.4 432.7,815.4 433.2,815.5 433.7,815.5 434.2,815.5 434.7,815.5" stroke="#ff0000" stroke-width="2.3" fill="none"/>
<path d="M45.2,792.6 45.7,792.6 46.2,792.6 46.7,792.6 47.2,792.6 47.7,792.6 48.2,792.6 48.7,792.6 49.2,792.6 49.7,792.6 50.2,792.6 50.7,792.6 51.2,792.6 51.7,792.6 52.2,792.6 52.7,792.5 53.2,792.5 53.7,792.5 54.2,792.5 54.7,792.5 55.2,792.5 55.7,792.5 56.2,792.5 56.7,792.5 57.2,792.5 57.7,792.5 58.2,792.4 58.7,792.4 59.2,792.4 59.7,792.4 60.2,792.4 60.7,792.4 61.2,792.3 61.7,792.3 62.2,792.3 62.7,792.3 63.2,792.3 63.7,792.3 64.2,792.3 64.7,792.2 65.2,792.2 65.7,792.2 66.2,792.2 66.7,792.2 67.2,792.2 67.7,792.2 68.2,792.2 68.7,792.2 69.2,792.2 69.7,792.2 70.2,792.2 70.7,792.2 71.2,792.2 71.7,792.2 72.2,792.2 72.7,792.2 73.2,792.2 73.7,792.2 74.2,792.2 74.7,792.2 75.2,792.2 75.7,792.2 76.2,792.2 76.7,792.2 77.2,792.2 77.7,792.2 78.2,792.2 78.7,792.2 79.2,792.3 79.7,792.3 80.2,792.3 80.7,792.3 81.2,792.3 81.7,792.3 82.2,792.3 82.7,792.3 83.2,792.4 83.7,792.4 84.2,792.4 84.7,792.4 85.2,792.4 85.7,792.4 86.2,792.5 86.7,792.5 87.2,792.5 87.7,792.5 88.2,792.5 88.7,792.5 89.2,792.5 89.7,792.6 90.2,792.6 90.7,792.6 91.2,792.6 91.7,792.6 92.2,792.6 92.7,792.6 93.2,792.6 93.7,792.6 94.2,792.6 94.7,792.6 95.2,792.7 95.7,792.7 96.2,792.7 96.7,792.7 97.2,792.7 97.7,792.7 98.2,792.7 98.7,792.7 99.2,792.7 99.7,792.7 100.2,792.7 100.7,792.7 101.2,792.7 101.7,792.7 102.2,792.7 102.7,792.7 103.2,792.7 103.7,792.7 104.2,792.7 104.7,792.7 105.2,792.7 105.7,792.7 106.2,792.7 106.7,792.7 107.2,792.7 107.7,792.7 108.2,792.7 108.7,792.7 109.2,792.7 109.7,792.7 110.2,792.7 110.7,792.7 111.2,792.7 111.7,792.7 112.2,792.7 112.7,792.7 113.2,792.7 113.7,792.7 114.2,792.7 114.7,792.7 115.2,792.7 115.7,792.7 116.2,792.7 116.7,792.7 117.2,792.7 117.7,792.7 118.2,792.7 118.7,792.7 119.2,792.7 119.7,792.7 120.2,792.7 120.7,792.8 121.2,792.8 121.7,792.8 122.2,792.8 122.7,792.8 123.2,792.8 123.7,792.8 124.2,792.8 124.7,792.8 125.2,792.8 125.7,792.8 126.2,792.8 126.7,792.8 127.2,792.8 127.7,792.9 128.2,792.9 128.7,792.9 129.2,792.9 129.7,792.9 130.2,792.9 130.7,792.9 131.2,792.9 131.7,792.9 132.2,792.9 132.7,792.9 133.2,792.9 133.7,792.9 134.2,792.9 134.7,792.9 135.2,792.9 135.7,792.9 136.2,792.9 136.7,792.9 137.2,792.9 137.7,793.0 138.2,793.0 138.7,793.0 139.2,793.0 139.7,793.0 140.2,793.0 140.7,793.0 141.2,793.0 141.7,793.0 142.2,793.0 142.7,793.0 143.2,793.0 143.7,793.0 144.2,793.0 144.7,793.0 145.2,793.0 145.7,793.1 146.2,793.1 146.7,793.1 147.2,793.1 147.7,793.1 148.2,793.1 148.7,793.1 149.2,793.1 149.7,793.1 150.2,793.1 150.7,793.1 151.2,793.1 151.7,793.1 152.2,793.1 152.7,793.1 153.2,793.2 153.7,793.2 154.2,793.2 154.7,793.2 155.2,793.2 155.7,793.2 156.2,793.2 156.7,793.2 157.2,793.3 157.7,793.3 158.2,793.3 158.7,793.3 159.2,793.3 159.7,793.3 160.2,793.4 160.7,793.4 161.2,793.4 161.7,793.4 162.2,793.4 162.7,793.5 163.2,793.5 163.7,793.5 164.2,793.5 164.7,793.5 165.2,793.5 165.7,793.6 166.2,793.6 166.7,793.6 167.2,793.6 167.7,793.6 168.2,793.6 168.7,793.7 169.2,793.7 169.7,793.7 170.2,793.7 170.7,793.7 171.2,793.7 171.7,793.7 172.2,793.7 172.7,793.7 173.2,793.7 173.7,793.7 174.2,793.8 174.7,793.8 175.2,793.8 175.7,793.8 176.2,793.8 176.7,793.8 177.2,793.8 177.7,793.9 178.2,793.9 178.7,793.9 179.2,793.9 179.7,793.9 180.2,794.0 180.7,794.0 181.2,794.0 181.7,794.1 182.2,794.1 182.7,794.1 183.2,794.1 183.7,794.2 184.2,794.2 184.7,794.2 185.2,794.3 185.7,794.3 186.2,794.4 186.7,794.4 187.2,794.4 187.7,794.5 188.2,794.5 188.7,794.6 189.2,794.6 189.7,794.6 190.2,794.7 190.7,794.7 191.2,794.8 191.7,794.8 192.2,794.8 192.7,794.9 193.2,794.9 193.7,795.0 194.2,795.0 194.7,795.1 195.2,795.1 195.7,795.2 196.2,795.2 196.7,795.3 197.2,795.3 197.7,795.4 198.2,795.4 198.7,795.4 199.2,795.5 199.7,795.5 200.2,795.6 200.7,795.6 201.2,795.7 201.7,795.7 202.2,795.8 202.7,795.9 203.2,795.9 203.7,796.0 204.2,796.0 204.7,796.1 205.2,796.1 205.7,796.2 206.2,796.2 206.7,796.3 207.2,796.4 207.7,796.4 208.2,796.5 208.7,796.6 209.2,796.6 209.7,796.7 210.2,796.7 210.7,796.8 211.2,796.9 211.7,796.9 212.2,797.0 212.7,797.1 213.2,797.1 213.7,797.2 214.2,797.2 214.7,797.3 215.2,797.3 215.7,797.4 216.2,797.4 216.7,797.5 217.2,797.6 217.7,797.6 218.2,797.7 218.7,797.7 219.2,797.8 219.7,797.8 220.2,797.9 220.7,797.9 221.2,798.0 221.7,798.0 222.2,798.1 222.7,798.1 223.2,798.2 223.7,798.3 224.2,798.3 224.7,798.4 225.2,798.4 225.7,798.5 226.2,798.5 226.7,798.6 227.2,798.7 227.7,798.7 228.2,798.8 228.7,798.9 229.2,798.9 229.7,799.0 230.2,799.0 230.7,799.1 231.2,799.2 231.7,799.2 232.2,799.3 232.7,799.4 233.2,799.4 233.7,799.5 234.2,799.6 234.7,799.6 235.2,799.7 235.7,799.8 236.2,799.9 236.7,799.9 237.2,800.0 237.7,800.1 238.2,800.1 238.7,800.2 239.2,800.3 239.7,800.4 240.2,800.5 240.7,800.5 241.2,800.6 241.7,800.7 242.2,800.8 242.7,800.8 243.2,800.9 243.7,801.0 244.2,801.1 244.7,801.2 245.2,801.2 245.7,801.3 246.2,801.4 246.7,801.5 247.2,801.5 247.7,801.6 248.2,801.7 248.7,801.8 249.2,801.8 249.7,801.9 250.2,802.0 250.7,802.1 251.2,802.1 251.7,802.2 252.2,802.3 252.7,802.4 253.2,802.4 253.7,802.5 254.2,802.6 254.7,802.7 255.2,802.8 255.7,802.8 256.2,802.9 256.7,803.0 257.2,803.1 257.7,803.2 258.2,803.2 258.7,803.3 259.2,803.4 259.7,803.5 260.2,803.6 260.7,803.7 261.2,803.7 261.7,803.8 262.2,803.9 262.7,804.0 263.2,804.1 263.7,804.2 264.2,804.2 264.7,804.3 265.2,804.4 265.7,804.5 266.2,804.6 266.7,804.7 267.2,804.8 267.7,804.9 268.2,804.9 268.7,805.0 269.2,805.1 269.7,805.2 270.2,805.3 270.7,805.4 271.2,805.5 271.7,805.6 272.2,805.7 272.7,805.8 273.2,805.8 273.7,805.9 274.2,806.0 274.7,806.1 275.2,806.2 275.7,806.3 276.2,806.4 276.7,806.5 277.2,806.5 277.7,806.6 278.2,806.7 278.7,806.8 279.2,806.9 279.7,807.0 280.2,807.1 280.7,807.2 281.2,807.2 281.7,807.3 282.2,807.4 282.7,807.5 283.2,807.6 283.7,807.7 284.2,807.8 284.7,807.9 285.2,808.0 285.7,808.1 286.2,808.1 286.7,808.2 287.2,808.3 287.7,808.4 288.2,808.5 288.7,808.6 289.2,808.7 289.7,808.8 290.2,808.9 290.7,809.0 291.2,809.1 291.7,809.2 292.2,809.3 292.7,809.4 293.2,809.4 293.7,809.5 294.2,809.6 294.7,809.7 295.2,809.8 295.7,809.9 296.2,810.0 296.7,810.1 297.2,810.2 297.7,810.3 298.2,810.4 298.7,810.5 299.2,810.6 299.7,810.7 300.2,810.8 300.7,810.9 301.2,811.0 301.7,811.1 302.2,811.2 302.7,811.3 303.2,811.4 303.7,811.5 304.2,811.6 304.7,811.7 305.2,811.8 305.7,811.9 306.2,812.0 306.7,812.1 307.2,812.2 307.7,812.3 308.2,812.4 308.7,812.5 309.2,812.6 309.7,812.7 310.2,812.7 310.7,812.8 311.2,812.9 311.7,813.0 312.2,813.1 312.7,813.2 313.2,813.2 313.7,813.3 314.2,813.4 314.7,813.5 315.2,813.6 315.7,813.6 316.2,813.7 316.7,813.8 317.2,813.8 317.7,813.9 318.2,814.0 318.7,814.0 319.2,814.1 319.7,814.2 320.2,814.2 320.7,814.3 321.2,814.4 321.7,814.4 322.2,814.5 322.7,814.6 323.2,814.6 323.7,814.7 324.2,814.7 324.7,814.8 325.2,814.8 325.7,814.9 326.2,814.9 326.7,815.0 327.2,815.0 327.7,815.1 328.2,815.1 328.7,815.2 329.2,815.2 329.7,815.3 330.2,815.3 330.7,815.4 331.2,815.4 331.7,815.4 332.2,815.5 332.7,815.5 333.2,815.6 333.7,815.6 334.2,815.6 334.7,815.7 335.2,815.7 335.7,815.7 336.2,815.8 336.7,815.8 337.2,815.8 337.7,815.8 338.2,815.9 338.7,815.9 339.2,815.9 339.7,816.0 340.2,816.0 340.7,816.0 341.2,816.1 341.7,816.1 342.2,816.1 342.7,816.2 343.2,816.2 343.7,816.2 344.2,816.3 344.7,816.3 345.2,816.3 345.7,816.3 346.2,816.4 346.7,816.4 347.2,816.4 347.7,816.5 348.2,816.5 348.7,816.5 349.2,816.5 349.7,816.6 350.2,816.6 350.7,816.6 351.2,816.6 351.7,816.6 352.2,816.7 352.7,816.7 353.2,816.7 353.7,816.7 354.2,816.8 354.7,816.8 355.2,816.8 355.7,816.8 356.2,816.8 356.7,816.8 357.2,816.9 357.7,816.9 358.2,816.9 358.7,816.9 359.2,816.9 359.7,817.0 360.2,817.0 360.7,817.0 361.2,817.0 361.7,817.0 362.2,817.0 362.7,817.0 363.2,817.1 363.7,817.1 364.2,817.1 364.7,817.1 365.2,817.1 365.7,817.1 366.2,817.1 366.7,817.2 367.2,817.2 367.7,817.2 368.2,817.2 368.7,817.2 369.2,817.2 369.7,817.3 370.2,817.3 370.7,817.3 371.2,817.3 371.7,817.3 372.2,817.3 372.7,817.4 373.2,817.4 373.7,817.4 374.2,817.4 374.7,817.4 375.2,817.4 375.7,817.5 376.2,817.5 376.7,817.5 377.2,817.5 377.7,817.5 378.2,817.6 378.7,817.6 379.2,817.6 379.7,817.6 380.2,817.6 380.7,817.6 381.2,817.6 381.7,817.6 382.2,817.7 382.7,817.7 383.2,817.7 383.7,817.7 384.2,817.7 384.7,817.7 385.2,817.7 385.7,817.7 386.2,817.7 386.7,817.7 387.2,817.7 387.7,817.7 388.2,817.8 388.7,817.8 389.2,817.8 389.7,817.8 390.2,817.8 390.7,817.8 391.2,817.8 391.7,817.8 392.2,817.8 392.7,817.8 393.2,817.8 393.7,817.8 394.2,817.8 394.7,817.8 395.2,817.8 395.7,817.8 396.2,817.8 396.7,817.8 397.2,817.8 397.7,817.8 398.2,817.9 398.7,817.9 399.2,817.9 399.7,817.9 400.2,817.9 400.7,817.9 401.2,817.9 401.7,817.9 402.2,817.9 402.7,817.9 403.2,818.0 403.7,818.0 404.2,818.0 404.7,818.0 405.2,818.0 405.7,818.0 406.2,818.1 406.7,818.1 407.2,818.1 407.7,818.1 408.2,818.1 408.7,818.1 409.2,818.2 409.7,818.2 410.2,818.2 410.7,818.2 411.2,818.2 411.7,818.2 412.2,818.2 412.7,818.2 413.2,818.2 413.7,818.2 414.2,818.3 414.7,818.3 415.2,818.3 415.7,818.3 416.2,818.3 416.7,818.3 417.2,818.3 417.7,818.3 418.2,818.3 418.7,818.3 419.2,818.3 419.7,818.3 420.2,818.3 420.7,818.3 421.2,818.3 421.7,818.3 422.2,818.3 422.7,818.3 423.2,818.3 423.7,818.3 424.2,818.3 424.7,818.3 425.2,818.3 425.7,818.3 426.2,818.3 426.7,818.3 427.2,818.3 427.7,818.3 428.2,818.3 428.7,818.3 429.2,818.3 429.7,818.3 430.2,818.3 430.7,818.3 431.2,818.3 431.7,818.3 432.2,818.3 432.7,818.3 433.2,818.3 433.7,818.3 434.2,818.3 434.7,818.3" stroke="#808000" stroke-width="2.2" fill="none"/>
<path d="M45.2,791.9 45.7,791.9 46.2,791.9 46.7,791.9 47.2,791.9 47.7,791.9 48.2,791.9 48.7,791.9 49.2,791.9 49.7,791.9 50.2,791.9 50.7,791.8 51.2,791.8 51.7,791.8 52.2,791.8 52.7,791.8 53.2,791.8 53.7,791.8 54.2,791.8 54.7,791.8 55.2,791.8 55.7,791.8 56.2,791.7 56.7,791.7 57.2,791.7 57.7,791.7 58.2,791.7 58.7,791.7 59.2,791.7 59.7,791.6 60.2,791.6 60.7,791.6 61.2,791.6 61.7,791.6 62.2,791.5 62.7,791.5 63.2,791.5 63.7,791.5 64.2,791.5 64.7,791.5 65.2,791.5 65.7,791.4 66.2,791.4 66.7,791.4 67.2,791.4 67.7,791.4 68.2,791.4 68.7,791.4 69.2,791.4 69.7,791.4 70.2,791.4 70.7,791.4 71.2,791.4 71.7,791.4 72.2,791.4 72.7,791.4 73.2,791.4 73.7,791.4 74.2,791.4 74.7,791.4 75.2,791.3 75.7,791.3 76.2,791.3 76.7,791.3 77.2,791.3 77.7,791.3 78.2,791.3 78.7,791.3 79.2,791.3 79.7,791.3 80.2,791.3 80.7,791.3 81.2,791.3 81.7,791.3 82.2,791.3 82.7,791.3 83.2,791.3 83.7,791.3 84.2,791.3 84.7,791.3 85.2,791.3 85.7,791.3 86.2,791.3 86.7,791.3 87.2,791.3 87.7,791.3 88.2,791.3 88.7,791.3 89.2,791.3 89.7,791.3 90.2,791.3 90.7,791.3 91.2,791.3 91.7,791.3 92.2,791.3 92.7,791.3 93.2,791.3 93.7,791.3 94.2,791.3 94.7,791.3 95.2,791.3 95.7,791.3 96.2,791.3 96.7,791.3 97.2,791.3 97.7,791.3 98.2,791.3 98.7,791.3 99.2,791.3 99.7,791.3 100.2,791.3 100.7,791.3 101.2,791.3 101.7,791.3 102.2,791.3 102.7,791.3 103.2,791.3 103.7,791.3 104.2,791.4 104.7,791.4 105.2,791.4 105.7,791.4 106.2,791.4 106.7,791.4 107.2,791.4 107.7,791.4 108.2,791.5 108.7,791.5 109.2,791.5 109.7,791.5 110.2,791.5 110.7,791.5 111.2,791.6 111.7,791.6 112.2,791.6 112.7,791.6 113.2,791.6 113.7,791.6 114.2,791.6 114.7,791.6 115.2,791.6 115.7,791.6 116.2,791.7 116.7,791.7 117.2,791.7 117.7,791.7 118.2,791.7 118.7,791.7 119.2,791.7 119.7,791.7 120.2,791.7 120.7,791.7 121.2,791.7 121.7,791.7 122.2,791.7 122.7,791.7 123.2,791.7 123.7,791.7 124.2,791.7 124.7,791.7 125.2,791.7 125.7,791.7 126.2,791.7 126.7,791.7 127.2,791.7 127.7,791.6 128.2,791.6 128.7,791.6 129.2,791.6 129.7,791.6 130.2,791.6 130.7,791.6 131.2,791.6 131.7,791.6 132.2,791.6 132.7,791.6 133.2,791.6 133.7,791.6 134.2,791.6 134.7,791.6 135.2,791.6 135.7,791.6 136.2,791.6 136.7,791.6 137.2,791.6 137.7,791.6 138.2,791.6 138.7,791.6 139.2,791.6 139.7,791.5 140.2,791.5 140.7,791.5 141.2,791.5 141.7,791.5 142.2,791.5 142.7,791.5 143.2,791.5 143.7,791.5 144.2,791.5 144.7,791.5 145.2,791.5 145.7,791.5 146.2,791.5 146.7,791.4 147.2,791.4 147.7,791.4 148.2,791.4 148.7,791.4 149.2,791.4 149.7,791.4 150.2,791.4 150.7,791.4 151.2,791.4 151.7,791.4 152.2,791.4 152.7,791.4 153.2,791.4 153.7,791.4 154.2,791.4 154.7,791.4 155.2,791.4 155.7,791.4 156.2,791.4 156.7,791.4 157.2,791.4 157.7,791.4 158.2,791.4 158.7,791.4 159.2,791.4 159.7,791.4 160.2,791.4 160.7,791.4 161.2,791.5 161.7,791.5 162.2,791.5 162.7,791.5 163.2,791.5 163.7,791.5 164.2,791.5 164.7,791.5 165.2,791.5 165.7,791.5 166.2,791.5 166.7,791.5 167.2,791.5 167.7,791.5 168.2,791.5 168.7,791.6 169.2,791.6 169.7,791.6 170.2,791.6 170.7,791.6 171.2,791.6 171.7,791.6 172.2,791.6 172.7,791.6 173.2,791.6 173.7,791.6 174.2,791.6 174.7,791.6 175.2,791.6 175.7,791.6 176.2,791.6 176.7,791.6 177.2,791.6 177.7,791.6 178.2,791.6 178.7,791.6 179.2,791.6 179.7,791.6 180.2,791.6 180.7,791.6 181.2,791.6 181.7,791.6 182.2,791.6 182.7,791.6 183.2,791.6 183.7,791.6 184.2,791.6 184.7,791.5 185.2,791.5 185.7,791.5 186.2,791.5 186.7,791.5 187.2,791.5 187.7,791.4 188.2,791.4 188.7,791.4 189.2,791.4 189.7,791.3 190.2,791.3 190.7,791.3 191.2,791.2 191.7,791.2 192.2,791.1 192.7,791.1 193.2,791.0 193.7,791.0 194.2,790.9 194.7,790.9 195.2,790.8 195.7,790.8 196.2,790.7 196.7,790.7 197.2,790.6 197.7,790.5 198.2,790.5 198.7,790.4 199.2,790.3 199.7,790.3 200.2,790.2 200.7,790.1 201.2,790.1 201.6,790.0 202.1,789.9 202.6,789.8 203.1,789.8 203.6,789.7 204.1,789.6 204.6,789.5 205.1,789.4 205.6,789.3 206.1,789.2 206.6,789.1 207.1,789.0 207.6,788.9 208.1,788.8 208.6,788.7 209.1,788.6 209.6,788.5 210.1,788.4 210.6,788.2 211.1,788.1 211.6,788.0 212.1,787.8 212.6,787.7 213.1,787.5 213.6,787.4 214.1,787.2 214.6,787.1 215.1,786.9 215.6,786.7 216.0,786.6 216.5,786.4 217.0,786.2 217.5,786.0 218.0,785.8 218.5,785.6 219.0,785.4 219.5,785.2 220.0,784.9 220.5,784.7 221.0,784.5 221.5,784.2 222.0,784.0 222.5,783.8 223.0,783.5 223.5,783.2 224.0,783.0 224.5,782.7 225.0,782.4 225.5,782.1 226.0,781.8 226.5,781.5 227.0,781.2 227.5,780.9 228.0,780.6 228.5,780.3 229.0,780.0 229.5,779.6 230.0,779.3 230.5,778.9 231.0,778.6 231.5,778.2 232.0,777.8 232.5,777.4 233.0,777.0 233.5,776.6 234.0,776.2 234.5,775.8 235.0,775.4 235.5,775.0 236.0,774.5 236.5,774.1 237.0,773.6 237.5,773.2 238.0,772.7 238.5,772.2 239.0,771.7 239.5,771.2 240.0,770.8 240.5,770.3 241.1,769.8 241.6,769.2 242.1,768.7 242.6,768.2 243.1,767.7 243.6,767.1 244.1,766.6 244.6,766.0 245.1,765.5 245.6,764.9 246.2,764.4 246.7,763.8 247.2,763.2 247.7,762.6 248.2,762.0 248.7,761.4 249.2,760.8 249.7,760.2 250.2,759.5 250.7,758.9 251.2,758.3 251.6,757.6 252.1,757.0 252.6,756.3 253.1,755.7 253.6,755.0 254.0,754.3 254.5,753.7 255.0,753.0 255.5,752.3 256.0,751.6 256.4,751.0 256.9,750.3 257.4,749.6 257.9,748.9 258.4,748.2 258.9,747.6 259.4,746.9 259.9,746.2 260.4,745.5 260.9,744.8 261.4,744.2 261.9,743.5 262.4,742.8 262.9,742.2 263.4,741.5 263.9,740.8 264.4,740.2 264.9,739.5 265.4,738.9 265.9,738.2 266.4,737.6 266.9,736.9 267.4,736.3 267.9,735.6 268.4,735.0 268.9,734.4 269.4,733.7 269.9,733.1 270.4,732.5 270.9,731.9 271.4,731.3 271.9,730.8 272.4,730.2 272.9,729.6 273.4,729.1 273.9,728.5 274.4,728.0 274.9,727.4 275.4,726.9 276.0,726.4 276.5,725.9 277.0,725.4 277.5,725.0 278.0,724.5 278.5,724.1 279.1,723.6 279.6,723.2 280.1,722.8 280.6,722.4 281.1,722.1 281.7,721.7 282.2,721.3 282.7,721.0 283.2,720.7 283.7,720.4 284.2,720.1 284.8,719.9 285.3,719.6 285.8,719.4 286.3,719.2 286.8,719.0 287.3,718.8 287.8,718.6 288.4,718.4 288.9,718.3 289.4,718.2 289.9,718.1 290.4,718.0 290.9,718.0 291.4,717.9 291.9,717.9 292.4,717.9 292.9,717.9 293.4,717.9 293.9,717.9 294.4,718.0 294.9,718.1 295.4,718.2 295.9,718.3 296.4,718.4 296.9,718.6 297.4,718.8 297.9,719.0 298.4,719.2 298.8,719.5 299.3,719.8 299.8,720.1 300.3,720.4 300.8,720.8 301.3,721.2 301.8,721.6 302.3,722.0 302.7,722.4 303.2,722.9 303.7,723.3 304.2,723.8 304.7,724.3 305.2,724.8 305.6,725.4 306.1,725.9 306.6,726.5 307.1,727.0 307.6,727.6 308.1,728.2 308.6,728.8 309.1,729.5 309.6,730.1 310.0,730.8 310.5,731.4 311.0,732.1 311.5,732.8 312.0,733.5 312.5,734.2 312.9,735.0 313.4,735.7 313.9,736.5 314.3,737.2 314.8,738.0 315.2,738.8 315.7,739.6 316.1,740.4 316.6,741.2 317.1,741.9 317.6,742.7 318.1,743.5 318.6,744.3 319.0,745.1 319.6,745.9 320.1,746.7 320.6,747.5 321.1,748.3 321.6,749.1 322.2,749.9 322.7,750.6 323.3,751.4 323.8,752.2 324.4,753.0 325.0,753.7 325.5,754.5 326.1,755.3 326.7,756.0 327.2,756.8 327.8,757.6 328.3,758.3 328.9,759.1 329.4,759.9 330.0,760.6 330.5,761.4 331.0,762.2 331.5,762.9 332.1,763.7 332.6,764.5 333.1,765.2 333.6,766.0 334.1,766.8 334.6,767.5 335.1,768.3 335.6,769.0 336.1,769.7 336.6,770.5 337.2,771.2 337.7,771.9 338.2,772.6 338.7,773.4 339.2,774.1 339.7,774.8 340.2,775.5 340.7,776.1 341.2,776.8 341.7,777.5 342.2,778.2 342.7,778.8 343.2,779.5 343.6,780.2 344.1,780.8 344.6,781.4 345.1,782.1 345.6,782.7 346.1,783.3 346.6,783.9 347.1,784.5 347.6,785.1 348.1,785.7 348.5,786.3 349.0,786.9 349.5,787.5 350.0,788.1 350.5,788.6 350.9,789.2 351.4,789.8 351.9,790.3 352.3,790.8 352.8,791.4 353.3,791.9 353.8,792.4 354.2,793.0 354.7,793.5 355.2,794.0 355.6,794.5 356.1,795.0 356.6,795.5 357.1,795.9 357.5,796.4 358.0,796.9 358.5,797.3 359.0,797.7 359.5,798.1 360.0,798.6 360.5,799.0 361.0,799.4 361.5,799.7 362.0,800.1 362.5,800.5 363.0,800.8 363.5,801.2 364.0,801.5 364.5,801.9 365.0,802.2 365.5,802.5 366.1,802.9 366.6,803.2 367.1,803.5 367.6,803.8 368.1,804.1 368.6,804.4 369.1,804.6 369.6,804.9 370.1,805.2 370.6,805.5 371.1,805.7 371.6,806.0 372.1,806.2 372.6,806.5 373.1,806.7 373.6,806.9 374.1,807.2 374.6,807.4 375.1,807.6 375.6,807.8 376.1,808.1 376.6,808.3 377.1,808.5 377.6,808.7 378.1,808.9 378.6,809.1 379.1,809.3 379.6,809.4 380.1,809.6 380.6,809.8 381.1,810.0 381.6,810.1 382.1,810.3 382.6,810.5 383.1,810.6 383.6,810.8 384.1,811.0 384.6,811.1 385.1,811.3 385.6,811.4 386.1,811.5 386.6,811.7 387.1,811.8 387.6,811.9 388.1,812.1 388.6,812.2 389.1,812.3 389.6,812.4 390.2,812.5 390.7,812.6 391.2,812.7 391.7,812.9 392.2,813.0 392.7,813.1 393.2,813.1 393.7,813.2 394.2,813.3 394.7,813.4 395.2,813.5 395.7,813.6 396.2,813.7 396.7,813.7 397.2,813.8 397.7,813.9 398.2,813.9 398.7,814.0 399.2,814.1 399.7,814.1 400.2,814.2 400.7,814.3 401.2,814.3 401.7,814.4 402.2,814.4 402.7,814.5 403.2,814.5 403.7,814.6 404.2,814.6 404.7,814.6 405.2,814.7 405.7,814.7 406.2,814.8 406.7,814.8 407.2,814.8 407.7,814.8 408.2,814.9 408.7,814.9 409.2,814.9 409.7,814.9 410.2,815.0 410.7,815.0 411.2,815.0 411.7,815.0 412.2,815.1 412.7,815.1 413.2,815.1 413.7,815.1 414.2,815.1 414.7,815.2 415.2,815.2 415.7,815.2 416.2,815.2 416.7,815.2 417.2,815.3 417.7,815.3 418.2,815.3 418.7,815.3 419.2,815.4 419.7,815.4 420.2,815.4 420.7,815.4 421.2,815.5 421.7,815.5 422.2,815.5 422.7,815.5 423.2,815.6 423.7,815.6 424.2,815.6 424.7,815.6 425.2,815.7 425.7,815.7 426.2,815.7 426.7,815.7 427.2,815.8 427.7,815.8 428.2,815.8 428.7,815.8 429.2,815.8 429.7,815.9 430.2,815.9 430.7,815.9 431.2,815.9 431.7,815.9 432.2,816.0 432.7,816.0 433.2,816.0 433.7,816.0 434.2,816.0 434.7,816.1" stroke="#ff8000" stroke-width="2.3" fill="none"/>
<path d="M45.2,790.8 45.7,790.8 46.2,790.8 46.7,790.8 47.2,790.8 47.7,790.7 48.2,790.7 48.7,790.7 49.2,790.7 49.7,790.7 50.2,790.7 50.7,790.7 51.2,790.7 51.7,790.6 52.2,790.6 52.7,790.6 53.2,790.6 53.7,790.6 54.2,790.6 54.7,790.5 55.2,790.5 55.7,790.5 56.2,790.5 56.7,790.5 57.2,790.5 57.7,790.4 58.2,790.4 58.7,790.4 59.2,790.4 59.7,790.4 60.2,790.3 60.7,790.3 61.2,790.3 61.7,790.3 62.2,790.3 62.7,790.3 63.2,790.2 63.7,790.2 64.2,790.2 64.7,790.2 65.2,790.2 65.7,790.2 66.2,790.2 66.7,790.2 67.2,790.2 67.7,790.1 68.2,790.1 68.7,790.1 69.2,790.1 69.7,790.1 70.2,790.1 70.7,790.1 71.2,790.1 71.7,790.0 72.2,790.0 72.7,790.0 73.2,790.0 73.7,790.0 74.2,790.0 74.7,789.9 75.2,789.9 75.7,789.9 76.2,789.9 76.7,789.9 77.2,789.8 77.7,789.8 78.2,789.8 78.7,789.8 79.2,789.7 79.7,789.7 80.2,789.7 80.7,789.6 81.2,789.6 81.7,789.6 82.2,789.5 82.7,789.5 83.2,789.5 83.7,789.4 84.2,789.4 84.7,789.4 85.2,789.3 85.7,789.3 86.2,789.2 86.7,789.2 87.2,789.1 87.7,789.1 88.2,789.0 88.7,789.0 89.2,788.9 89.7,788.9 90.2,788.8 90.7,788.8 91.2,788.7 91.7,788.6 92.2,788.6 92.7,788.5 93.2,788.5 93.7,788.4 94.2,788.4 94.7,788.3 95.2,788.3 95.7,788.2 96.2,788.2 96.7,788.1 97.2,788.1 97.7,788.0 98.2,788.0 98.7,787.9 99.2,787.9 99.7,787.8 100.2,787.8 100.7,787.7 101.2,787.7 101.7,787.6 102.2,787.6 102.7,787.5 103.2,787.4 103.7,787.4 104.2,787.3 104.7,787.3 105.2,787.2 105.7,787.1 106.2,787.1 106.7,787.0 107.2,786.9 107.7,786.9 108.2,786.8 108.7,786.7 109.2,786.7 109.7,786.6 110.2,786.5 110.7,786.4 111.2,786.4 111.7,786.3 112.2,786.2 112.7,786.1 113.2,786.0 113.7,785.9 114.2,785.8 114.7,785.8 115.2,785.7 115.7,785.6 116.2,785.5 116.7,785.4 117.2,785.3 117.7,785.2 118.2,785.1 118.7,785.0 119.2,784.8 119.7,784.7 120.2,784.6 120.7,784.5 121.2,784.4 121.7,784.3 122.2,784.2 122.7,784.0 123.2,783.9 123.7,783.8 124.2,783.7 124.7,783.5 125.2,783.4 125.7,783.3 126.2,783.1 126.7,783.0 127.2,782.9 127.7,782.7 128.2,782.6 128.7,782.4 129.2,782.3 129.7,782.1 130.2,782.0 130.7,781.8 131.2,781.7 131.7,781.5 132.2,781.4 132.7,781.2 133.2,781.0 133.7,780.9 134.2,780.7 134.7,780.5 135.2,780.4 135.7,780.2 136.2,780.0 136.7,779.8 137.2,779.7 137.7,779.5 138.2,779.3 138.7,779.1 139.2,778.9 139.8,778.7 140.3,778.5 140.8,778.3 141.3,778.1 141.8,777.9 142.3,777.7 142.8,777.5 143.3,777.3 143.8,777.0 144.3,776.8 144.8,776.6 145.3,776.4 145.8,776.1 146.3,775.9 146.8,775.7 147.3,775.4 147.8,775.2 148.3,774.9 148.8,774.7 149.3,774.4 149.8,774.2 150.3,773.9 150.8,773.7 151.3,773.4 151.8,773.1 152.3,772.9 152.8,772.6 153.3,772.3 153.8,772.1 154.3,771.8 154.7,771.5 155.2,771.2 155.7,771.0 156.2,770.7 156.7,770.4 157.2,770.1 157.7,769.8 158.2,769.5 158.7,769.2 159.2,768.9 159.7,768.6 160.2,768.3 160.7,768.0 161.2,767.7 161.7,767.4 162.2,767.1 162.7,766.8 163.2,766.5 163.7,766.2 164.2,765.8 164.7,765.5 165.2,765.2 165.7,764.9 166.2,764.6 166.7,764.2 167.2,763.9 167.7,763.6 168.2,763.3 168.7,762.9 169.2,762.6 169.7,762.3 170.2,761.9 170.7,761.6 171.2,761.3 171.7,760.9 172.2,760.6 172.7,760.2 173.2,759.9 173.7,759.6 174.2,759.2 174.7,758.9 175.2,758.5 175.7,758.2 176.2,757.8 176.7,757.5 177.2,757.2 177.7,756.8 178.2,756.5 178.7,756.1 179.2,755.8 179.7,755.4 180.2,755.1 180.7,754.7 181.2,754.4 181.7,754.1 182.2,753.7 182.7,753.4 183.2,753.0 183.7,752.7 184.2,752.3 184.7,752.0 185.2,751.7 185.7,751.3 186.2,751.0 186.7,750.7 187.2,750.3 187.7,750.0 188.2,749.6 188.7,749.3 189.2,749.0 189.7,748.7 190.2,748.3 190.7,748.0 191.2,747.7 191.7,747.3 192.2,747.0 192.7,746.7 193.2,746.4 193.7,746.1 194.2,745.7 194.7,745.4 195.2,745.1 195.7,744.8 196.2,744.5 196.7,744.2 197.2,743.9 197.6,743.6 198.1,743.3 198.6,743.0 199.1,742.7 199.6,742.4 200.1,742.1 200.6,741.8 201.1,741.6 201.6,741.3 202.1,741.0 202.6,740.7 203.1,740.5 203.7,740.2 204.2,740.0 204.7,739.7 205.2,739.5 205.7,739.2 206.2,739.0 206.7,738.8 207.2,738.6 207.7,738.4 208.2,738.2 208.7,737.9 209.2,737.8 209.8,737.6 210.3,737.4 210.8,737.2 211.3,737.0 211.8,736.9 212.3,736.7 212.8,736.5 213.3,736.4 213.9,736.3 214.4,736.1 214.9,736.0 215.4,735.9 215.9,735.7 216.4,735.6 216.9,735.5 217.4,735.4 217.9,735.3 218.4,735.2 219.0,735.1 219.5,735.1 220.0,735.0 220.5,734.9 221.0,734.9 221.5,734.8 222.0,734.8 222.5,734.7 223.0,734.7 223.5,734.6 224.0,734.6 224.5,734.6 225.0,734.6 225.5,734.6 226.0,734.6 226.5,734.6 227.0,734.6 227.5,734.6 228.0,734.7 228.5,734.7 229.0,734.7 229.5,734.8 230.0,734.8 230.5,734.9 230.9,735.0 231.4,735.0 231.9,735.1 232.4,735.2 232.9,735.3 233.4,735.4 233.9,735.5 234.4,735.6 234.9,735.8 235.4,735.9 235.9,736.0 236.4,736.2 236.8,736.3 237.3,736.5 237.8,736.7 238.3,736.8 238.8,737.0 239.3,737.2 239.8,737.4 240.3,737.6 240.8,737.8 241.3,738.0 241.8,738.2 242.3,738.4 242.8,738.7 243.3,738.9 243.8,739.1 244.3,739.4 244.8,739.6 245.3,739.9 245.8,740.1 246.3,740.4 246.8,740.7 247.3,740.9 247.8,741.2 248.4,741.5 248.9,741.8 249.4,742.1 249.9,742.4 250.4,742.7 250.9,743.0 251.4,743.4 251.9,743.7 252.4,744.0 252.9,744.4 253.4,744.7 253.9,745.1 254.4,745.4 254.9,745.8 255.4,746.1 255.9,746.5 256.4,746.9 256.9,747.2 257.4,747.6 257.9,748.0 258.4,748.4 258.9,748.7 259.4,749.1 259.9,749.5 260.4,749.9 260.9,750.3 261.4,750.7 261.9,751.1 262.4,751.5 262.9,751.9 263.4,752.3 263.9,752.7 264.4,753.1 264.9,753.5 265.4,754.0 265.9,754.4 266.4,754.8 267.0,755.2 267.5,755.6 268.0,756.0 268.5,756.5 269.0,756.9 269.5,757.3 270.0,757.7 270.5,758.1 271.0,758.6 271.5,759.0 272.0,759.4 272.6,759.9 273.1,760.3 273.6,760.7 274.1,761.1 274.6,761.6 275.1,762.0 275.6,762.4 276.1,762.9 276.6,763.3 277.1,763.8 277.6,764.2 278.1,764.6 278.6,765.1 279.1,765.5 279.6,766.0 280.1,766.4 280.6,766.9 281.1,767.3 281.6,767.8 282.1,768.2 282.6,768.7 283.1,769.1 283.6,769.6 284.1,770.0 284.5,770.5 285.0,770.9 285.5,771.4 286.0,771.8 286.5,772.3 287.0,772.8 287.4,773.2 287.9,773.7 288.4,774.2 288.8,774.6 289.3,775.1 289.7,775.6 290.2,776.1 290.7,776.5 291.1,777.0 291.6,777.5 292.0,778.0 292.5,778.4 293.0,778.9 293.4,779.4 293.9,779.8 294.4,780.2 294.9,780.7 295.4,781.1 295.9,781.5 296.4,781.9 296.9,782.3 297.4,782.7 297.9,783.1 298.4,783.5 298.9,783.9 299.4,784.2 299.9,784.6 300.5,785.0 301.0,785.3 301.5,785.7 302.0,786.1 302.5,786.4 303.1,786.8 303.6,787.1 304.1,787.5 304.6,787.8 305.2,788.1 305.7,788.5 306.2,788.8 306.7,789.1 307.2,789.5 307.8,789.8 308.3,790.1 308.8,790.4 309.3,790.8 309.8,791.1 310.4,791.4 310.9,791.7 311.4,792.0 311.9,792.3 312.4,792.6 312.9,792.9 313.4,793.2 314.0,793.5 314.5,793.8 315.0,794.1 315.5,794.4 316.0,794.7 316.5,795.0 317.0,795.3 317.5,795.6 318.0,795.9 318.5,796.2 319.0,796.5 319.5,796.8 320.0,797.1 320.5,797.4 321.0,797.6 321.5,797.9 322.0,798.2 322.5,798.5 323.0,798.7 323.5,799.0 324.0,799.3 324.5,799.5 325.0,799.8 325.4,800.1 325.9,800.3 326.4,800.6 326.9,800.8 327.4,801.1 327.9,801.4 328.4,801.6 328.9,801.8 329.4,802.1 329.9,802.3 330.4,802.6 330.9,802.8 331.4,803.0 331.9,803.3 332.4,803.5 332.9,803.7 333.4,803.9 333.9,804.1 334.3,804.4 334.8,804.6 335.3,804.8 335.8,805.0 336.3,805.2 336.8,805.4 337.3,805.6 337.8,805.8 338.3,806.0 338.8,806.2 339.3,806.4 339.8,806.6 340.3,806.8 340.8,807.0 341.3,807.1 341.8,807.3 342.3,807.5 342.8,807.7 343.2,807.9 343.7,808.1 344.2,808.2 344.7,808.4 345.2,808.6 345.7,808.7 346.2,808.9 346.7,809.1 347.2,809.2 347.7,809.4 348.2,809.5 348.7,809.7 349.2,809.8 349.7,810.0 350.2,810.1 350.7,810.3 351.2,810.4 351.7,810.5 352.2,810.7 352.7,810.8 353.2,810.9 353.7,811.1 354.2,811.2 354.7,811.3 355.2,811.4 355.7,811.5 356.2,811.6 356.7,811.7 357.2,811.9 357.7,812.0 358.2,812.1 358.7,812.2 359.2,812.3 359.7,812.4 360.2,812.5 360.7,812.6 361.2,812.7 361.7,812.8 362.2,812.8 362.7,812.9 363.2,813.0 363.7,813.1 364.2,813.2 364.7,813.3 365.2,813.4 365.7,813.4 366.2,813.5 366.7,813.6 367.2,813.7 367.7,813.7 368.2,813.8 368.7,813.9 369.2,814.0 369.7,814.0 370.2,814.1 370.7,814.2 371.2,814.2 371.7,814.3 372.2,814.3 372.7,814.4 373.2,814.5 373.7,814.5 374.2,814.6 374.7,814.6 375.2,814.7 375.7,814.8 376.2,814.8 376.7,814.9 377.2,814.9 377.7,815.0 378.2,815.0 378.7,815.1 379.2,815.1 379.7,815.2 380.2,815.2 380.7,815.3 381.2,815.3 381.7,815.3 382.2,815.4 382.7,815.4 383.2,815.5 383.7,815.5 384.2,815.6 384.7,815.6 385.2,815.6 385.7,815.7 386.2,815.7 386.7,815.8 387.2,815.8 387.7,815.8 388.2,815.9 388.7,815.9 389.2,815.9 389.7,816.0 390.2,816.0 390.7,816.0 391.2,816.1 391.7,816.1 392.2,816.1 392.7,816.1 393.2,816.2 393.7,816.2 394.2,816.2 394.7,816.3 395.2,816.3 395.7,816.3 396.2,816.3 396.7,816.4 397.2,816.4 397.7,816.4 398.2,816.4 398.7,816.5 399.2,816.5 399.7,816.5 400.2,816.5 400.7,816.5 401.2,816.6 401.7,816.6 402.2,816.6 402.7,816.6 403.2,816.6 403.7,816.6 404.2,816.6 404.7,816.7 405.2,816.7 405.7,816.7 406.2,816.7 406.7,816.7 407.2,816.7 407.7,816.7 408.2,816.7 408.7,816.7 409.2,816.7 409.7,816.8 410.2,816.8 410.7,816.8 411.2,816.8 411.7,816.8 412.2,816.8 412.7,816.8 413.2,816.8 413.7,816.8 414.2,816.8 414.7,816.9 415.2,816.9 415.7,816.9 416.2,816.9 416.7,816.9 417.2,816.9 417.7,816.9 418.2,817.0 418.7,817.0 419.2,817.0 419.7,817.0 420.2,817.0 420.7,817.0 421.2,817.0 421.7,817.1 422.2,817.1 422.7,817.1 423.2,817.1 423.7,817.1 424.2,817.1 424.7,817.2 425.2,817.2 425.7,817.2 426.2,817.2 426.7,817.2 427.2,817.2 427.7,817.3 428.2,817.3 428.7,817.3 429.2,817.3 429.7,817.3 430.2,817.3 430.7,817.4 431.2,817.4 431.7,817.4 432.2,817.4 432.7,817.4 433.2,817.4 433.7,817.4 434.2,817.4 434.7,817.4" stroke="#0000ff" stroke-width="2.3" fill="none"/>
<path d="M575.3,779.0 576.8,779.2 578.3,779.4 579.8,778.8 581.3,778.2 582.8,777.0 584.3,777.2 585.8,779.4 587.3,778.7 588.8,778.9 590.3,779.0 591.8,778.7 593.3,778.2 594.8,778.2 596.3,779.1 597.8,778.3 599.3,777.6 600.8,778.4 602.3,778.0 603.8,777.9 605.3,777.7 606.8,778.8 608.3,778.9 609.8,777.5 611.3,777.5 612.8,777.2 614.3,776.8 615.8,777.0 617.3,777.0 618.8,776.4 620.3,776.5 621.8,776.3 623.3,776.3 624.8,775.7 626.3,775.6 627.8,775.8 629.3,776.1 630.8,776.4 632.3,777.4 633.8,777.6 635.3,776.1 636.8,775.4 638.3,774.8 639.8,775.5 641.3,774.2 642.8,773.8 644.3,773.3 645.8,773.8 647.3,773.5 648.8,772.2 650.3,772.3 651.8,772.1 653.3,770.8 654.8,770.4 656.3,770.3 657.8,772.1 659.3,770.8 660.8,770.4 662.3,769.0 663.8,767.5 665.3,767.7 666.8,766.4 668.3,767.6 669.8,769.1 671.3,767.1 672.8,765.4 674.3,763.5 675.8,762.1 677.3,763.0 678.8,764.4 680.3,763.8 681.8,763.8 683.3,762.7 684.8,761.6 686.3,762.6 687.8,760.4 689.3,759.6 690.8,758.4 692.3,758.7 693.8,757.3 695.3,758.4 696.8,757.4 698.3,761.7 699.8,760.6 701.3,757.3 702.8,754.8 704.3,754.2 705.8,754.5 707.3,753.8 708.8,755.3 710.3,753.1 711.8,751.5 713.3,749.6 714.8,747.6 716.3,745.1 717.8,743.7 719.3,742.1 720.8,741.2 722.3,740.7 723.8,740.5 725.3,740.1 726.8,737.5 728.3,737.0 729.8,735.0 731.3,734.9 732.8,733.6 734.3,734.8 735.8,732.7 737.3,733.5 738.8,732.4 740.3,732.0 741.8,731.6 743.3,729.6 744.8,728.9 746.3,725.0 747.8,721.8 749.3,720.4 750.8,718.2 752.3,717.9 753.8,717.0 755.3,715.4 756.8,714.7 758.3,713.5 759.8,712.2 761.3,711.7 762.8,710.3 764.3,708.9 765.8,708.4 767.3,706.7 768.8,706.1 770.3,704.3 771.8,702.9 773.3,698.9 774.8,696.7 776.3,697.8 777.8,700.0 779.3,698.7 780.8,696.6 782.3,694.0 783.8,692.9 785.3,691.0 786.8,689.8 788.3,689.1 789.8,690.5 791.3,691.3 792.8,689.0 794.3,685.7 795.8,682.0 797.3,682.0 798.8,683.2 800.3,683.8 801.8,683.6 803.3,683.0 804.8,682.4 806.3,679.8 807.8,679.3 809.3,677.3 810.8,676.9 812.3,676.1 813.8,673.3 815.3,670.8 816.8,672.3 818.3,671.3 819.8,670.6 821.3,670.3 822.8,669.8 824.3,671.6 825.8,669.0 827.3,666.3 828.8,664.8 830.3,667.4 831.8,669.2 833.3,666.7 834.8,665.8 836.3,668.4 837.8,672.3 839.3,674.8 840.8,673.8 842.3,672.7 843.8,671.5 845.3,672.1 846.8,674.3 848.3,674.0 849.8,678.5 851.3,681.9 852.8,686.3 854.3,688.7 855.8,691.8 857.3,695.6 858.8,697.8 860.3,700.4 861.8,704.0 863.3,708.3 864.8,711.7 866.3,712.9 867.8,714.9 869.3,720.4 870.8,727.0 872.3,731.3 873.8,736.0 875.3,740.9 876.8,742.6 878.3,744.7 879.8,747.4 881.3,749.5 882.8,751.6 884.3,754.0 885.8,758.0 887.3,760.4 888.8,762.2 890.3,763.1 891.8,766.0 893.3,767.9 894.8,771.0 896.3,774.1 897.8,775.8 899.3,773.8 900.8,773.9 902.3,775.8 903.8,777.4 905.3,777.7 906.8,779.5 908.3,780.1 909.8,780.2 911.3,782.4 912.8,785.1 914.3,786.9 915.8,786.8 917.3,788.7 918.8,790.5 920.3,790.4 921.8,792.1 923.3,793.1 924.8,793.4 926.3,793.1 927.8,794.8 929.3,794.9 930.8,795.6 932.3,794.9 933.8,796.1 935.3,796.3 936.8,796.3 938.3,797.1 939.8,796.9 941.3,798.2 942.8,798.4 944.3,798.8 945.8,798.9 947.3,799.1 948.8,799.2 950.3,800.3 951.8,800.3 953.3,800.0 954.8,799.6 956.3,800.9 957.8,800.3 959.3,801.6 960.8,801.4 962.3,801.2 963.8,800.8 965.3,801.4 966.8,801.9 968.3,802.1 969.8,803.1 971.3,803.7 972.8,802.7 974.3,803.7 975.8,802.7 977.3,803.3 978.8,803.9" stroke="#000" stroke-width="2.4" fill="none" stroke-linejoin="round"/>
<path d="M575.3,779.3 575.8,779.3 576.3,779.3 576.8,779.3 577.3,779.3 577.8,779.3 578.3,779.3 578.8,779.2 579.3,779.2 579.8,779.2 580.3,779.2 580.8,779.2 581.3,779.2 581.8,779.2 582.3,779.1 582.8,779.1 583.3,779.1 583.8,779.1 584.3,779.1 584.8,779.1 585.3,779.0 585.8,779.0 586.3,779.0 586.8,779.0 587.3,779.0 587.8,778.9 588.3,778.9 588.8,778.9 589.3,778.9 589.8,778.9 590.3,778.8 590.8,778.8 591.3,778.8 591.8,778.8 592.3,778.8 592.8,778.7 593.3,778.7 593.8,778.7 594.3,778.7 594.8,778.7 595.3,778.6 595.8,778.6 596.3,778.6 596.8,778.6 597.3,778.6 597.8,778.5 598.3,778.5 598.8,778.5 599.3,778.5 599.8,778.5 600.3,778.4 600.8,778.4 601.3,778.4 601.8,778.4 602.3,778.4 602.8,778.3 603.3,778.3 603.8,778.3 604.3,778.3 604.8,778.3 605.3,778.2 605.8,778.2 606.3,778.2 606.8,778.2 607.3,778.1 607.8,778.1 608.3,778.1 608.8,778.0 609.3,778.0 609.8,778.0 610.3,778.0 610.8,777.9 611.3,777.9 611.8,777.8 612.3,777.8 612.8,777.8 613.3,777.7 613.8,777.7 614.3,777.7 614.8,777.6 615.3,777.6 615.8,777.5 616.3,777.5 616.8,777.4 617.3,777.4 617.8,777.4 618.3,777.3 618.8,777.3 619.3,777.2 619.8,777.2 620.3,777.2 620.8,777.1 621.3,777.1 621.8,777.0 622.3,777.0 622.8,776.9 623.3,776.9 623.8,776.8 624.3,776.8 624.8,776.8 625.3,776.7 625.8,776.6 626.2,776.6 626.7,776.5 627.2,776.5 627.7,776.4 628.2,776.4 628.7,776.3 629.2,776.2 629.7,776.2 630.2,776.1 630.7,776.0 631.2,776.0 631.7,775.9 632.2,775.8 632.7,775.8 633.2,775.7 633.7,775.6 634.2,775.5 634.7,775.4 635.2,775.4 635.7,775.3 636.2,775.2 636.7,775.1 637.2,775.0 637.7,775.0 638.2,774.9 638.7,774.8 639.2,774.7 639.7,774.7 640.2,774.6 640.7,774.5 641.2,774.4 641.7,774.4 642.2,774.3 642.7,774.2 643.2,774.1 643.7,774.1 644.2,774.0 644.7,773.9 645.2,773.9 645.7,773.8 646.2,773.7 646.7,773.7 647.2,773.6 647.7,773.5 648.2,773.5 648.7,773.4 649.2,773.3 649.7,773.3 650.2,773.2 650.7,773.1 651.2,773.0 651.7,773.0 652.2,772.9 652.7,772.8 653.2,772.7 653.7,772.6 654.2,772.6 654.7,772.5 655.2,772.4 655.7,772.3 656.2,772.2 656.7,772.1 657.2,772.0 657.7,771.9 658.2,771.8 658.7,771.7 659.2,771.6 659.7,771.4 660.2,771.3 660.7,771.2 661.2,771.1 661.7,771.0 662.2,770.9 662.7,770.7 663.2,770.6 663.7,770.5 664.2,770.4 664.7,770.2 665.3,770.1 665.8,770.0 666.3,769.8 666.8,769.7 667.3,769.6 667.8,769.4 668.3,769.3 668.8,769.2 669.3,769.0 669.8,768.9 670.3,768.7 670.8,768.6 671.3,768.4 671.8,768.3 672.3,768.1 672.8,768.0 673.3,767.8 673.8,767.7 674.3,767.5 674.8,767.3 675.3,767.2 675.8,767.0 676.3,766.8 676.8,766.7 677.3,766.5 677.8,766.3 678.3,766.1 678.8,766.0 679.3,765.8 679.8,765.6 680.3,765.4 680.8,765.2 681.3,765.0 681.8,764.8 682.3,764.6 682.8,764.4 683.3,764.2 683.8,764.0 684.3,763.8 684.8,763.5 685.3,763.3 685.8,763.1 686.3,762.9 686.8,762.7 687.3,762.4 687.8,762.2 688.3,761.9 688.8,761.7 689.3,761.5 689.8,761.2 690.3,761.0 690.8,760.7 691.3,760.5 691.8,760.2 692.3,760.0 692.8,759.7 693.3,759.4 693.8,759.2 694.3,758.9 694.8,758.6 695.3,758.4 695.8,758.1 696.3,757.8 696.8,757.5 697.3,757.3 697.8,757.0 698.3,756.7 698.8,756.4 699.3,756.1 699.8,755.8 700.3,755.5 700.8,755.3 701.3,755.0 701.8,754.7 702.3,754.4 702.8,754.0 703.3,753.7 703.8,753.4 704.3,753.1 704.8,752.8 705.3,752.5 705.8,752.2 706.3,751.9 706.8,751.5 707.3,751.2 707.8,750.9 708.3,750.6 708.8,750.2 709.4,749.9 709.9,749.6 710.4,749.3 710.9,748.9 711.4,748.6 711.9,748.3 712.4,747.9 712.9,747.6 713.4,747.3 713.9,747.0 714.4,746.6 714.9,746.3 715.4,746.0 715.9,745.7 716.4,745.3 716.9,745.0 717.4,744.7 717.9,744.3 718.4,744.0 718.9,743.7 719.4,743.4 719.9,743.0 720.4,742.7 720.9,742.4 721.4,742.0 721.9,741.7 722.4,741.4 722.9,741.0 723.4,740.7 723.9,740.3 724.4,740.0 724.9,739.7 725.4,739.3 726.0,739.0 726.5,738.6 727.0,738.3 727.5,737.9 728.0,737.5 728.5,737.2 729.0,736.8 729.5,736.4 730.0,736.1 730.5,735.7 731.0,735.3 731.5,734.9 731.9,734.5 732.4,734.2 732.9,733.8 733.4,733.4 733.9,733.0 734.4,732.6 734.9,732.2 735.4,731.8 735.9,731.4 736.4,731.1 736.9,730.7 737.4,730.3 737.9,729.9 738.4,729.5 738.9,729.1 739.5,728.7 740.0,728.3 740.5,727.9 741.0,727.6 741.5,727.2 742.0,726.8 742.5,726.4 743.0,726.0 743.5,725.6 744.0,725.3 744.5,724.9 745.0,724.5 745.5,724.1 746.1,723.7 746.6,723.4 747.1,723.0 747.6,722.6 748.1,722.3 748.6,721.9 749.1,721.5 749.5,721.1 750.0,720.8 750.5,720.4 751.0,720.0 751.5,719.7 752.0,719.3 752.5,718.9 753.0,718.6 753.5,718.2 754.0,717.8 754.5,717.5 754.9,717.1 755.4,716.7 755.9,716.3 756.4,716.0 756.9,715.6 757.4,715.2 757.9,714.8 758.3,714.5 758.8,714.1 759.3,713.7 759.8,713.3 760.3,713.0 760.8,712.6 761.2,712.2 761.7,711.8 762.2,711.5 762.7,711.1 763.2,710.7 763.7,710.3 764.2,710.0 764.7,709.6 765.2,709.2 765.7,708.9 766.2,708.5 766.7,708.1 767.2,707.8 767.7,707.4 768.2,707.1 768.7,706.7 769.2,706.3 769.7,706.0 770.2,705.6 770.7,705.3 771.2,704.9 771.8,704.6 772.3,704.2 772.8,703.9 773.3,703.5 773.8,703.2 774.3,702.8 774.8,702.4 775.3,702.1 775.9,701.7 776.4,701.4 776.9,701.0 777.4,700.6 777.9,700.2 778.4,699.9 778.9,699.5 779.4,699.1 779.9,698.7 780.4,698.4 780.9,698.0 781.4,697.6 781.9,697.2 782.5,696.8 783.0,696.4 783.5,696.0 784.0,695.6 784.5,695.2 785.0,694.8 785.5,694.4 786.0,694.0 786.5,693.5 787.0,693.1 787.5,692.7 788.0,692.3 788.5,691.9 789.0,691.4 789.4,691.0 789.9,690.6 790.4,690.1 790.9,689.7 791.4,689.2 791.9,688.8 792.4,688.4 792.9,687.9 793.4,687.5 793.9,687.0 794.4,686.6 794.9,686.2 795.4,685.7 795.9,685.3 796.4,684.9 796.9,684.4 797.4,684.0 797.9,683.6 798.4,683.1 799.0,682.7 799.5,682.3 800.0,681.9 800.5,681.4 801.0,681.0 801.5,680.6 802.1,680.2 802.6,679.8 803.1,679.4 803.6,679.0 804.2,678.6 804.7,678.2 805.2,677.8 805.7,677.4 806.3,677.0 806.8,676.6 807.3,676.2 807.9,675.8 808.4,675.4 809.0,675.0 809.5,674.6 810.0,674.2 810.6,673.8 811.1,673.4 811.6,673.0 812.2,672.7 812.7,672.3 813.3,671.9 813.8,671.6 814.4,671.2 814.9,670.9 815.5,670.6 816.0,670.2 816.5,669.9 817.1,669.6 817.6,669.3 818.2,669.0 818.7,668.8 819.2,668.5 819.8,668.3 820.3,668.0 820.8,667.8 821.4,667.6 821.9,667.4 822.4,667.2 823.0,667.0 823.5,666.9 824.0,666.7 824.5,666.6 825.0,666.5 825.5,666.4 826.0,666.3 826.5,666.2 827.0,666.1 827.5,666.1 828.0,666.1 828.5,666.0 829.0,666.0 829.5,666.0 830.0,666.0 830.4,666.1 830.9,666.1 831.4,666.2 831.9,666.3 832.3,666.4 832.8,666.5 833.2,666.6 833.7,666.8 834.2,666.9 834.6,667.1 835.1,667.3 835.5,667.5 836.0,667.8 836.4,668.0 836.9,668.3 837.3,668.6 837.8,668.9 838.2,669.2 838.7,669.5 839.1,669.9 839.6,670.3 840.0,670.7 840.5,671.1 840.9,671.5 841.4,671.9 841.8,672.4 842.3,672.9 842.7,673.4 843.2,673.9 843.6,674.5 844.1,675.0 844.5,675.6 845.0,676.3 845.5,676.9 846.0,677.5 846.4,678.2 846.9,678.9 847.4,679.6 847.9,680.3 848.3,681.1 848.8,681.9 849.3,682.6 849.8,683.4 850.3,684.2 850.7,685.1 851.2,685.9 851.7,686.7 852.2,687.6 852.7,688.5 853.2,689.3 853.7,690.2 854.2,691.1 854.7,692.0 855.2,692.9 855.7,693.9 856.2,694.8 856.7,695.7 857.2,696.7 857.8,697.6 858.3,698.6 858.8,699.5 859.3,700.5 859.8,701.5 860.3,702.5 860.8,703.5 861.3,704.5 861.8,705.5 862.3,706.5 862.8,707.5 863.3,708.6 863.8,709.6 864.3,710.7 864.8,711.7 865.3,712.8 865.8,713.9 866.2,714.9 866.7,716.0 867.2,717.1 867.7,718.2 868.1,719.3 868.6,720.4 869.1,721.5 869.6,722.6 870.0,723.7 870.5,724.8 871.0,725.8 871.4,726.9 871.9,728.0 872.4,729.1 872.9,730.2 873.4,731.3 873.9,732.3 874.4,733.4 874.9,734.5 875.4,735.5 875.9,736.6 876.4,737.6 876.9,738.6 877.4,739.6 877.9,740.7 878.5,741.7 879.0,742.6 879.5,743.6 880.0,744.6 880.5,745.5 881.0,746.5 881.6,747.4 882.1,748.3 882.6,749.2 883.1,750.1 883.6,751.0 884.1,751.9 884.7,752.8 885.2,753.6 885.7,754.4 886.2,755.3 886.7,756.1 887.2,756.9 887.7,757.7 888.2,758.5 888.7,759.3 889.3,760.1 889.8,760.9 890.3,761.6 890.8,762.4 891.3,763.1 891.8,763.9 892.3,764.6 892.8,765.3 893.3,766.0 893.8,766.7 894.3,767.4 894.8,768.1 895.3,768.8 895.9,769.4 896.4,770.1 896.9,770.7 897.4,771.4 897.9,772.0 898.4,772.6 898.9,773.2 899.4,773.8 899.9,774.4 900.4,774.9 900.9,775.5 901.4,776.0 901.9,776.6 902.4,777.1 902.9,777.6 903.5,778.1 904.0,778.6 904.5,779.1 905.0,779.6 905.5,780.1 906.0,780.6 906.5,781.0 907.0,781.5 907.5,781.9 908.0,782.4 908.4,782.8 908.9,783.2 909.4,783.7 909.9,784.1 910.4,784.5 910.9,784.9 911.4,785.3 911.9,785.7 912.4,786.1 912.9,786.5 913.4,786.9 913.9,787.2 914.4,787.6 914.9,788.0 915.4,788.3 915.9,788.7 916.4,789.0 916.8,789.4 917.3,789.7 917.8,790.0 918.3,790.4 918.8,790.7 919.3,791.0 919.8,791.3 920.3,791.6 920.8,791.9 921.3,792.2 921.8,792.5 922.3,792.7 922.8,793.0 923.3,793.3 923.8,793.6 924.2,793.8 924.7,794.1 925.2,794.3 925.7,794.6 926.2,794.8 926.7,795.0 927.2,795.3 927.7,795.5 928.2,795.7 928.7,795.9 929.2,796.2 929.7,796.4 930.2,796.6 930.7,796.8 931.2,797.0 931.7,797.1 932.2,797.3 932.7,797.5 933.2,797.7 933.7,797.9 934.2,798.0 934.7,798.2 935.2,798.4 935.7,798.5 936.2,798.7 936.7,798.8 937.2,799.0 937.7,799.1 938.2,799.3 938.7,799.4 939.2,799.5 939.7,799.7 940.2,799.8 940.7,799.9 941.2,800.0 941.7,800.1 942.2,800.2 942.7,800.3 943.2,800.4 943.7,800.5 944.2,800.6 944.7,800.7 945.2,800.8 945.7,800.9 946.2,801.0 946.7,801.1 947.2,801.2 947.7,801.2 948.2,801.3 948.7,801.4 949.2,801.5 949.7,801.5 950.2,801.6 950.7,801.7 951.2,801.7 951.7,801.8 952.2,801.8 952.7,801.9 953.2,802.0 953.7,802.0 954.2,802.1 954.7,802.1 955.2,802.2 955.7,802.2 956.2,802.3 956.8,802.3 957.3,802.4 957.8,802.4 958.3,802.4 958.8,802.5 959.3,802.5 959.8,802.6 960.3,802.6 960.8,802.7 961.3,802.7 961.8,802.8 962.3,802.8 962.8,802.8 963.3,802.9 963.8,802.9 964.3,803.0 964.8,803.0 965.3,803.0 965.8,803.1 966.3,803.1 966.8,803.1 967.3,803.1 967.8,803.2 968.3,803.2 968.8,803.2 969.3,803.2 969.8,803.3 970.3,803.3 970.8,803.3 971.3,803.3 971.8,803.4 972.3,803.4 972.8,803.4 973.3,803.4 973.8,803.5 974.3,803.5 974.8,803.5 975.3,803.5 975.8,803.5 976.3,803.6 976.8,803.6 977.3,803.6 977.8,803.6 978.3,803.7 978.8,803.7 979.3,803.7 979.8,803.7" stroke="#ff0000" stroke-width="2.3" fill="none"/>
<path d="M575.3,782.0 575.8,782.0 576.3,782.0 576.8,782.0 577.3,782.0 577.8,782.0 578.3,782.0 578.8,782.0 579.3,782.0 579.8,782.0 580.3,782.0 580.8,782.0 581.3,782.0 581.8,782.0 582.3,782.0 582.8,782.0 583.3,782.0 583.8,782.0 584.3,782.0 584.8,782.0 585.3,782.0 585.8,782.0 586.3,782.0 586.8,782.0 587.3,782.0 587.8,782.0 588.3,782.0 588.8,781.9 589.3,781.9 589.8,781.9 590.3,781.9 590.8,781.9 591.3,781.9 591.8,781.9 592.3,781.9 592.8,781.9 593.3,781.9 593.8,781.9 594.3,781.8 594.8,781.8 595.3,781.8 595.8,781.8 596.3,781.8 596.8,781.8 597.3,781.8 597.8,781.8 598.3,781.8 598.8,781.8 599.3,781.8 599.8,781.8 600.3,781.8 600.8,781.8 601.3,781.8 601.8,781.8 602.3,781.8 602.8,781.8 603.3,781.8 603.8,781.8 604.3,781.8 604.8,781.8 605.3,781.8 605.8,781.8 606.3,781.8 606.8,781.8 607.3,781.8 607.8,781.8 608.3,781.8 608.8,781.8 609.3,781.8 609.8,781.8 610.3,781.8 610.8,781.8 611.3,781.8 611.8,781.9 612.3,781.9 612.8,781.9 613.3,781.9 613.8,781.9 614.3,781.9 614.8,781.9 615.3,781.9 615.8,781.9 616.3,781.9 616.8,781.9 617.3,781.9 617.8,781.9 618.3,781.9 618.8,781.9 619.3,781.9 619.8,781.9 620.3,781.9 620.8,781.9 621.3,781.9 621.8,781.9 622.3,781.9 622.8,781.9 623.3,781.9 623.8,781.9 624.3,781.9 624.8,781.9 625.3,781.9 625.8,781.9 626.3,781.9 626.8,781.9 627.3,781.9 627.8,782.0 628.3,782.0 628.8,782.0 629.3,782.0 629.8,782.0 630.3,782.0 630.8,782.0 631.3,782.0 631.8,782.0 632.3,782.0 632.8,782.0 633.3,782.0 633.8,782.0 634.3,782.0 634.8,782.0 635.3,782.0 635.8,782.0 636.3,782.0 636.8,782.0 637.3,782.0 637.8,782.0 638.3,782.0 638.8,782.0 639.3,782.0 639.8,782.0 640.3,782.0 640.8,782.0 641.3,782.0 641.8,782.0 642.3,782.0 642.8,782.0 643.3,782.0 643.8,782.0 644.3,782.0 644.8,782.0 645.3,782.0 645.8,782.0 646.3,782.0 646.8,782.0 647.3,782.0 647.8,782.0 648.3,782.0 648.8,782.0 649.3,782.0 649.8,782.0 650.3,782.0 650.8,782.0 651.3,782.0 651.8,782.0 652.3,782.0 652.8,782.0 653.3,782.0 653.8,782.0 654.3,782.1 654.8,782.1 655.3,782.1 655.8,782.1 656.3,782.1 656.8,782.1 657.3,782.1 657.8,782.1 658.3,782.1 658.8,782.1 659.3,782.1 659.8,782.1 660.3,782.1 660.8,782.1 661.3,782.1 661.8,782.1 662.3,782.1 662.8,782.2 663.3,782.2 663.8,782.2 664.3,782.2 664.8,782.2 665.3,782.2 665.8,782.2 666.3,782.2 666.8,782.2 667.3,782.2 667.8,782.2 668.3,782.3 668.8,782.3 669.3,782.3 669.8,782.3 670.3,782.3 670.8,782.3 671.3,782.3 671.8,782.3 672.3,782.4 672.8,782.4 673.3,782.4 673.8,782.4 674.3,782.4 674.8,782.4 675.3,782.4 675.8,782.5 676.3,782.5 676.8,782.5 677.3,782.5 677.8,782.5 678.3,782.5 678.8,782.6 679.3,782.6 679.8,782.6 680.3,782.6 680.8,782.6 681.3,782.6 681.8,782.6 682.3,782.6 682.8,782.6 683.3,782.6 683.8,782.7 684.3,782.7 684.8,782.7 685.3,782.7 685.8,782.7 686.3,782.7 686.8,782.7 687.3,782.7 687.8,782.7 688.3,782.7 688.8,782.7 689.3,782.7 689.8,782.7 690.3,782.8 690.8,782.8 691.3,782.8 691.8,782.8 692.3,782.8 692.8,782.8 693.3,782.8 693.8,782.8 694.3,782.9 694.8,782.9 695.3,782.9 695.8,782.9 696.3,782.9 696.8,782.9 697.3,783.0 697.8,783.0 698.3,783.0 698.8,783.0 699.3,783.0 699.8,783.0 700.3,783.1 700.8,783.1 701.3,783.1 701.8,783.1 702.3,783.1 702.8,783.2 703.3,783.2 703.8,783.2 704.3,783.2 704.8,783.3 705.3,783.3 705.8,783.3 706.3,783.3 706.8,783.3 707.3,783.4 707.8,783.4 708.3,783.4 708.8,783.4 709.3,783.5 709.8,783.5 710.3,783.5 710.8,783.5 711.3,783.6 711.8,783.6 712.3,783.6 712.8,783.6 713.3,783.7 713.8,783.7 714.3,783.7 714.8,783.7 715.3,783.8 715.8,783.8 716.3,783.8 716.8,783.8 717.3,783.8 717.8,783.9 718.3,783.9 718.8,783.9 719.3,783.9 719.8,784.0 720.3,784.0 720.8,784.0 721.3,784.1 721.8,784.1 722.3,784.1 722.8,784.1 723.3,784.2 723.8,784.2 724.3,784.2 724.8,784.3 725.3,784.3 725.8,784.3 726.3,784.3 726.8,784.4 727.3,784.4 727.8,784.4 728.3,784.5 728.8,784.5 729.3,784.5 729.8,784.6 730.3,784.6 730.8,784.7 731.3,784.7 731.8,784.7 732.3,784.8 732.8,784.8 733.3,784.8 733.8,784.9 734.3,784.9 734.8,785.0 735.3,785.0 735.8,785.0 736.3,785.1 736.8,785.1 737.3,785.2 737.8,785.2 738.3,785.2 738.8,785.3 739.3,785.3 739.8,785.4 740.3,785.4 740.8,785.5 741.3,785.5 741.8,785.5 742.3,785.6 742.8,785.6 743.3,785.7 743.8,785.7 744.3,785.7 744.8,785.8 745.3,785.8 745.8,785.9 746.3,785.9 746.8,785.9 747.3,786.0 747.8,786.0 748.3,786.0 748.8,786.1 749.3,786.1 749.8,786.2 750.3,786.2 750.8,786.2 751.3,786.3 751.8,786.3 752.3,786.4 752.8,786.4 753.3,786.4 753.8,786.5 754.3,786.5 754.8,786.6 755.3,786.6 755.8,786.7 756.3,786.7 756.8,786.8 757.3,786.8 757.8,786.9 758.3,786.9 758.8,787.0 759.3,787.0 759.8,787.1 760.3,787.1 760.8,787.2 761.3,787.2 761.8,787.3 762.3,787.3 762.8,787.4 763.3,787.4 763.8,787.5 764.3,787.5 764.8,787.6 765.3,787.6 765.8,787.7 766.3,787.7 766.8,787.8 767.3,787.9 767.8,787.9 768.3,788.0 768.8,788.0 769.3,788.1 769.8,788.1 770.3,788.2 770.8,788.3 771.3,788.3 771.8,788.4 772.3,788.4 772.8,788.5 773.3,788.5 773.8,788.6 774.3,788.6 774.8,788.7 775.3,788.7 775.8,788.8 776.3,788.8 776.8,788.9 777.3,788.9 777.8,789.0 778.3,789.0 778.8,789.1 779.3,789.2 779.8,789.2 780.3,789.3 780.8,789.3 781.4,789.4 781.9,789.5 782.4,789.5 782.9,789.6 783.4,789.6 783.9,789.7 784.4,789.8 784.9,789.8 785.4,789.9 785.9,790.0 786.4,790.0 786.9,790.1 787.4,790.2 787.9,790.2 788.4,790.3 788.9,790.4 789.4,790.4 789.9,790.5 790.4,790.6 790.9,790.7 791.4,790.7 791.9,790.8 792.4,790.9 792.9,791.0 793.4,791.0 793.9,791.1 794.4,791.2 794.9,791.3 795.4,791.3 795.9,791.4 796.3,791.5 796.8,791.6 797.3,791.7 797.8,791.8 798.3,791.9 798.8,791.9 799.3,792.0 799.8,792.1 800.3,792.2 800.8,792.3 801.3,792.4 801.8,792.5 802.3,792.6 802.8,792.7 803.3,792.8 803.8,792.9 804.3,792.9 804.8,793.0 805.3,793.1 805.8,793.2 806.3,793.3 806.8,793.4 807.3,793.5 807.8,793.6 808.3,793.7 808.8,793.8 809.3,793.8 809.8,793.9 810.3,794.0 810.8,794.1 811.3,794.2 811.8,794.3 812.3,794.4 812.8,794.4 813.3,794.5 813.8,794.6 814.3,794.7 814.8,794.8 815.3,794.9 815.8,795.0 816.3,795.0 816.8,795.1 817.3,795.2 817.8,795.3 818.3,795.4 818.8,795.4 819.3,795.5 819.8,795.6 820.3,795.7 820.8,795.8 821.3,795.9 821.8,795.9 822.3,796.0 822.8,796.1 823.3,796.2 823.8,796.3 824.3,796.4 824.8,796.4 825.3,796.5 825.8,796.6 826.3,796.7 826.8,796.8 827.3,796.9 827.8,796.9 828.3,797.0 828.8,797.1 829.3,797.2 829.8,797.3 830.3,797.4 830.8,797.5 831.3,797.6 831.8,797.6 832.3,797.7 832.8,797.8 833.3,797.9 833.8,798.0 834.3,798.1 834.8,798.2 835.3,798.3 835.8,798.4 836.3,798.5 836.8,798.5 837.3,798.6 837.8,798.7 838.3,798.8 838.8,798.9 839.3,799.0 839.8,799.1 840.3,799.2 840.8,799.3 841.3,799.4 841.8,799.5 842.3,799.5 842.8,799.6 843.3,799.7 843.8,799.8 844.3,799.9 844.8,800.0 845.3,800.1 845.8,800.2 846.3,800.3 846.8,800.4 847.3,800.5 847.8,800.6 848.3,800.7 848.8,800.8 849.3,800.9 849.8,800.9 850.3,801.0 850.8,801.1 851.3,801.2 851.8,801.3 852.3,801.4 852.8,801.5 853.3,801.6 853.8,801.6 854.3,801.7 854.8,801.8 855.3,801.9 855.8,802.0 856.3,802.0 856.8,802.1 857.3,802.2 857.8,802.3 858.3,802.3 858.8,802.4 859.3,802.5 859.8,802.5 860.3,802.6 860.8,802.7 861.3,802.8 861.8,802.8 862.3,802.9 862.8,803.0 863.3,803.0 863.8,803.1 864.3,803.1 864.8,803.2 865.3,803.3 865.8,803.3 866.3,803.4 866.8,803.5 867.3,803.5 867.8,803.6 868.3,803.6 868.8,803.7 869.3,803.7 869.8,803.8 870.3,803.8 870.8,803.9 871.3,804.0 871.8,804.0 872.3,804.1 872.8,804.1 873.3,804.2 873.8,804.2 874.3,804.3 874.8,804.3 875.3,804.4 875.8,804.4 876.3,804.4 876.8,804.5 877.3,804.5 877.8,804.6 878.3,804.6 878.8,804.6 879.3,804.7 879.8,804.7 880.3,804.8 880.8,804.8 881.3,804.8 881.8,804.9 882.3,804.9 882.8,804.9 883.3,805.0 883.8,805.0 884.3,805.0 884.8,805.0 885.3,805.1 885.8,805.1 886.3,805.1 886.8,805.2 887.3,805.2 887.8,805.2 888.3,805.2 888.8,805.3 889.3,805.3 889.8,805.3 890.3,805.4 890.8,805.4 891.3,805.4 891.8,805.4 892.3,805.5 892.8,805.5 893.3,805.5 893.8,805.5 894.3,805.6 894.8,805.6 895.3,805.6 895.8,805.6 896.3,805.7 896.8,805.7 897.3,805.7 897.8,805.7 898.3,805.8 898.8,805.8 899.3,805.8 899.8,805.8 900.3,805.9 900.8,805.9 901.3,805.9 901.8,805.9 902.3,806.0 902.8,806.0 903.3,806.0 903.8,806.0 904.3,806.0 904.8,806.1 905.3,806.1 905.8,806.1 906.3,806.1 906.8,806.2 907.3,806.2 907.8,806.2 908.3,806.2 908.8,806.2 909.3,806.3 909.8,806.3 910.3,806.3 910.8,806.3 911.3,806.3 911.8,806.4 912.3,806.4 912.8,806.4 913.3,806.4 913.8,806.4 914.3,806.4 914.8,806.5 915.3,806.5 915.8,806.5 916.3,806.5 916.8,806.5 917.3,806.5 917.8,806.5 918.3,806.5 918.8,806.6 919.3,806.6 919.8,806.6 920.3,806.6 920.8,806.6 921.3,806.6 921.8,806.6 922.3,806.6 922.8,806.6 923.3,806.6 923.8,806.6 924.3,806.6 924.8,806.6 925.3,806.6 925.8,806.6 926.3,806.6 926.8,806.6 927.3,806.6 927.8,806.6 928.3,806.6 928.8,806.6 929.3,806.6 929.8,806.7 930.3,806.7 930.8,806.7 931.3,806.7 931.8,806.7 932.3,806.7 932.8,806.7 933.3,806.7 933.8,806.7 934.3,806.7 934.8,806.7 935.3,806.7 935.8,806.7 936.3,806.7 936.8,806.7 937.3,806.7 937.8,806.7 938.3,806.7 938.8,806.7 939.3,806.7 939.8,806.8 940.3,806.8 940.8,806.8 941.3,806.8 941.8,806.8 942.3,806.8 942.8,806.8 943.3,806.8 943.8,806.8 944.3,806.8 944.8,806.8 945.3,806.8 945.8,806.8 946.3,806.8 946.8,806.8 947.3,806.8 947.8,806.9 948.3,806.9 948.8,806.9 949.3,806.9 949.8,806.9 950.3,806.9 950.8,806.9 951.3,806.9 951.8,806.9 952.3,806.9 952.8,806.9 953.3,807.0 953.8,807.0 954.3,807.0 954.8,807.0 955.3,807.0 955.8,807.0 956.3,807.0 956.8,807.0 957.3,807.0 957.8,807.0 958.3,807.0 958.8,807.1 959.3,807.1 959.8,807.1 960.3,807.1 960.8,807.1 961.3,807.1 961.8,807.1 962.3,807.1 962.8,807.1 963.3,807.1 963.8,807.1 964.3,807.1 964.8,807.1 965.3,807.1 965.8,807.1 966.3,807.1 966.8,807.1 967.3,807.1 967.8,807.1 968.3,807.1 968.8,807.1 969.3,807.1 969.8,807.2 970.3,807.2 970.8,807.2 971.3,807.2 971.8,807.2 972.3,807.2 972.8,807.2 973.3,807.2 973.8,807.2 974.3,807.2 974.8,807.2 975.3,807.2 975.8,807.2 976.3,807.2 976.8,807.2 977.3,807.2 977.8,807.2 978.3,807.2 978.8,807.2 979.3,807.2 979.8,807.2" stroke="#808000" stroke-width="2.2" fill="none"/>
<path d="M575.3,781.3 575.8,781.3 576.3,781.3 576.8,781.3 577.3,781.3 577.8,781.3 578.3,781.3 578.8,781.3 579.3,781.3 579.8,781.3 580.3,781.3 580.8,781.3 581.3,781.3 581.8,781.3 582.3,781.3 582.8,781.3 583.3,781.3 583.8,781.3 584.3,781.3 584.8,781.3 585.3,781.3 585.8,781.3 586.3,781.3 586.8,781.3 587.3,781.3 587.8,781.3 588.3,781.3 588.8,781.2 589.3,781.2 589.8,781.2 590.3,781.2 590.8,781.2 591.3,781.2 591.8,781.2 592.3,781.2 592.8,781.2 593.3,781.2 593.8,781.2 594.3,781.2 594.8,781.2 595.3,781.1 595.8,781.1 596.3,781.1 596.8,781.1 597.3,781.1 597.8,781.1 598.3,781.1 598.8,781.1 599.3,781.1 599.8,781.1 600.3,781.1 600.8,781.1 601.3,781.1 601.8,781.1 602.3,781.1 602.8,781.1 603.3,781.1 603.8,781.1 604.3,781.1 604.8,781.1 605.3,781.1 605.8,781.1 606.3,781.1 606.8,781.1 607.3,781.1 607.8,781.1 608.3,781.1 608.8,781.1 609.3,781.1 609.8,781.1 610.3,781.1 610.8,781.1 611.3,781.1 611.8,781.1 612.3,781.1 612.8,781.1 613.3,781.1 613.8,781.1 614.3,781.1 614.8,781.1 615.3,781.1 615.8,781.1 616.3,781.1 616.8,781.1 617.3,781.1 617.8,781.1 618.3,781.1 618.8,781.1 619.3,781.1 619.8,781.1 620.3,781.1 620.8,781.1 621.3,781.1 621.8,781.1 622.3,781.1 622.8,781.1 623.3,781.1 623.8,781.1 624.3,781.1 624.8,781.1 625.3,781.1 625.8,781.1 626.3,781.1 626.8,781.1 627.3,781.1 627.8,781.1 628.3,781.1 628.8,781.1 629.3,781.1 629.8,781.1 630.3,781.1 630.8,781.1 631.3,781.1 631.8,781.1 632.3,781.1 632.8,781.1 633.3,781.1 633.8,781.1 634.3,781.1 634.8,781.1 635.3,781.1 635.8,781.1 636.3,781.1 636.8,781.1 637.3,781.1 637.8,781.1 638.3,781.1 638.8,781.1 639.3,781.1 639.8,781.1 640.3,781.1 640.8,781.1 641.3,781.1 641.8,781.1 642.3,781.1 642.8,781.1 643.3,781.1 643.8,781.1 644.3,781.1 644.8,781.1 645.3,781.1 645.8,781.1 646.3,781.1 646.8,781.1 647.3,781.1 647.8,781.1 648.3,781.1 648.8,781.1 649.3,781.1 649.8,781.1 650.3,781.1 650.8,781.1 651.3,781.1 651.8,781.1 652.3,781.1 652.8,781.1 653.3,781.1 653.8,781.1 654.3,781.1 654.8,781.1 655.3,781.1 655.8,781.1 656.3,781.1 656.8,781.1 657.3,781.1 657.8,781.1 658.3,781.1 658.8,781.1 659.3,781.1 659.8,781.1 660.3,781.1 660.8,781.1 661.3,781.1 661.8,781.1 662.3,781.1 662.8,781.1 663.3,781.1 663.8,781.1 664.3,781.1 664.8,781.1 665.3,781.1 665.8,781.1 666.3,781.1 666.8,781.1 667.3,781.1 667.8,781.1 668.3,781.1 668.8,781.1 669.3,781.1 669.8,781.1 670.3,781.1 670.8,781.1 671.3,781.1 671.8,781.1 672.3,781.1 672.8,781.1 673.3,781.1 673.8,781.1 674.3,781.1 674.8,781.1 675.3,781.1 675.8,781.1 676.3,781.1 676.8,781.1 677.3,781.1 677.8,781.1 678.3,781.1 678.8,781.1 679.3,781.1 679.8,781.1 680.3,781.1 680.8,781.1 681.3,781.1 681.8,781.1 682.3,781.1 682.8,781.1 683.3,781.1 683.8,781.1 684.3,781.1 684.8,781.1 685.3,781.1 685.8,781.0 686.3,781.0 686.8,781.0 687.3,781.0 687.8,781.0 688.3,781.0 688.8,781.0 689.3,781.0 689.8,781.0 690.3,781.0 690.8,781.0 691.3,781.0 691.8,781.0 692.3,781.0 692.8,781.0 693.3,781.0 693.8,781.0 694.3,781.0 694.8,781.0 695.3,781.0 695.8,781.0 696.3,781.0 696.8,781.0 697.3,781.0 697.8,781.0 698.3,781.0 698.8,781.1 699.3,781.1 699.8,781.1 700.3,781.1 700.8,781.1 701.3,781.1 701.8,781.1 702.3,781.1 702.8,781.1 703.3,781.1 703.8,781.1 704.3,781.1 704.8,781.1 705.3,781.1 705.8,781.1 706.3,781.2 706.8,781.2 707.3,781.2 707.8,781.2 708.3,781.2 708.8,781.2 709.3,781.2 709.8,781.2 710.3,781.2 710.8,781.3 711.3,781.3 711.8,781.3 712.3,781.3 712.8,781.3 713.3,781.4 713.8,781.4 714.3,781.4 714.8,781.4 715.3,781.4 715.8,781.5 716.3,781.5 716.8,781.5 717.3,781.5 717.8,781.6 718.3,781.6 718.8,781.6 719.3,781.6 719.8,781.6 720.3,781.6 720.8,781.7 721.3,781.7 721.8,781.7 722.3,781.7 722.8,781.7 723.3,781.7 723.8,781.7 724.3,781.7 724.8,781.7 725.3,781.7 725.8,781.7 726.3,781.7 726.8,781.7 727.3,781.7 727.8,781.7 728.3,781.7 728.8,781.7 729.3,781.7 729.8,781.6 730.3,781.6 730.8,781.6 731.3,781.6 731.8,781.6 732.3,781.6 732.8,781.5 733.3,781.5 733.8,781.5 734.3,781.4 734.8,781.4 735.3,781.4 735.8,781.4 736.3,781.3 736.8,781.3 737.3,781.2 737.8,781.2 738.3,781.2 738.8,781.1 739.3,781.1 739.8,781.0 740.3,781.0 740.8,780.9 741.3,780.9 741.8,780.8 742.3,780.7 742.8,780.7 743.3,780.6 743.8,780.6 744.3,780.5 744.8,780.5 745.3,780.4 745.8,780.3 746.3,780.3 746.8,780.2 747.3,780.1 747.8,780.1 748.3,780.0 748.8,779.9 749.3,779.9 749.8,779.8 750.3,779.7 750.8,779.6 751.3,779.6 751.8,779.5 752.3,779.4 752.8,779.3 753.3,779.2 753.8,779.1 754.3,779.0 754.8,778.9 755.3,778.8 755.8,778.7 756.3,778.6 756.8,778.5 757.3,778.4 757.8,778.2 758.3,778.1 758.8,778.0 759.3,777.8 759.8,777.7 760.3,777.5 760.8,777.4 761.3,777.2 761.8,777.1 762.3,776.9 762.8,776.7 763.3,776.5 763.8,776.3 764.3,776.1 764.8,775.9 765.3,775.7 765.8,775.5 766.3,775.3 766.8,775.1 767.3,774.9 767.8,774.6 768.3,774.4 768.8,774.1 769.3,773.9 769.8,773.6 770.3,773.4 770.8,773.1 771.3,772.8 771.8,772.5 772.3,772.2 772.8,771.9 773.3,771.6 773.8,771.3 774.3,771.0 774.8,770.7 775.3,770.3 775.8,770.0 776.3,769.6 776.8,769.3 777.3,768.9 777.7,768.5 778.2,768.2 778.7,767.8 779.2,767.4 779.7,767.0 780.2,766.6 780.7,766.2 781.2,765.8 781.7,765.3 782.2,764.9 782.7,764.5 783.2,764.0 783.7,763.6 784.2,763.1 784.7,762.7 785.2,762.2 785.7,761.7 786.2,761.3 786.7,760.8 787.2,760.3 787.7,759.8 788.2,759.3 788.7,758.8 789.2,758.3 789.7,757.7 790.2,757.2 790.7,756.7 791.2,756.1 791.7,755.6 792.3,755.0 792.8,754.5 793.3,753.9 793.8,753.4 794.3,752.8 794.8,752.2 795.3,751.6 795.8,751.0 796.3,750.4 796.8,749.9 797.3,749.3 797.8,748.7 798.4,748.1 798.9,747.4 799.4,746.8 799.9,746.2 800.4,745.6 800.9,745.0 801.4,744.3 801.9,743.7 802.4,743.1 802.9,742.5 803.5,741.8 804.0,741.2 804.5,740.5 805.0,739.9 805.5,739.3 806.0,738.6 806.5,738.0 807.0,737.3 807.5,736.7 807.9,736.0 808.4,735.3 808.9,734.7 809.4,734.0 809.9,733.4 810.3,732.7 810.8,732.1 811.3,731.4 811.7,730.8 812.2,730.1 812.7,729.5 813.2,728.8 813.6,728.2 814.1,727.5 814.6,726.9 815.1,726.3 815.5,725.7 816.0,725.1 816.5,724.5 817.0,723.9 817.5,723.3 818.0,722.8 818.4,722.2 818.9,721.6 819.4,721.1 819.9,720.6 820.4,720.0 820.9,719.5 821.4,719.0 821.9,718.5 822.4,718.1 822.9,717.6 823.4,717.2 823.9,716.7 824.4,716.3 824.9,715.9 825.4,715.5 826.0,715.1 826.5,714.7 827.0,714.4 827.5,714.0 828.0,713.7 828.5,713.4 829.0,713.1 829.5,712.8 830.0,712.6 830.5,712.3 831.0,712.1 831.5,711.9 832.0,711.7 832.5,711.5 833.0,711.3 833.5,711.1 834.0,711.0 834.5,710.9 835.0,710.8 835.5,710.7 836.0,710.6 836.5,710.6 837.0,710.5 837.5,710.5 838.0,710.5 838.5,710.5 839.0,710.6 839.5,710.6 840.0,710.7 840.5,710.8 841.0,710.9 841.5,711.0 842.0,711.2 842.5,711.4 843.0,711.6 843.5,711.8 844.0,712.0 844.5,712.3 845.0,712.6 845.5,712.9 846.0,713.2 846.5,713.5 847.0,713.9 847.5,714.3 848.0,714.7 848.5,715.1 849.0,715.5 849.5,716.0 850.0,716.4 850.5,716.9 851.1,717.4 851.6,717.9 852.1,718.4 852.6,719.0 853.1,719.5 853.6,720.1 854.1,720.7 854.6,721.3 855.2,721.9 855.7,722.5 856.2,723.1 856.7,723.8 857.3,724.4 857.8,725.1 858.3,725.8 858.8,726.4 859.4,727.1 859.9,727.8 860.4,728.5 860.9,729.2 861.4,730.0 862.0,730.7 862.5,731.4 863.0,732.2 863.5,732.9 864.0,733.7 864.5,734.5 865.0,735.2 865.5,736.0 866.0,736.8 866.5,737.6 867.0,738.4 867.5,739.2 868.0,740.0 868.5,740.8 869.0,741.6 869.5,742.4 870.0,743.2 870.5,744.0 870.9,744.8 871.4,745.6 871.9,746.4 872.4,747.2 872.9,748.0 873.3,748.8 873.8,749.6 874.3,750.4 874.8,751.2 875.2,751.9 875.7,752.7 876.2,753.5 876.7,754.3 877.1,755.1 877.6,755.9 878.1,756.6 878.6,757.4 879.1,758.2 879.5,758.9 880.0,759.7 880.5,760.4 881.0,761.1 881.5,761.9 882.0,762.6 882.5,763.3 883.0,764.0 883.5,764.7 884.0,765.4 884.5,766.1 885.0,766.8 885.5,767.4 886.0,768.1 886.5,768.8 887.0,769.4 887.5,770.1 888.0,770.7 888.5,771.3 889.0,771.9 889.6,772.6 890.1,773.2 890.6,773.8 891.1,774.4 891.6,774.9 892.1,775.5 892.6,776.1 893.1,776.7 893.6,777.2 894.1,777.8 894.6,778.3 895.1,778.8 895.6,779.4 896.1,779.9 896.6,780.4 897.1,780.9 897.6,781.4 898.1,781.9 898.7,782.4 899.2,782.8 899.7,783.3 900.2,783.7 900.7,784.2 901.2,784.6 901.7,785.0 902.2,785.4 902.8,785.9 903.3,786.3 903.8,786.6 904.3,787.0 904.8,787.4 905.3,787.8 905.9,788.1 906.4,788.5 906.9,788.8 907.4,789.2 907.9,789.5 908.4,789.8 908.9,790.2 909.4,790.5 909.9,790.8 910.5,791.1 911.0,791.4 911.5,791.7 912.0,792.0 912.5,792.3 913.0,792.6 913.5,792.9 914.0,793.1 914.5,793.4 915.0,793.7 915.5,793.9 916.0,794.2 916.5,794.4 916.9,794.7 917.4,794.9 917.9,795.2 918.4,795.4 918.9,795.6 919.4,795.8 919.9,796.1 920.4,796.3 920.9,796.5 921.4,796.7 921.9,796.9 922.4,797.1 922.9,797.3 923.4,797.5 923.9,797.7 924.4,797.9 924.9,798.0 925.4,798.2 925.9,798.4 926.4,798.6 926.9,798.7 927.4,798.9 927.8,799.1 928.3,799.2 928.8,799.4 929.3,799.5 929.8,799.7 930.3,799.8 930.8,799.9 931.3,800.1 931.8,800.2 932.3,800.3 932.8,800.5 933.3,800.6 933.8,800.7 934.3,800.8 934.8,800.9 935.3,801.0 935.8,801.1 936.3,801.3 936.8,801.4 937.3,801.5 937.8,801.6 938.3,801.6 938.8,801.7 939.3,801.8 939.8,801.9 940.3,802.0 940.8,802.1 941.3,802.2 941.8,802.2 942.3,802.3 942.8,802.4 943.3,802.5 943.8,802.5 944.3,802.6 944.8,802.7 945.3,802.7 945.8,802.8 946.3,802.8 946.8,802.9 947.3,802.9 947.8,803.0 948.3,803.0 948.8,803.1 949.3,803.1 949.8,803.2 950.3,803.2 950.8,803.3 951.3,803.3 951.8,803.4 952.3,803.4 952.8,803.4 953.3,803.5 953.8,803.5 954.3,803.6 954.8,803.6 955.3,803.6 955.8,803.7 956.3,803.7 956.8,803.7 957.3,803.8 957.8,803.8 958.3,803.9 958.8,803.9 959.3,803.9 959.8,803.9 960.3,804.0 960.8,804.0 961.3,804.0 961.8,804.1 962.3,804.1 962.8,804.1 963.3,804.1 963.8,804.2 964.3,804.2 964.8,804.2 965.3,804.2 965.8,804.2 966.3,804.2 966.8,804.3 967.3,804.3 967.8,804.3 968.3,804.3 968.8,804.3 969.3,804.3 969.8,804.3 970.3,804.3 970.8,804.3 971.3,804.4 971.8,804.4 972.3,804.4 972.8,804.4 973.3,804.4 973.8,804.4 974.3,804.4 974.8,804.5 975.3,804.5 975.8,804.5 976.3,804.5 976.8,804.5 977.3,804.5 977.8,804.5 978.3,804.6 978.8,804.6 979.3,804.6 979.8,804.6" stroke="#ff8000" stroke-width="2.3" fill="none"/>
<path d="M575.3,780.2 575.8,780.2 576.3,780.2 576.8,780.2 577.3,780.1 577.8,780.1 578.3,780.1 578.8,780.1 579.3,780.1 579.8,780.1 580.3,780.1 580.8,780.1 581.3,780.1 581.8,780.0 582.3,780.0 582.8,780.0 583.3,780.0 583.8,780.0 584.3,780.0 584.8,780.0 585.3,780.0 585.8,779.9 586.3,779.9 586.8,779.9 587.3,779.9 587.8,779.9 588.3,779.9 588.8,779.9 589.3,779.9 589.8,779.9 590.3,779.9 590.8,779.8 591.3,779.8 591.8,779.8 592.3,779.8 592.8,779.8 593.3,779.8 593.8,779.8 594.3,779.8 594.8,779.8 595.3,779.8 595.8,779.7 596.3,779.7 596.8,779.7 597.3,779.7 597.8,779.7 598.3,779.7 598.8,779.7 599.3,779.6 599.8,779.6 600.3,779.6 600.8,779.6 601.3,779.6 601.8,779.5 602.3,779.5 602.8,779.5 603.3,779.5 603.8,779.5 604.3,779.4 604.8,779.4 605.3,779.4 605.8,779.4 606.3,779.3 606.8,779.3 607.3,779.3 607.8,779.2 608.3,779.2 608.8,779.2 609.3,779.1 609.8,779.1 610.3,779.1 610.8,779.0 611.3,779.0 611.8,779.0 612.3,779.0 612.8,778.9 613.3,778.9 613.8,778.9 614.3,778.8 614.8,778.8 615.3,778.8 615.8,778.8 616.3,778.7 616.8,778.7 617.3,778.7 617.8,778.6 618.3,778.6 618.8,778.6 619.3,778.6 619.8,778.5 620.3,778.5 620.8,778.5 621.3,778.4 621.8,778.4 622.3,778.4 622.8,778.3 623.3,778.3 623.8,778.2 624.3,778.2 624.8,778.1 625.3,778.1 625.8,778.1 626.3,778.0 626.8,778.0 627.3,777.9 627.8,777.9 628.3,777.8 628.8,777.7 629.3,777.7 629.8,777.6 630.3,777.6 630.8,777.5 631.3,777.4 631.8,777.4 632.3,777.3 632.8,777.2 633.3,777.2 633.8,777.1 634.3,777.0 634.8,776.9 635.3,776.9 635.8,776.8 636.3,776.7 636.8,776.6 637.3,776.6 637.8,776.5 638.3,776.4 638.8,776.3 639.3,776.3 639.8,776.2 640.3,776.1 640.8,776.0 641.3,776.0 641.8,775.9 642.3,775.8 642.8,775.8 643.3,775.7 643.8,775.6 644.3,775.5 644.8,775.5 645.3,775.4 645.8,775.3 646.3,775.3 646.8,775.2 647.3,775.1 647.8,775.0 648.3,775.0 648.8,774.9 649.3,774.8 649.8,774.7 650.3,774.7 650.8,774.6 651.3,774.5 651.8,774.4 652.3,774.3 652.8,774.3 653.3,774.2 653.8,774.1 654.3,774.0 654.8,773.9 655.3,773.8 655.8,773.7 656.3,773.6 656.8,773.5 657.3,773.4 657.8,773.3 658.3,773.2 658.8,773.1 659.3,773.0 659.8,772.9 660.3,772.8 660.8,772.7 661.3,772.5 661.8,772.4 662.3,772.3 662.8,772.2 663.3,772.1 663.8,771.9 664.3,771.8 664.8,771.7 665.3,771.6 665.8,771.4 666.3,771.3 666.8,771.2 667.3,771.0 667.8,770.9 668.3,770.7 668.8,770.6 669.3,770.5 669.8,770.3 670.3,770.2 670.8,770.0 671.3,769.9 671.8,769.7 672.3,769.6 672.8,769.4 673.3,769.3 673.8,769.1 674.3,769.0 674.8,768.8 675.3,768.6 675.8,768.5 676.4,768.3 676.9,768.1 677.4,768.0 677.9,767.8 678.4,767.6 678.9,767.5 679.4,767.3 679.9,767.1 680.4,766.9 680.9,766.7 681.4,766.5 681.9,766.4 682.4,766.2 682.9,766.0 683.4,765.8 683.9,765.6 684.4,765.4 684.9,765.2 685.4,765.0 685.9,764.7 686.4,764.5 686.9,764.3 687.4,764.1 687.9,763.9 688.4,763.6 688.9,763.4 689.4,763.2 689.9,762.9 690.4,762.7 690.9,762.5 691.4,762.2 691.9,762.0 692.4,761.7 692.9,761.5 693.4,761.2 693.9,761.0 694.4,760.7 694.9,760.4 695.4,760.2 695.9,759.9 696.4,759.7 696.9,759.4 697.4,759.1 697.9,758.9 698.4,758.6 698.9,758.3 699.4,758.0 699.8,757.8 700.3,757.5 700.8,757.2 701.3,756.9 701.8,756.6 702.3,756.3 702.8,756.0 703.3,755.7 703.8,755.5 704.3,755.2 704.8,754.9 705.3,754.6 705.8,754.3 706.3,753.9 706.8,753.6 707.3,753.3 707.7,753.0 708.2,752.7 708.7,752.4 709.2,752.1 709.7,751.8 710.2,751.5 710.7,751.2 711.2,750.9 711.7,750.6 712.2,750.2 712.7,749.9 713.2,749.6 713.7,749.3 714.2,749.0 714.7,748.7 715.2,748.4 715.7,748.1 716.2,747.8 716.7,747.4 717.2,747.1 717.7,746.8 718.2,746.5 718.7,746.2 719.2,745.9 719.7,745.6 720.3,745.3 720.8,744.9 721.3,744.6 721.8,744.3 722.3,744.0 722.8,743.7 723.3,743.4 723.8,743.0 724.3,742.7 724.8,742.4 725.3,742.1 725.8,741.8 726.3,741.4 726.8,741.1 727.3,740.8 727.8,740.5 728.3,740.1 728.8,739.8 729.3,739.5 729.8,739.2 730.3,738.8 730.8,738.5 731.3,738.2 731.8,737.9 732.3,737.5 732.8,737.2 733.3,736.9 733.8,736.5 734.3,736.2 734.8,735.9 735.3,735.6 735.8,735.2 736.2,734.9 736.7,734.6 737.2,734.3 737.7,733.9 738.2,733.6 738.7,733.3 739.2,733.0 739.7,732.6 740.2,732.3 740.7,732.0 741.2,731.7 741.7,731.4 742.2,731.1 742.7,730.8 743.1,730.5 743.6,730.2 744.1,729.9 744.6,729.6 745.1,729.3 745.6,729.0 746.1,728.7 746.7,728.4 747.2,728.2 747.7,727.9 748.2,727.6 748.7,727.4 749.2,727.1 749.7,726.9 750.2,726.6 750.8,726.4 751.3,726.2 751.8,725.9 752.3,725.7 752.8,725.5 753.4,725.3 753.9,725.1 754.4,724.9 754.9,724.7 755.5,724.5 756.0,724.3 756.5,724.1 757.1,723.9 757.6,723.8 758.1,723.6 758.7,723.4 759.2,723.3 759.7,723.1 760.2,722.9 760.8,722.8 761.3,722.6 761.8,722.5 762.4,722.4 762.9,722.2 763.4,722.1 764.0,722.0 764.5,721.9 765.0,721.8 765.5,721.7 766.1,721.6 766.6,721.5 767.1,721.4 767.6,721.3 768.2,721.2 768.7,721.1 769.2,721.1 769.7,721.0 770.2,720.9 770.7,720.9 771.3,720.8 771.8,720.8 772.3,720.8 772.8,720.8 773.3,720.7 773.8,720.7 774.3,720.7 774.8,720.7 775.3,720.7 775.8,720.7 776.3,720.7 776.8,720.8 777.3,720.8 777.8,720.8 778.3,720.9 778.7,720.9 779.2,721.0 779.7,721.0 780.2,721.1 780.7,721.2 781.2,721.2 781.6,721.3 782.1,721.4 782.6,721.5 783.1,721.6 783.5,721.7 784.0,721.8 784.5,721.9 785.0,722.0 785.4,722.1 785.9,722.3 786.4,722.4 786.9,722.5 787.3,722.7 787.8,722.8 788.3,723.0 788.7,723.1 789.2,723.3 789.7,723.4 790.2,723.6 790.7,723.8 791.1,724.0 791.6,724.1 792.1,724.3 792.6,724.5 793.1,724.7 793.5,724.9 794.0,725.1 794.5,725.3 795.0,725.5 795.5,725.7 796.0,726.0 796.5,726.2 797.0,726.4 797.4,726.7 797.9,726.9 798.4,727.2 798.9,727.4 799.4,727.7 799.9,727.9 800.4,728.2 800.9,728.5 801.4,728.7 801.9,729.0 802.4,729.3 802.9,729.6 803.4,729.9 803.9,730.2 804.4,730.5 804.9,730.8 805.4,731.1 805.9,731.4 806.4,731.7 806.9,732.1 807.4,732.4 807.9,732.7 808.4,733.1 808.9,733.4 809.4,733.8 809.9,734.1 810.4,734.5 810.9,734.8 811.4,735.2 811.9,735.6 812.4,735.9 812.9,736.3 813.4,736.7 813.9,737.1 814.4,737.4 814.9,737.8 815.4,738.2 815.9,738.6 816.4,739.0 816.9,739.4 817.4,739.8 818.0,740.2 818.5,740.6 819.0,741.0 819.5,741.4 820.0,741.8 820.5,742.2 821.0,742.6 821.5,743.0 822.0,743.4 822.5,743.8 823.0,744.2 823.5,744.6 824.1,745.0 824.6,745.5 825.1,745.9 825.6,746.3 826.1,746.7 826.6,747.1 827.1,747.6 827.6,748.0 828.1,748.4 828.7,748.8 829.2,749.3 829.7,749.7 830.2,750.1 830.7,750.6 831.2,751.0 831.7,751.4 832.2,751.9 832.7,752.3 833.2,752.8 833.7,753.2 834.2,753.7 834.7,754.1 835.2,754.6 835.7,755.0 836.2,755.5 836.7,755.9 837.2,756.4 837.7,756.8 838.1,757.3 838.6,757.7 839.1,758.2 839.6,758.7 840.1,759.1 840.6,759.6 841.1,760.0 841.5,760.5 842.0,761.0 842.5,761.4 843.0,761.9 843.5,762.4 843.9,762.8 844.4,763.3 844.9,763.7 845.4,764.2 845.8,764.7 846.3,765.1 846.8,765.6 847.3,766.0 847.7,766.5 848.2,767.0 848.7,767.4 849.2,767.8 849.7,768.3 850.1,768.7 850.6,769.2 851.1,769.6 851.6,770.0 852.1,770.4 852.6,770.9 853.1,771.3 853.6,771.7 854.1,772.1 854.6,772.5 855.1,772.9 855.6,773.3 856.1,773.7 856.6,774.1 857.1,774.5 857.6,774.9 858.1,775.3 858.6,775.7 859.1,776.0 859.6,776.4 860.1,776.8 860.6,777.2 861.1,777.5 861.6,777.9 862.1,778.3 862.6,778.7 863.1,779.0 863.6,779.4 864.1,779.7 864.6,780.1 865.1,780.4 865.6,780.8 866.1,781.1 866.6,781.5 867.1,781.8 867.6,782.1 868.1,782.5 868.6,782.8 869.1,783.1 869.6,783.5 870.1,783.8 870.6,784.1 871.1,784.4 871.6,784.7 872.1,785.0 872.6,785.3 873.1,785.6 873.6,785.9 874.1,786.2 874.6,786.5 875.1,786.8 875.6,787.1 876.1,787.4 876.6,787.6 877.1,787.9 877.6,788.2 878.1,788.5 878.6,788.7 879.1,789.0 879.7,789.2 880.2,789.5 880.7,789.7 881.2,790.0 881.7,790.2 882.2,790.4 882.7,790.7 883.2,790.9 883.7,791.1 884.2,791.3 884.8,791.5 885.3,791.7 885.8,792.0 886.3,792.2 886.8,792.4 887.3,792.6 887.8,792.8 888.3,793.0 888.8,793.2 889.3,793.3 889.8,793.5 890.3,793.7 890.9,793.9 891.4,794.1 891.9,794.3 892.4,794.4 892.9,794.6 893.4,794.8 893.9,795.0 894.4,795.1 894.9,795.3 895.4,795.5 895.9,795.6 896.4,795.8 896.9,796.0 897.4,796.1 897.9,796.3 898.4,796.4 898.9,796.6 899.4,796.7 899.9,796.9 900.4,797.0 900.9,797.2 901.4,797.3 901.9,797.5 902.4,797.6 902.9,797.8 903.4,797.9 903.9,798.0 904.4,798.2 904.9,798.3 905.4,798.4 905.9,798.6 906.4,798.7 906.9,798.8 907.4,799.0 907.9,799.1 908.4,799.2 908.9,799.3 909.4,799.5 909.9,799.6 910.4,799.7 910.9,799.8 911.4,799.9 911.9,800.0 912.4,800.1 912.9,800.3 913.4,800.4 913.9,800.5 914.4,800.6 914.9,800.7 915.4,800.8 915.9,800.9 916.4,801.0 916.9,801.1 917.4,801.2 917.8,801.3 918.3,801.4 918.8,801.5 919.3,801.5 919.8,801.6 920.3,801.7 920.8,801.8 921.3,801.9 921.8,802.0 922.3,802.1 922.8,802.1 923.3,802.2 923.8,802.3 924.3,802.4 924.8,802.4 925.3,802.5 925.8,802.6 926.3,802.7 926.8,802.7 927.3,802.8 927.8,802.9 928.3,802.9 928.8,803.0 929.3,803.1 929.8,803.1 930.3,803.2 930.8,803.2 931.3,803.3 931.8,803.3 932.3,803.4 932.8,803.5 933.3,803.5 933.8,803.6 934.3,803.6 934.8,803.7 935.3,803.7 935.8,803.7 936.3,803.8 936.8,803.8 937.3,803.9 937.8,803.9 938.3,804.0 938.8,804.0 939.3,804.0 939.8,804.1 940.3,804.1 940.8,804.1 941.3,804.2 941.8,804.2 942.3,804.2 942.8,804.3 943.3,804.3 943.8,804.3 944.3,804.4 944.8,804.4 945.3,804.4 945.8,804.5 946.3,804.5 946.8,804.5 947.3,804.5 947.8,804.6 948.3,804.6 948.8,804.6 949.3,804.7 949.8,804.7 950.3,804.7 950.8,804.7 951.3,804.8 951.8,804.8 952.3,804.8 952.8,804.8 953.3,804.9 953.8,804.9 954.3,804.9 954.8,804.9 955.3,805.0 955.8,805.0 956.3,805.0 956.8,805.1 957.3,805.1 957.8,805.1 958.3,805.1 958.8,805.2 959.3,805.2 959.8,805.2 960.3,805.2 960.8,805.3 961.3,805.3 961.8,805.3 962.3,805.3 962.8,805.4 963.3,805.4 963.8,805.4 964.3,805.4 964.8,805.5 965.3,805.5 965.8,805.5 966.3,805.5 966.8,805.6 967.3,805.6 967.8,805.6 968.3,805.6 968.8,805.6 969.3,805.6 969.8,805.7 970.3,805.7 970.8,805.7 971.3,805.7 971.8,805.7 972.3,805.7 972.8,805.7 973.3,805.8 973.8,805.8 974.3,805.8 974.8,805.8 975.3,805.8 975.8,805.8 976.3,805.8 976.8,805.8 977.3,805.9 977.8,805.9 978.3,805.9 978.8,805.9 979.3,805.9 979.8,805.9" stroke="#0000ff" stroke-width="2.3" fill="none"/>
<rect x="23.50" y="7.00" width="436.50" height="379.50" fill="none" stroke="#000" stroke-width="2.1"/>
<path d="M23.50,38.62h4.5 M23.50,70.25h7.5 M23.50,101.88h4.5 M23.50,133.50h7.5 M23.50,165.12h4.5 M23.50,196.75h7.5 M23.50,228.38h4.5 M23.50,260.00h7.5 M23.50,291.62h4.5 M23.50,323.25h7.5 M23.50,354.88h4.5 M23.50,386.50v7.5 M50.78,386.50v4.0 M78.06,386.50v7.5 M105.34,386.50v4.0 M132.62,386.50v7.5 M159.91,386.50v4.0 M187.19,386.50v7.5 M214.47,386.50v4.0 M241.75,386.50v7.5 M269.03,386.50v4.0 M296.31,386.50v7.5 M323.59,386.50v4.0 M350.88,386.50v7.5 M378.16,386.50v4.0 M405.44,386.50v7.5 M432.72,386.50v4.0 M460.00,386.50v7.5" stroke="#000" stroke-width="2" fill="none"/>
<text x="23.50" y="411.50" class="tl">406</text>
<text x="78.06" y="411.50" class="tl">404</text>
<text x="132.62" y="411.50" class="tl">402</text>
<text x="187.19" y="411.50" class="tl">400</text>
<text x="241.75" y="411.50" class="tl">398</text>
<text x="296.31" y="411.50" class="tl">396</text>
<text x="350.88" y="411.50" class="tl">394</text>
<text x="405.44" y="411.50" class="tl">392</text>
<text x="460.00" y="411.50" class="tl">390</text>
<text transform="translate(170.20,437.80) scale(0.93,1)" class="at">Binding energy (eV)</text>
<rect x="569.20" y="7.35" width="436.30" height="379.65" fill="none" stroke="#000" stroke-width="2.1"/>
<path d="M569.20,38.99h4.5 M569.20,70.62h7.5 M569.20,102.26h4.5 M569.20,133.90h7.5 M569.20,165.54h4.5 M569.20,197.17h7.5 M569.20,228.81h4.5 M569.20,260.45h7.5 M569.20,292.09h4.5 M569.20,323.73h7.5 M569.20,355.36h4.5 M569.20,387.00v7.5 M596.47,387.00v4.0 M623.74,387.00v7.5 M651.01,387.00v4.0 M678.28,387.00v7.5 M705.54,387.00v4.0 M732.81,387.00v7.5 M760.08,387.00v4.0 M787.35,387.00v7.5 M814.62,387.00v4.0 M841.89,387.00v7.5 M869.16,387.00v4.0 M896.42,387.00v7.5 M923.69,387.00v4.0 M950.96,387.00v7.5 M978.23,387.00v4.0 M1005.50,387.00v7.5" stroke="#000" stroke-width="2" fill="none"/>
<text x="569.20" y="412.00" class="tl">406</text>
<text x="623.74" y="412.00" class="tl">404</text>
<text x="678.28" y="412.00" class="tl">402</text>
<text x="732.81" y="412.00" class="tl">400</text>
<text x="787.35" y="412.00" class="tl">398</text>
<text x="841.89" y="412.00" class="tl">396</text>
<text x="896.42" y="412.00" class="tl">394</text>
<text x="950.96" y="412.00" class="tl">392</text>
<text x="1005.50" y="412.00" class="tl" clip-path="url(#clip390)">390</text>
<text transform="translate(716.30,439.10) scale(0.93,1)" class="at">Binding energy (eV)</text>
<rect x="22.30" y="464.00" width="436.60" height="379.60" fill="none" stroke="#000" stroke-width="2.1"/>
<path d="M22.30,495.63h4.5 M22.30,527.27h7.5 M22.30,558.90h4.5 M22.30,590.53h7.5 M22.30,622.17h4.5 M22.30,653.80h7.5 M22.30,685.43h4.5 M22.30,717.07h7.5 M22.30,748.70h4.5 M22.30,780.33h7.5 M22.30,811.97h4.5 M22.30,843.60v7.5 M49.59,843.60v4.0 M76.88,843.60v7.5 M104.16,843.60v4.0 M131.45,843.60v7.5 M158.74,843.60v4.0 M186.03,843.60v7.5 M213.31,843.60v4.0 M240.60,843.60v7.5 M267.89,843.60v4.0 M295.18,843.60v7.5 M322.46,843.60v4.0 M349.75,843.60v7.5 M377.04,843.60v4.0 M404.32,843.60v7.5 M431.61,843.60v4.0 M458.90,843.60v7.5" stroke="#000" stroke-width="2" fill="none"/>
<text x="22.30" y="868.60" class="tl">406</text>
<text x="76.88" y="868.60" class="tl">404</text>
<text x="131.45" y="868.60" class="tl">402</text>
<text x="186.03" y="868.60" class="tl">400</text>
<text x="240.60" y="868.60" class="tl">398</text>
<text x="295.18" y="868.60" class="tl">396</text>
<text x="349.75" y="868.60" class="tl">394</text>
<text x="404.32" y="868.60" class="tl">392</text>
<text x="458.90" y="868.60" class="tl">390</text>
<text transform="translate(169.40,895.50) scale(0.93,1)" class="at">Binding energy (eV)</text>
<rect x="568.50" y="462.90" width="436.50" height="379.30" fill="none" stroke="#000" stroke-width="2.1"/>
<path d="M568.50,494.51h4.5 M568.50,526.12h7.5 M568.50,557.73h4.5 M568.50,589.33h7.5 M568.50,620.94h4.5 M568.50,652.55h7.5 M568.50,684.16h4.5 M568.50,715.77h7.5 M568.50,747.38h4.5 M568.50,778.98h7.5 M568.50,810.59h4.5 M568.50,842.20v7.5 M595.78,842.20v4.0 M623.06,842.20v7.5 M650.34,842.20v4.0 M677.62,842.20v7.5 M704.91,842.20v4.0 M732.19,842.20v7.5 M759.47,842.20v4.0 M786.75,842.20v7.5 M814.03,842.20v4.0 M841.31,842.20v7.5 M868.59,842.20v4.0 M895.88,842.20v7.5 M923.16,842.20v4.0 M950.44,842.20v7.5 M977.72,842.20v4.0 M1005.00,842.20v7.5" stroke="#000" stroke-width="2" fill="none"/>
<text x="568.50" y="867.20" class="tl">406</text>
<text x="623.06" y="867.20" class="tl">404</text>
<text x="677.62" y="867.20" class="tl">402</text>
<text x="732.19" y="867.20" class="tl">400</text>
<text x="786.75" y="867.20" class="tl">398</text>
<text x="841.31" y="867.20" class="tl">396</text>
<text x="895.88" y="867.20" class="tl">394</text>
<text x="950.44" y="867.20" class="tl">392</text>
<text x="1005.00" y="867.20" class="tl">390</text>
<text transform="translate(715.50,897.20) scale(0.93,1)" class="at">Binding energy (eV)</text>
<text x="416.2" y="34.4" class="lb" style="letter-spacing:-0.3px;font-size:18.4px">R.T.</text>
<text x="948.9" y="32.9" class="lb">340</text><circle cx="983.5" cy="21.1" r="2.25" fill="none" stroke="#000" stroke-width="1.3"/><text x="986.2" y="33.699999999999996" class="lb" style="font-size:19.4px" transform="translate(986.2,0) scale(0.93,1) translate(-986.2,0)">C</text>
<text x="402.0" y="492.4" class="lb">540</text><circle cx="436.25" cy="480.35" r="2.25" fill="none" stroke="#000" stroke-width="1.3"/><text x="439.6" y="493.2" class="lb" style="font-size:19.4px" transform="translate(439.6,0) scale(0.93,1) translate(-439.6,0)">C</text>
<text x="946.4" y="489.9" class="lb">580</text><circle cx="981.0" cy="478.0" r="2.25" fill="none" stroke="#000" stroke-width="1.3"/><text x="984.0" y="490.7" class="lb" style="font-size:19.4px" transform="translate(984.0,0) scale(0.93,1) translate(-984.0,0)">C</text>
<text x="103.5" y="229.6" class="an">402.5</text>
<text x="679.3" y="232.7" class="an">401.4</text>
</svg></body></html>
